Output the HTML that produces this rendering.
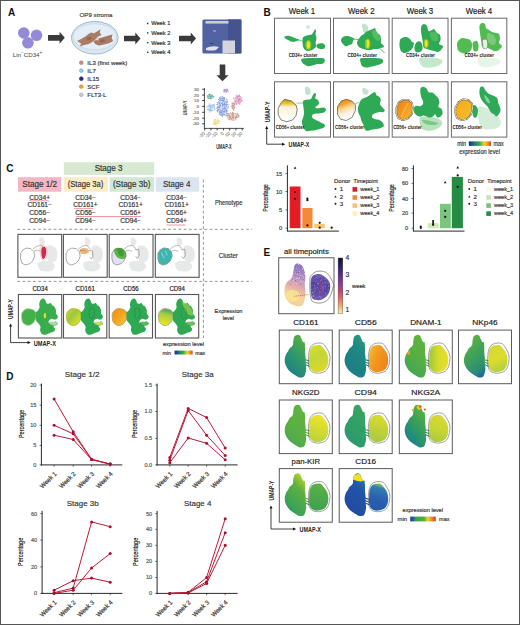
<!DOCTYPE html>
<html><head><meta charset="utf-8"><style>
html,body{margin:0;padding:0;background:#fff;}
svg{display:block;font-family:"Liberation Sans", sans-serif;}
</style></head><body>
<svg width="520" height="625" viewBox="0 0 520 625">
<defs>
<linearGradient id="gExpr" x1="0" x2="1" y1="0" y2="0">
<stop offset="0" stop-color="#1b2a6a"/><stop offset="0.12" stop-color="#1f4a8c"/><stop offset="0.3" stop-color="#1f8a6e"/>
<stop offset="0.48" stop-color="#3ca846"/><stop offset="0.62" stop-color="#a6cb32"/><stop offset="0.72" stop-color="#f0d422"/><stop offset="0.86" stop-color="#f28a22"/><stop offset="1" stop-color="#d8402a"/>
</linearGradient>
<linearGradient id="gB5" x1="0" x2="0" y1="0" y2="1">
<stop offset="0" stop-color="#c8901a"/><stop offset="0.18" stop-color="#e8c228"/><stop offset="0.35" stop-color="#fbf3d8"/><stop offset="1" stop-color="#ffffff"/>
</linearGradient>
<linearGradient id="gB6" x1="0" x2="0.3" y1="0" y2="1">
<stop offset="0" stop-color="#e47a12"/><stop offset="0.3" stop-color="#f2a32a"/><stop offset="0.5" stop-color="#f8d89a"/><stop offset="0.75" stop-color="#fdf3e6"/><stop offset="1" stop-color="#ffffff"/>
</linearGradient>
<linearGradient id="gB7" x1="0" x2="1" y1="0" y2="1">
<stop offset="0" stop-color="#ef7d14"/><stop offset="0.5" stop-color="#f29a1c"/><stop offset="1" stop-color="#f6c43a"/>
</linearGradient>
<linearGradient id="gB8" x1="0" x2="1" y1="0" y2="1">
<stop offset="0" stop-color="#f6a81c"/><stop offset="0.5" stop-color="#f4b420"/><stop offset="1" stop-color="#f2c232"/>
</linearGradient>

<linearGradient id="gC161" x1="0" x2="1" y1="0" y2="1">
<stop offset="0" stop-color="#d8d828"/><stop offset="0.4" stop-color="#9ac840"/><stop offset="0.7" stop-color="#c8d830"/><stop offset="1" stop-color="#f0e420"/>
</linearGradient>
<linearGradient id="gC56" x1="0" x2="1" y1="0" y2="1">
<stop offset="0" stop-color="#f08a10"/><stop offset="0.5" stop-color="#f4a420"/><stop offset="1" stop-color="#f8d040"/>
</linearGradient>
<linearGradient id="gC94" x1="0.5" x2="0.3" y1="0" y2="1">
<stop offset="0" stop-color="#3aa070"/><stop offset="0.35" stop-color="#a8d040"/><stop offset="1" stop-color="#f2e620"/>
</linearGradient>

<path id="eL" d="M15.10,6.50 C15.73,5.50 16.90,4.98 17.80,4.80 C18.70,4.62 19.78,4.77 20.50,5.40 C21.22,6.03 21.57,7.53 22.10,8.60 C22.63,9.67 23.17,11.17 23.70,11.80 C24.23,12.43 24.95,11.50 25.30,12.40 C25.65,13.30 25.72,15.50 25.80,17.20 C25.88,18.90 25.70,20.80 25.80,22.60 C25.90,24.40 26.30,26.20 26.40,28.00 C26.50,29.80 26.32,31.60 26.40,33.40 C26.48,35.20 27.00,37.00 26.90,38.80 C26.80,40.60 26.25,42.87 25.80,44.20 C25.35,45.53 25.08,46.27 24.20,46.80 C23.32,47.33 21.67,47.57 20.50,47.40 C19.33,47.23 18.47,46.52 17.20,45.80 C15.93,45.08 14.23,44.10 12.90,43.10 C11.57,42.10 10.27,41.07 9.20,39.80 C8.13,38.53 7.13,37.10 6.50,35.50 C5.87,33.90 5.40,31.98 5.40,30.20 C5.40,28.42 5.97,26.25 6.50,24.80 C7.03,23.35 7.98,22.58 8.60,21.50 C9.22,20.42 9.38,19.37 10.20,18.30 C11.02,17.23 12.87,16.35 13.50,15.10 C14.13,13.85 13.73,12.23 14.00,10.80 C14.27,9.37 14.47,7.50 15.10,6.50Z"/>
<path id="eR" d="M31.20,19.40 C31.73,18.33 32.32,16.92 33.40,16.20 C34.48,15.48 36.28,15.20 37.70,15.10 C39.12,15.00 40.65,14.88 41.90,15.60 C43.15,16.32 44.20,18.05 45.20,19.40 C46.20,20.75 47.27,22.08 47.90,23.70 C48.53,25.32 48.90,27.30 49.00,29.10 C49.10,30.90 48.95,32.88 48.50,34.50 C48.05,36.12 47.20,37.73 46.30,38.80 C45.40,39.87 44.35,40.37 43.10,40.90 C41.85,41.43 40.23,41.90 38.80,42.00 C37.37,42.10 35.77,42.03 34.50,41.50 C33.23,40.97 31.97,39.97 31.20,38.80 C30.43,37.63 30.12,36.30 29.90,34.50 C29.68,32.70 29.85,29.98 29.90,28.00 C29.95,26.02 29.98,24.03 30.20,22.60 C30.42,21.17 30.67,20.47 31.20,19.40Z"/>
<path id="eP" d="M31.20,17.20 C32.02,15.77 33.07,14.72 34.50,14.00 C35.93,13.28 38.18,12.90 39.80,12.90 C41.42,12.90 42.93,13.10 44.20,14.00 C45.47,14.90 46.42,16.68 47.40,18.30 C48.38,19.92 49.57,21.90 50.10,23.70 C50.63,25.50 50.70,27.13 50.60,29.10 C50.50,31.07 50.03,33.72 49.50,35.50 C48.97,37.28 48.28,38.72 47.40,39.80 C46.52,40.88 45.53,41.45 44.20,42.00 C42.87,42.55 41.02,43.02 39.40,43.10 C37.78,43.18 35.87,42.95 34.50,42.50 C33.13,42.05 32.02,41.38 31.20,40.40 C30.38,39.42 29.95,38.30 29.60,36.60 C29.25,34.90 29.10,32.53 29.10,30.20 C29.10,27.87 29.25,24.77 29.60,22.60 C29.95,20.43 30.38,18.63 31.20,17.20Z"/>
<path id="aL" d="M18.50,5.70 C19.63,5.62 21.77,6.18 23.00,7.40 C24.23,8.62 25.23,11.12 25.90,13.00 C26.57,14.88 26.92,16.42 27.00,18.70 C27.08,20.98 26.40,24.05 26.40,26.70 C26.40,29.35 27.08,31.77 27.00,34.60 C26.92,37.43 26.57,41.43 25.90,43.70 C25.23,45.97 24.33,47.45 23.00,48.20 C21.67,48.95 19.68,48.57 17.90,48.20 C16.12,47.83 14.00,47.13 12.30,46.00 C10.60,44.87 8.75,43.30 7.70,41.40 C6.65,39.50 6.18,36.68 6.00,34.60 C5.82,32.52 6.13,30.60 6.60,28.90 C7.07,27.20 7.67,25.90 8.80,24.40 C9.93,22.90 12.35,21.80 13.40,19.90 C14.45,18.00 14.63,15.00 15.10,13.00 C15.57,11.00 15.63,9.12 16.20,7.90 C16.77,6.68 17.37,5.78 18.50,5.70Z"/>
<path id="aR" d="M32.70,21.00 C33.33,18.45 34.58,17.75 36.10,17.00 C37.62,16.25 39.92,16.02 41.80,16.50 C43.68,16.98 45.80,18.40 47.40,19.90 C49.00,21.40 50.73,23.43 51.40,25.50 C52.07,27.57 51.87,30.22 51.40,32.30 C50.93,34.38 50.02,36.38 48.60,38.00 C47.18,39.62 44.98,41.33 42.90,42.00 C40.82,42.67 37.72,42.48 36.10,42.00 C34.48,41.52 33.83,40.72 33.20,39.10 C32.57,37.48 32.38,35.32 32.30,32.30 C32.22,29.28 32.07,23.55 32.70,21.00Z"/>
<path id="aP" d="M32.10,18.70 C33.05,17.00 35.22,15.05 37.20,14.20 C39.18,13.35 41.92,13.22 44.00,13.60 C46.08,13.98 47.90,14.52 49.70,16.50 C51.50,18.48 53.95,23.43 54.80,25.50 C55.65,27.57 55.27,26.82 54.80,28.90 C54.33,30.98 53.23,35.53 52.00,38.00 C50.77,40.47 49.30,42.47 47.40,43.70 C45.50,44.93 42.68,45.32 40.60,45.40 C38.52,45.48 36.22,44.87 34.90,44.20 C33.58,43.53 33.27,43.38 32.70,41.40 C32.13,39.42 31.70,35.13 31.50,32.30 C31.30,29.47 31.40,26.67 31.50,24.40 C31.60,22.13 31.15,20.40 32.10,18.70Z"/>
<clipPath id="clipAR"><path d="M32.70,21.00 C33.33,18.45 34.58,17.75 36.10,17.00 C37.62,16.25 39.92,16.02 41.80,16.50 C43.68,16.98 45.80,18.40 47.40,19.90 C49.00,21.40 50.73,23.43 51.40,25.50 C52.07,27.57 51.87,30.22 51.40,32.30 C50.93,34.38 50.02,36.38 48.60,38.00 C47.18,39.62 44.98,41.33 42.90,42.00 C40.82,42.67 37.72,42.48 36.10,42.00 C34.48,41.52 33.83,40.72 33.20,39.10 C32.57,37.48 32.38,35.32 32.30,32.30 C32.22,29.28 32.07,23.55 32.70,21.00Z"/></clipPath>
<clipPath id="clipAL"><path d="M18.50,5.70 C19.63,5.62 21.77,6.18 23.00,7.40 C24.23,8.62 25.23,11.12 25.90,13.00 C26.57,14.88 26.92,16.42 27.00,18.70 C27.08,20.98 26.40,24.05 26.40,26.70 C26.40,29.35 27.08,31.77 27.00,34.60 C26.92,37.43 26.57,41.43 25.90,43.70 C25.23,45.97 24.33,47.45 23.00,48.20 C21.67,48.95 19.68,48.57 17.90,48.20 C16.12,47.83 14.00,47.13 12.30,46.00 C10.60,44.87 8.75,43.30 7.70,41.40 C6.65,39.50 6.18,36.68 6.00,34.60 C5.82,32.52 6.13,30.60 6.60,28.90 C7.07,27.20 7.67,25.90 8.80,24.40 C9.93,22.90 12.35,21.80 13.40,19.90 C14.45,18.00 14.63,15.00 15.10,13.00 C15.57,11.00 15.63,9.12 16.20,7.90 C16.77,6.68 17.37,5.78 18.50,5.70Z"/></clipPath>
<linearGradient id="gExprE" x1="0" y1="0" x2="1" y2="0"><stop offset="0" stop-color="#1f3c9c"/><stop offset="0.1" stop-color="#2456a4"/><stop offset="0.22" stop-color="#3aa04a"/><stop offset="0.55" stop-color="#52b044"/><stop offset="0.68" stop-color="#e8d42c"/><stop offset="0.84" stop-color="#f08a2c"/><stop offset="1" stop-color="#dc3a2e"/></linearGradient>
<linearGradient id="gWeek" x1="0" y1="0" x2="0" y2="1"><stop offset="0" stop-color="#120a30"/><stop offset="0.15" stop-color="#2e1f66"/><stop offset="0.3" stop-color="#5a2a8a"/><stop offset="0.45" stop-color="#8e3591"/><stop offset="0.6" stop-color="#c2437a"/><stop offset="0.72" stop-color="#e8645e"/><stop offset="0.86" stop-color="#f8a56e"/><stop offset="1" stop-color="#fbf2a8"/></linearGradient>
<linearGradient id="gEall" x1="0.5" y1="0" x2="0.3" y2="1"><stop offset="0" stop-color="#8f74bf"/><stop offset="0.3" stop-color="#b892c4"/><stop offset="0.5" stop-color="#e4a9ab"/><stop offset="0.75" stop-color="#f4d69a"/><stop offset="1" stop-color="#efcfa0"/></linearGradient>
<linearGradient id="gEallR" x1="0" y1="0" x2="0" y2="1"><stop offset="0" stop-color="#6a58b0"/><stop offset="0.5" stop-color="#5844a0"/><stop offset="1" stop-color="#6a5ab0"/></linearGradient>
<linearGradient id="eL1" x1="0.7" y1="0" x2="0.2" y2="1"><stop offset="0" stop-color="#5aac40"/><stop offset="0.45" stop-color="#2f9a6a"/><stop offset="1" stop-color="#1c7a8a"/></linearGradient>
<linearGradient id="eR1" x1="0" y1="0" x2="0.3" y2="1"><stop offset="0" stop-color="#d6df2a"/><stop offset="0.5" stop-color="#c4d636"/><stop offset="1" stop-color="#d8d830"/></linearGradient>
<linearGradient id="eL2" x1="0.7" y1="0" x2="0.2" y2="1"><stop offset="0" stop-color="#279a78"/><stop offset="0.3" stop-color="#1f8882"/><stop offset="1" stop-color="#1c7a86"/></linearGradient>
<linearGradient id="eR2" x1="0" y1="0.2" x2="1" y2="0.8"><stop offset="0" stop-color="#f4b830"/><stop offset="0.4" stop-color="#f3981e"/><stop offset="1" stop-color="#ee7f1a"/></linearGradient>
<linearGradient id="eL3" x1="0.7" y1="0" x2="0.2" y2="1"><stop offset="0" stop-color="#5fb43e"/><stop offset="0.5" stop-color="#56ae44"/><stop offset="1" stop-color="#3ea25a"/></linearGradient>
<linearGradient id="eR3" x1="0" y1="0.5" x2="1" y2="0.5"><stop offset="0" stop-color="#9cc83a"/><stop offset="0.5" stop-color="#d8dc2a"/><stop offset="1" stop-color="#e8e028"/></linearGradient>
<linearGradient id="eL4" x1="0.3" y1="0" x2="0.7" y2="1"><stop offset="0" stop-color="#5cb440"/><stop offset="0.5" stop-color="#3ea05a"/><stop offset="0.85" stop-color="#2a8c78"/><stop offset="1" stop-color="#1e6aa0"/></linearGradient>
<linearGradient id="eR4" x1="0" y1="0" x2="0.3" y2="1"><stop offset="0" stop-color="#d0d838"/><stop offset="0.6" stop-color="#dcdc2c"/><stop offset="1" stop-color="#b8d040"/></linearGradient>
<linearGradient id="eL5" x1="0.7" y1="0" x2="0.2" y2="1"><stop offset="0" stop-color="#5eb43e"/><stop offset="0.6" stop-color="#5aaf44"/><stop offset="1" stop-color="#46a454"/></linearGradient>
<linearGradient id="eR5" x1="0.5" y1="0" x2="0.3" y2="1"><stop offset="0" stop-color="#ece42a"/><stop offset="0.5" stop-color="#d4dc30"/><stop offset="1" stop-color="#b8d040"/></linearGradient>
<linearGradient id="eL6" x1="0.7" y1="0" x2="0.2" y2="1"><stop offset="0" stop-color="#3aa260"/><stop offset="0.5" stop-color="#30a068"/><stop offset="1" stop-color="#2a9670"/></linearGradient>
<linearGradient id="eR6" x1="0.5" y1="0" x2="0.3" y2="1"><stop offset="0" stop-color="#d8dc2c"/><stop offset="0.5" stop-color="#c0d238"/><stop offset="1" stop-color="#a8c844"/></linearGradient>
<linearGradient id="eL7" x1="0.8" y1="0" x2="0.2" y2="1"><stop offset="0" stop-color="#5fb43e"/><stop offset="0.4" stop-color="#3aa058"/><stop offset="0.8" stop-color="#1f8a80"/><stop offset="1" stop-color="#1a6f94"/></linearGradient>
<linearGradient id="eR7" x1="0.5" y1="0" x2="0.3" y2="1"><stop offset="0" stop-color="#d6da30"/><stop offset="0.5" stop-color="#c8d634"/><stop offset="1" stop-color="#a8c844"/></linearGradient>
<linearGradient id="eL8" x1="0.7" y1="0" x2="0.2" y2="1"><stop offset="0" stop-color="#b8d034"/><stop offset="0.3" stop-color="#5eb040"/><stop offset="0.7" stop-color="#40a454"/><stop offset="1" stop-color="#2a9868"/></linearGradient>
<linearGradient id="eR8" x1="0.5" y1="0" x2="0.3" y2="1"><stop offset="0" stop-color="#5eb044"/><stop offset="0.5" stop-color="#4aa84c"/><stop offset="1" stop-color="#3ea050"/></linearGradient>
<linearGradient id="eL9" x1="0.7" y1="0" x2="0.2" y2="1"><stop offset="0" stop-color="#2a70b0"/><stop offset="0.3" stop-color="#2254a8"/><stop offset="1" stop-color="#1f4aa0"/></linearGradient>
<linearGradient id="eR9" x1="0.5" y1="0" x2="0.3" y2="1"><stop offset="0" stop-color="#8ec448"/><stop offset="0.15" stop-color="#3080b0"/><stop offset="0.5" stop-color="#2a62b0"/><stop offset="1" stop-color="#2458a8"/></linearGradient>
</defs>
<rect x="0" y="0" width="520" height="625" fill="#fff"/>
<text x="8" y="16" font-size="10" text-anchor="start" font-weight="bold" fill="#111" >A</text>
<circle cx="23.8" cy="33" r="5.8" fill="#948ad8"/>
<circle cx="36.5" cy="35.3" r="5.8" fill="#948ad8"/>
<circle cx="27.9" cy="42.8" r="5.8" fill="#948ad8"/>
<text x="12.8" y="56.6" font-size="6.2" fill="#444">Lin<tspan font-size="4.5" dy="-2.2">−</tspan><tspan dy="2.2">CD34</tspan><tspan font-size="4.5" dy="-2.2">+</tspan></text>
<polygon points="48.0,34.9 59.6,34.9 59.6,31.7 64.8,37.8 59.6,43.8 59.6,40.7 48.0,40.7" fill="#3a3a3a"/>
<text x="96" y="17" font-size="6.2" text-anchor="middle" font-weight="normal" fill="#444" stroke="#444" stroke-width="0.18" >OP9 stroma</text>
<ellipse cx="94.8" cy="37.8" rx="23.3" ry="16.3" fill="#d9e7f2" stroke="#8ea8c0" stroke-width="0.8"/>
<ellipse cx="94.8" cy="36.8" rx="21.6" ry="13" fill="#e4eef7" stroke="#c0d4e4" stroke-width="0.7"/>
<path d="M77,41 L82,38.5 L86,36 L88.5,34 L91,32.6 L94,33.3 L97,31.5 L100.5,29.2 L99.8,32.8 L101.5,35 L97.5,37 L95.5,39.5 L92,42.3 L88,44.3 L84,45 L80,46.5 L81,43.5 Z" fill="#ab7c64"/>
<path d="M93.5,41.5 L98,38.6 L102,37.4 L106,36.3 L109.5,35.2 L112.6,34.5 L111.6,38 L113.2,41 L109,43.2 L104,44.6 L99,45.6 L95.5,44.2 Z" fill="#a87a63"/>
<path d="M86,38 L90,36.5 L92,38.5 L88,40.5 Z M100,40 L104,39 L105,41.5 L101,42.5 Z" fill="#8a5c48" opacity="0.7"/>
<path d="M95.5,39.5 L99,38.3 L98,40.8 Z" fill="#e8d8d0"/>
<circle cx="81.3" cy="62.7" r="1.9" fill="#c8907f" stroke="#b07868" stroke-width="0.6"/>
<text x="87.3" y="64.8" font-size="6.1" text-anchor="start" font-weight="normal" fill="#3a3a3a" stroke="#3a3a3a" stroke-width="0.18" >IL3 (first week)</text>
<circle cx="81.3" cy="70.6" r="1.9" fill="#86d3e3" stroke="#5ab8cc" stroke-width="0.6"/>
<text x="87.3" y="72.69999999999999" font-size="6.1" text-anchor="start" font-weight="normal" fill="#3a3a3a" stroke="#3a3a3a" stroke-width="0.18" >IL7</text>
<circle cx="81.3" cy="78.7" r="1.9" fill="#2d2a78" stroke="#25226a" stroke-width="0.6"/>
<text x="87.3" y="80.8" font-size="6.1" text-anchor="start" font-weight="normal" fill="#3a3a3a" stroke="#3a3a3a" stroke-width="0.18" >IL15</text>
<circle cx="81.3" cy="86.6" r="1.9" fill="#e6a633" stroke="#d09020" stroke-width="0.6"/>
<text x="87.3" y="88.69999999999999" font-size="6.1" text-anchor="start" font-weight="normal" fill="#3a3a3a" stroke="#3a3a3a" stroke-width="0.18" >SCF</text>
<circle cx="81.3" cy="94.8" r="1.9" fill="#c9c9c9" stroke="#a8a8a8" stroke-width="0.6"/>
<text x="87.3" y="96.89999999999999" font-size="6.1" text-anchor="start" font-weight="normal" fill="#3a3a3a" stroke="#3a3a3a" stroke-width="0.18" >FLT3-L</text>
<polygon points="124.0,35.7 135.3,35.7 135.3,32.5 140.5,38.5 135.3,44.5 135.3,41.3 124.0,41.3" fill="#3a3a3a"/>
<rect x="147" y="22.799999999999997" width="1.4" height="1.4" fill="#333"/>
<text x="151.2" y="25.4" font-size="5.7" text-anchor="start" font-weight="normal" fill="#333" stroke="#333" stroke-width="0.18" >Week 1</text>
<rect x="147" y="32.199999999999996" width="1.4" height="1.4" fill="#333"/>
<text x="151.2" y="34.8" font-size="5.7" text-anchor="start" font-weight="normal" fill="#333" stroke="#333" stroke-width="0.18" >Week 2</text>
<rect x="147" y="42.0" width="1.4" height="1.4" fill="#333"/>
<text x="151.2" y="44.6" font-size="5.7" text-anchor="start" font-weight="normal" fill="#333" stroke="#333" stroke-width="0.18" >Week 3</text>
<rect x="147" y="51.6" width="1.4" height="1.4" fill="#333"/>
<text x="151.2" y="54.2" font-size="5.7" text-anchor="start" font-weight="normal" fill="#333" stroke="#333" stroke-width="0.18" >Week 4</text>
<polygon points="179.0,35.7 190.8,35.7 190.8,32.5 196.0,38.5 190.8,44.5 190.8,41.3 179.0,41.3" fill="#3a3a3a"/>
<rect x="202.4" y="19.4" width="39" height="34" rx="1.5" fill="#5163a2"/>
<rect x="228" y="19.4" width="13.4" height="34" fill="#45548f"/>
<rect x="205.5" y="21" width="23" height="2.6" fill="#c8ccd6"/>
<rect x="222.5" y="40.5" width="12.5" height="12.8" fill="#d3d6dd"/>
<path d="M206,48 Q212,45 219,47 L216,50 Q210,51 206,50 Z" fill="#dfe3ee"/>
<rect x="213" y="30.5" width="3" height="0.9" fill="#c8cde0"/>
<rect x="210" y="43" width="3.5" height="0.9" fill="#2c3a70"/>
<polygon points="219.7,64.5 225.3,64.5 225.3,75.3 228.6,75.3 222.5,81.3 216.4,75.3 219.7,75.3" fill="#3a3a3a"/>
<line x1="204.4" y1="88" x2="204.4" y2="128.8" stroke="#222" stroke-width="0.8"/>
<line x1="204" y1="128.4" x2="243.8" y2="128.4" stroke="#222" stroke-width="0.8"/>
<text x="198.9" y="90.8" font-size="4.3" text-anchor="end" font-weight="normal" fill="#777" stroke="#777" stroke-width="0.18" >30</text>
<line x1="202.2" y1="89.3" x2="204.4" y2="89.3" stroke="#222" stroke-width="0.9"/>
<text x="198.9" y="96.6" font-size="4.3" text-anchor="end" font-weight="normal" fill="#777" stroke="#777" stroke-width="0.18" >20</text>
<line x1="202.2" y1="95.1" x2="204.4" y2="95.1" stroke="#222" stroke-width="0.9"/>
<text x="198.9" y="102.0" font-size="4.3" text-anchor="end" font-weight="normal" fill="#777" stroke="#777" stroke-width="0.18" >10</text>
<line x1="202.2" y1="100.5" x2="204.4" y2="100.5" stroke="#222" stroke-width="0.9"/>
<text x="198.9" y="107.9" font-size="4.3" text-anchor="end" font-weight="normal" fill="#777" stroke="#777" stroke-width="0.18" >0</text>
<line x1="202.2" y1="106.4" x2="204.4" y2="106.4" stroke="#222" stroke-width="0.9"/>
<text x="198.9" y="113.8" font-size="4.3" text-anchor="end" font-weight="normal" fill="#777" stroke="#777" stroke-width="0.18" >-10</text>
<line x1="202.2" y1="112.3" x2="204.4" y2="112.3" stroke="#222" stroke-width="0.9"/>
<text x="198.9" y="119.7" font-size="4.3" text-anchor="end" font-weight="normal" fill="#777" stroke="#777" stroke-width="0.18" >-20</text>
<line x1="202.2" y1="118.2" x2="204.4" y2="118.2" stroke="#222" stroke-width="0.9"/>
<text x="198.9" y="125.3" font-size="4.3" text-anchor="end" font-weight="normal" fill="#777" stroke="#777" stroke-width="0.18" >-30</text>
<line x1="202.2" y1="123.8" x2="204.4" y2="123.8" stroke="#222" stroke-width="0.9"/>
<line x1="204.7" y1="128.4" x2="204.7" y2="130.4" stroke="#222" stroke-width="0.9"/>
<text x="205.29999999999998" y="133.6" font-size="4.6" text-anchor="end" fill="#888" stroke="#888" stroke-width="0.1" transform="rotate(-45 205.29999999999998 133.6)">-30</text>
<line x1="210.95" y1="128.4" x2="210.95" y2="130.4" stroke="#222" stroke-width="0.9"/>
<text x="211.54999999999998" y="133.6" font-size="4.6" text-anchor="end" fill="#888" stroke="#888" stroke-width="0.1" transform="rotate(-45 211.54999999999998 133.6)">-20</text>
<line x1="217.2" y1="128.4" x2="217.2" y2="130.4" stroke="#222" stroke-width="0.9"/>
<text x="217.79999999999998" y="133.6" font-size="4.6" text-anchor="end" fill="#888" stroke="#888" stroke-width="0.1" transform="rotate(-45 217.79999999999998 133.6)">-10</text>
<line x1="223.45" y1="128.4" x2="223.45" y2="130.4" stroke="#222" stroke-width="0.9"/>
<text x="224.04999999999998" y="133.6" font-size="4.6" text-anchor="end" fill="#888" stroke="#888" stroke-width="0.1" transform="rotate(-45 224.04999999999998 133.6)">0</text>
<line x1="229.7" y1="128.4" x2="229.7" y2="130.4" stroke="#222" stroke-width="0.9"/>
<text x="230.29999999999998" y="133.6" font-size="4.6" text-anchor="end" fill="#888" stroke="#888" stroke-width="0.1" transform="rotate(-45 230.29999999999998 133.6)">10</text>
<line x1="235.95" y1="128.4" x2="235.95" y2="130.4" stroke="#222" stroke-width="0.9"/>
<text x="236.54999999999998" y="133.6" font-size="4.6" text-anchor="end" fill="#888" stroke="#888" stroke-width="0.1" transform="rotate(-45 236.54999999999998 133.6)">20</text>
<line x1="242.2" y1="128.4" x2="242.2" y2="130.4" stroke="#222" stroke-width="0.9"/>
<text x="242.79999999999998" y="133.6" font-size="4.6" text-anchor="end" fill="#888" stroke="#888" stroke-width="0.1" transform="rotate(-45 242.79999999999998 133.6)">30</text>
<text x="187.1" y="107.9" font-size="5.4" text-anchor="middle" fill="#333" font-weight="bold" textLength="14.7" lengthAdjust="spacingAndGlyphs" transform="rotate(-90 187.1 107.9)">UMAP-Y</text>
<text x="224" y="148.5" font-size="6.3" text-anchor="middle" fill="#333" font-weight="bold" textLength="15.4" lengthAdjust="spacingAndGlyphs">UMAP-X</text>
<ellipse cx="210.7" cy="96.8" rx="2.8800000000000003" ry="2.2399999999999998" fill="#4fa392" opacity="0.35"/>
<circle cx="210.9" cy="98.9" r="0.5" fill="#4fa392"/>
<circle cx="208.8" cy="98.4" r="0.5" fill="#4fa392"/>
<circle cx="210.1" cy="96.3" r="0.5" fill="#4fa392"/>
<circle cx="214.0" cy="97.0" r="0.5" fill="#4fa392"/>
<circle cx="210.6" cy="98.2" r="0.5" fill="#4fa392"/>
<circle cx="213.2" cy="96.7" r="0.5" fill="#4fa392"/>
<circle cx="212.0" cy="95.1" r="0.5" fill="#4fa392"/>
<circle cx="209.8" cy="96.0" r="0.5" fill="#4fa392"/>
<circle cx="208.5" cy="94.8" r="0.5" fill="#4fa392"/>
<circle cx="207.6" cy="96.5" r="0.5" fill="#4fa392"/>
<circle cx="210.3" cy="96.2" r="0.5" fill="#4fa392"/>
<circle cx="210.8" cy="94.7" r="0.5" fill="#4fa392"/>
<circle cx="210.5" cy="97.3" r="0.5" fill="#4fa392"/>
<circle cx="212.3" cy="95.4" r="0.5" fill="#4fa392"/>
<circle cx="210.0" cy="94.2" r="0.5" fill="#4fa392"/>
<circle cx="209.9" cy="94.2" r="0.5" fill="#4fa392"/>
<circle cx="208.2" cy="98.3" r="0.5" fill="#4fa392"/>
<circle cx="207.4" cy="97.7" r="0.5" fill="#4fa392"/>
<circle cx="211.5" cy="96.2" r="0.5" fill="#4fa392"/>
<circle cx="211.8" cy="97.8" r="0.5" fill="#4fa392"/>
<circle cx="213.0" cy="96.4" r="0.5" fill="#4fa392"/>
<circle cx="209.3" cy="95.7" r="0.5" fill="#4fa392"/>
<circle cx="208.5" cy="96.7" r="0.5" fill="#4fa392"/>
<circle cx="209.1" cy="98.5" r="0.5" fill="#4fa392"/>
<circle cx="207.7" cy="95.5" r="0.5" fill="#4fa392"/>
<circle cx="209.3" cy="94.3" r="0.5" fill="#4fa392"/>
<ellipse cx="211.2" cy="107.8" rx="3.6799999999999997" ry="3.6799999999999997" fill="#9ec3e6" opacity="0.35"/>
<circle cx="214.0" cy="104.2" r="0.5" fill="#9ec3e6"/>
<circle cx="210.3" cy="106.2" r="0.5" fill="#9ec3e6"/>
<circle cx="214.1" cy="104.3" r="0.5" fill="#9ec3e6"/>
<circle cx="214.1" cy="105.8" r="0.5" fill="#9ec3e6"/>
<circle cx="210.7" cy="105.7" r="0.5" fill="#9ec3e6"/>
<circle cx="212.9" cy="104.8" r="0.5" fill="#9ec3e6"/>
<circle cx="210.9" cy="108.9" r="0.5" fill="#9ec3e6"/>
<circle cx="214.0" cy="104.2" r="0.5" fill="#9ec3e6"/>
<circle cx="214.7" cy="110.0" r="0.5" fill="#9ec3e6"/>
<circle cx="209.7" cy="108.8" r="0.5" fill="#9ec3e6"/>
<circle cx="210.1" cy="111.7" r="0.5" fill="#9ec3e6"/>
<circle cx="211.9" cy="107.1" r="0.5" fill="#9ec3e6"/>
<circle cx="210.5" cy="107.2" r="0.5" fill="#9ec3e6"/>
<circle cx="210.7" cy="105.2" r="0.5" fill="#9ec3e6"/>
<circle cx="214.5" cy="104.7" r="0.5" fill="#9ec3e6"/>
<circle cx="206.6" cy="107.6" r="0.5" fill="#9ec3e6"/>
<circle cx="210.7" cy="109.0" r="0.5" fill="#9ec3e6"/>
<circle cx="210.5" cy="107.3" r="0.5" fill="#9ec3e6"/>
<circle cx="212.2" cy="110.6" r="0.5" fill="#9ec3e6"/>
<circle cx="209.8" cy="106.6" r="0.5" fill="#9ec3e6"/>
<circle cx="215.3" cy="108.9" r="0.5" fill="#9ec3e6"/>
<circle cx="209.4" cy="111.9" r="0.5" fill="#9ec3e6"/>
<circle cx="213.5" cy="106.1" r="0.5" fill="#9ec3e6"/>
<circle cx="208.0" cy="108.6" r="0.5" fill="#9ec3e6"/>
<circle cx="209.0" cy="105.0" r="0.5" fill="#9ec3e6"/>
<circle cx="207.8" cy="106.5" r="0.5" fill="#9ec3e6"/>
<circle cx="214.3" cy="106.6" r="0.5" fill="#9ec3e6"/>
<circle cx="207.7" cy="109.4" r="0.5" fill="#9ec3e6"/>
<circle cx="211.4" cy="110.3" r="0.5" fill="#9ec3e6"/>
<circle cx="214.5" cy="107.3" r="0.5" fill="#9ec3e6"/>
<circle cx="210.7" cy="107.7" r="0.5" fill="#9ec3e6"/>
<circle cx="208.2" cy="109.6" r="0.5" fill="#9ec3e6"/>
<circle cx="214.8" cy="108.3" r="0.5" fill="#9ec3e6"/>
<circle cx="210.4" cy="107.0" r="0.5" fill="#9ec3e6"/>
<circle cx="209.0" cy="105.5" r="0.5" fill="#9ec3e6"/>
<circle cx="210.0" cy="105.3" r="0.5" fill="#9ec3e6"/>
<circle cx="210.1" cy="104.0" r="0.5" fill="#9ec3e6"/>
<circle cx="212.3" cy="108.0" r="0.5" fill="#9ec3e6"/>
<circle cx="209.2" cy="103.8" r="0.5" fill="#9ec3e6"/>
<circle cx="211.2" cy="110.9" r="0.5" fill="#9ec3e6"/>
<circle cx="209.0" cy="106.4" r="0.5" fill="#9ec3e6"/>
<circle cx="209.5" cy="109.7" r="0.5" fill="#9ec3e6"/>
<circle cx="208.8" cy="110.4" r="0.5" fill="#9ec3e6"/>
<circle cx="210.3" cy="110.5" r="0.5" fill="#9ec3e6"/>
<circle cx="211.3" cy="107.1" r="0.5" fill="#9ec3e6"/>
<circle cx="207.6" cy="106.1" r="0.5" fill="#9ec3e6"/>
<circle cx="210.4" cy="109.8" r="0.5" fill="#9ec3e6"/>
<circle cx="211.9" cy="105.7" r="0.5" fill="#9ec3e6"/>
<circle cx="212.4" cy="110.6" r="0.5" fill="#9ec3e6"/>
<circle cx="210.7" cy="106.4" r="0.5" fill="#9ec3e6"/>
<circle cx="210.0" cy="110.2" r="0.5" fill="#9ec3e6"/>
<circle cx="212.7" cy="105.2" r="0.5" fill="#9ec3e6"/>
<circle cx="212.4" cy="106.3" r="0.5" fill="#9ec3e6"/>
<circle cx="209.3" cy="111.0" r="0.5" fill="#9ec3e6"/>
<circle cx="213.5" cy="105.8" r="0.5" fill="#9ec3e6"/>
<ellipse cx="222.5" cy="106.5" rx="4.960000000000001" ry="8.4" fill="#7d98d6" opacity="0.35"/>
<circle cx="222.8" cy="110.1" r="0.5" fill="#7d98d6"/>
<circle cx="219.8" cy="105.7" r="0.5" fill="#7d98d6"/>
<circle cx="224.5" cy="97.5" r="0.5" fill="#7d98d6"/>
<circle cx="223.8" cy="111.6" r="0.5" fill="#7d98d6"/>
<circle cx="224.2" cy="98.6" r="0.5" fill="#7d98d6"/>
<circle cx="223.8" cy="100.7" r="0.5" fill="#7d98d6"/>
<circle cx="224.8" cy="110.6" r="0.5" fill="#7d98d6"/>
<circle cx="223.4" cy="101.2" r="0.5" fill="#7d98d6"/>
<circle cx="220.2" cy="112.1" r="0.5" fill="#7d98d6"/>
<circle cx="219.0" cy="109.7" r="0.5" fill="#7d98d6"/>
<circle cx="224.7" cy="104.5" r="0.5" fill="#7d98d6"/>
<circle cx="228.5" cy="106.8" r="0.5" fill="#7d98d6"/>
<circle cx="227.0" cy="99.4" r="0.5" fill="#7d98d6"/>
<circle cx="217.0" cy="110.6" r="0.5" fill="#7d98d6"/>
<circle cx="225.1" cy="104.3" r="0.5" fill="#7d98d6"/>
<circle cx="222.3" cy="96.9" r="0.5" fill="#7d98d6"/>
<circle cx="220.2" cy="100.0" r="0.5" fill="#7d98d6"/>
<circle cx="221.6" cy="112.4" r="0.5" fill="#7d98d6"/>
<circle cx="222.7" cy="109.2" r="0.5" fill="#7d98d6"/>
<circle cx="219.7" cy="103.5" r="0.5" fill="#7d98d6"/>
<circle cx="223.0" cy="104.4" r="0.5" fill="#7d98d6"/>
<circle cx="226.7" cy="101.5" r="0.5" fill="#7d98d6"/>
<circle cx="227.7" cy="101.9" r="0.5" fill="#7d98d6"/>
<circle cx="226.3" cy="101.8" r="0.5" fill="#7d98d6"/>
<circle cx="227.8" cy="107.2" r="0.5" fill="#7d98d6"/>
<circle cx="224.1" cy="111.6" r="0.5" fill="#7d98d6"/>
<circle cx="220.2" cy="100.0" r="0.5" fill="#7d98d6"/>
<circle cx="217.4" cy="111.7" r="0.5" fill="#7d98d6"/>
<circle cx="219.7" cy="102.5" r="0.5" fill="#7d98d6"/>
<circle cx="222.4" cy="116.2" r="0.5" fill="#7d98d6"/>
<circle cx="217.1" cy="107.8" r="0.5" fill="#7d98d6"/>
<circle cx="220.9" cy="110.2" r="0.5" fill="#7d98d6"/>
<circle cx="217.0" cy="104.5" r="0.5" fill="#7d98d6"/>
<circle cx="225.1" cy="114.7" r="0.5" fill="#7d98d6"/>
<circle cx="227.4" cy="102.1" r="0.5" fill="#7d98d6"/>
<circle cx="222.7" cy="105.7" r="0.5" fill="#7d98d6"/>
<circle cx="218.5" cy="99.4" r="0.5" fill="#7d98d6"/>
<circle cx="225.6" cy="108.2" r="0.5" fill="#7d98d6"/>
<circle cx="222.0" cy="114.1" r="0.5" fill="#7d98d6"/>
<circle cx="218.7" cy="109.9" r="0.5" fill="#7d98d6"/>
<circle cx="222.5" cy="106.1" r="0.5" fill="#7d98d6"/>
<circle cx="224.6" cy="107.8" r="0.5" fill="#7d98d6"/>
<circle cx="223.6" cy="108.4" r="0.5" fill="#7d98d6"/>
<circle cx="228.2" cy="105.0" r="0.5" fill="#7d98d6"/>
<circle cx="226.3" cy="110.3" r="0.5" fill="#7d98d6"/>
<circle cx="221.1" cy="111.9" r="0.5" fill="#7d98d6"/>
<circle cx="219.5" cy="113.3" r="0.5" fill="#7d98d6"/>
<circle cx="219.3" cy="103.2" r="0.5" fill="#7d98d6"/>
<circle cx="223.8" cy="112.1" r="0.5" fill="#7d98d6"/>
<circle cx="225.8" cy="112.0" r="0.5" fill="#7d98d6"/>
<circle cx="221.7" cy="100.2" r="0.5" fill="#7d98d6"/>
<circle cx="224.8" cy="108.6" r="0.5" fill="#7d98d6"/>
<circle cx="219.1" cy="112.3" r="0.5" fill="#7d98d6"/>
<circle cx="223.3" cy="100.2" r="0.5" fill="#7d98d6"/>
<circle cx="224.0" cy="98.6" r="0.5" fill="#7d98d6"/>
<circle cx="219.1" cy="109.2" r="0.5" fill="#7d98d6"/>
<circle cx="217.3" cy="106.7" r="0.5" fill="#7d98d6"/>
<circle cx="218.0" cy="110.7" r="0.5" fill="#7d98d6"/>
<circle cx="219.5" cy="107.8" r="0.5" fill="#7d98d6"/>
<circle cx="217.5" cy="104.5" r="0.5" fill="#7d98d6"/>
<circle cx="226.1" cy="109.5" r="0.5" fill="#7d98d6"/>
<circle cx="217.3" cy="110.9" r="0.5" fill="#7d98d6"/>
<circle cx="226.0" cy="104.0" r="0.5" fill="#7d98d6"/>
<circle cx="226.9" cy="100.9" r="0.5" fill="#7d98d6"/>
<circle cx="222.2" cy="113.6" r="0.5" fill="#7d98d6"/>
<circle cx="226.5" cy="113.1" r="0.5" fill="#7d98d6"/>
<circle cx="219.4" cy="98.1" r="0.5" fill="#7d98d6"/>
<circle cx="223.8" cy="98.2" r="0.5" fill="#7d98d6"/>
<circle cx="222.0" cy="98.7" r="0.5" fill="#7d98d6"/>
<circle cx="226.3" cy="111.4" r="0.5" fill="#7d98d6"/>
<circle cx="224.8" cy="106.6" r="0.5" fill="#7d98d6"/>
<circle cx="222.7" cy="104.3" r="0.5" fill="#7d98d6"/>
<circle cx="224.1" cy="108.3" r="0.5" fill="#7d98d6"/>
<circle cx="224.4" cy="103.5" r="0.5" fill="#7d98d6"/>
<circle cx="228.1" cy="107.9" r="0.5" fill="#7d98d6"/>
<circle cx="226.6" cy="113.2" r="0.5" fill="#7d98d6"/>
<circle cx="219.9" cy="98.0" r="0.5" fill="#7d98d6"/>
<circle cx="227.0" cy="104.1" r="0.5" fill="#7d98d6"/>
<circle cx="222.9" cy="104.6" r="0.5" fill="#7d98d6"/>
<circle cx="223.0" cy="99.0" r="0.5" fill="#7d98d6"/>
<circle cx="222.1" cy="103.2" r="0.5" fill="#7d98d6"/>
<circle cx="222.5" cy="96.3" r="0.5" fill="#7d98d6"/>
<circle cx="225.8" cy="108.7" r="0.5" fill="#7d98d6"/>
<circle cx="217.3" cy="102.8" r="0.5" fill="#7d98d6"/>
<circle cx="222.6" cy="110.9" r="0.5" fill="#7d98d6"/>
<circle cx="222.5" cy="114.7" r="0.5" fill="#7d98d6"/>
<circle cx="222.6" cy="99.9" r="0.5" fill="#7d98d6"/>
<circle cx="219.9" cy="111.4" r="0.5" fill="#7d98d6"/>
<circle cx="220.1" cy="112.0" r="0.5" fill="#7d98d6"/>
<circle cx="226.3" cy="110.2" r="0.5" fill="#7d98d6"/>
<circle cx="226.4" cy="105.4" r="0.5" fill="#7d98d6"/>
<circle cx="222.5" cy="102.3" r="0.5" fill="#7d98d6"/>
<circle cx="220.5" cy="98.0" r="0.5" fill="#7d98d6"/>
<circle cx="220.4" cy="99.8" r="0.5" fill="#7d98d6"/>
<circle cx="217.6" cy="107.4" r="0.5" fill="#7d98d6"/>
<circle cx="224.4" cy="104.1" r="0.5" fill="#7d98d6"/>
<circle cx="226.9" cy="111.6" r="0.5" fill="#7d98d6"/>
<circle cx="226.4" cy="102.7" r="0.5" fill="#7d98d6"/>
<circle cx="217.6" cy="109.6" r="0.5" fill="#7d98d6"/>
<circle cx="223.8" cy="111.5" r="0.5" fill="#7d98d6"/>
<circle cx="224.0" cy="114.1" r="0.5" fill="#7d98d6"/>
<circle cx="221.3" cy="111.1" r="0.5" fill="#7d98d6"/>
<circle cx="220.3" cy="96.9" r="0.5" fill="#7d98d6"/>
<circle cx="221.0" cy="115.0" r="0.5" fill="#7d98d6"/>
<circle cx="217.6" cy="111.5" r="0.5" fill="#7d98d6"/>
<circle cx="219.7" cy="103.7" r="0.5" fill="#7d98d6"/>
<circle cx="222.7" cy="108.1" r="0.5" fill="#7d98d6"/>
<circle cx="218.7" cy="107.3" r="0.5" fill="#7d98d6"/>
<circle cx="224.2" cy="112.1" r="0.5" fill="#7d98d6"/>
<circle cx="220.1" cy="114.8" r="0.5" fill="#7d98d6"/>
<circle cx="226.3" cy="114.7" r="0.5" fill="#7d98d6"/>
<circle cx="217.7" cy="107.5" r="0.5" fill="#7d98d6"/>
<circle cx="216.9" cy="108.4" r="0.5" fill="#7d98d6"/>
<circle cx="224.5" cy="99.4" r="0.5" fill="#7d98d6"/>
<circle cx="217.3" cy="107.5" r="0.5" fill="#7d98d6"/>
<circle cx="224.9" cy="101.3" r="0.5" fill="#7d98d6"/>
<circle cx="221.9" cy="96.3" r="0.5" fill="#7d98d6"/>
<circle cx="219.6" cy="107.5" r="0.5" fill="#7d98d6"/>
<circle cx="223.0" cy="115.4" r="0.5" fill="#7d98d6"/>
<circle cx="219.8" cy="97.3" r="0.5" fill="#7d98d6"/>
<circle cx="224.4" cy="102.4" r="0.5" fill="#7d98d6"/>
<circle cx="223.7" cy="111.5" r="0.5" fill="#7d98d6"/>
<circle cx="224.5" cy="114.6" r="0.5" fill="#7d98d6"/>
<circle cx="226.2" cy="98.8" r="0.5" fill="#7d98d6"/>
<circle cx="222.3" cy="116.3" r="0.5" fill="#7d98d6"/>
<circle cx="220.9" cy="112.8" r="0.5" fill="#7d98d6"/>
<circle cx="222.3" cy="103.4" r="0.5" fill="#7d98d6"/>
<circle cx="227.2" cy="111.8" r="0.5" fill="#7d98d6"/>
<circle cx="221.5" cy="112.6" r="0.5" fill="#7d98d6"/>
<circle cx="218.0" cy="102.3" r="0.5" fill="#7d98d6"/>
<circle cx="226.1" cy="106.8" r="0.5" fill="#7d98d6"/>
<circle cx="218.5" cy="109.4" r="0.5" fill="#7d98d6"/>
<circle cx="223.7" cy="114.3" r="0.5" fill="#7d98d6"/>
<circle cx="226.2" cy="104.7" r="0.5" fill="#7d98d6"/>
<circle cx="220.4" cy="105.5" r="0.5" fill="#7d98d6"/>
<circle cx="221.7" cy="115.0" r="0.5" fill="#7d98d6"/>
<circle cx="226.9" cy="112.9" r="0.5" fill="#7d98d6"/>
<circle cx="224.1" cy="104.7" r="0.5" fill="#7d98d6"/>
<circle cx="226.0" cy="104.2" r="0.5" fill="#7d98d6"/>
<circle cx="223.3" cy="97.5" r="0.5" fill="#7d98d6"/>
<circle cx="221.1" cy="114.8" r="0.5" fill="#7d98d6"/>
<circle cx="219.3" cy="98.7" r="0.5" fill="#7d98d6"/>
<circle cx="222.0" cy="115.6" r="0.5" fill="#7d98d6"/>
<circle cx="227.4" cy="104.4" r="0.5" fill="#7d98d6"/>
<circle cx="220.5" cy="105.7" r="0.5" fill="#7d98d6"/>
<circle cx="218.8" cy="106.7" r="0.5" fill="#7d98d6"/>
<circle cx="221.5" cy="98.0" r="0.5" fill="#7d98d6"/>
<circle cx="220.1" cy="104.7" r="0.5" fill="#7d98d6"/>
<circle cx="219.5" cy="99.9" r="0.5" fill="#7d98d6"/>
<circle cx="225.0" cy="115.4" r="0.5" fill="#7d98d6"/>
<circle cx="221.3" cy="103.4" r="0.5" fill="#7d98d6"/>
<circle cx="224.6" cy="104.9" r="0.5" fill="#7d98d6"/>
<circle cx="219.9" cy="114.3" r="0.5" fill="#7d98d6"/>
<circle cx="218.7" cy="102.0" r="0.5" fill="#7d98d6"/>
<circle cx="220.0" cy="100.8" r="0.5" fill="#7d98d6"/>
<circle cx="221.5" cy="110.6" r="0.5" fill="#7d98d6"/>
<circle cx="227.3" cy="110.2" r="0.5" fill="#7d98d6"/>
<circle cx="222.6" cy="98.8" r="0.5" fill="#7d98d6"/>
<circle cx="222.3" cy="100.2" r="0.5" fill="#7d98d6"/>
<circle cx="222.1" cy="113.0" r="0.5" fill="#7d98d6"/>
<circle cx="223.4" cy="105.0" r="0.5" fill="#7d98d6"/>
<circle cx="219.4" cy="106.3" r="0.5" fill="#7d98d6"/>
<circle cx="222.9" cy="100.3" r="0.5" fill="#7d98d6"/>
<circle cx="220.5" cy="112.3" r="0.5" fill="#7d98d6"/>
<circle cx="217.2" cy="104.1" r="0.5" fill="#7d98d6"/>
<circle cx="219.1" cy="114.2" r="0.5" fill="#7d98d6"/>
<circle cx="225.0" cy="110.0" r="0.5" fill="#7d98d6"/>
<circle cx="224.2" cy="108.6" r="0.5" fill="#7d98d6"/>
<circle cx="223.5" cy="97.7" r="0.5" fill="#7d98d6"/>
<ellipse cx="226" cy="91" rx="2.2399999999999998" ry="1.92" fill="#a985c6" opacity="0.35"/>
<circle cx="226.5" cy="92.0" r="0.5" fill="#a985c6"/>
<circle cx="223.9" cy="92.0" r="0.5" fill="#a985c6"/>
<circle cx="227.0" cy="89.1" r="0.5" fill="#a985c6"/>
<circle cx="225.1" cy="90.5" r="0.5" fill="#a985c6"/>
<circle cx="225.0" cy="91.6" r="0.5" fill="#a985c6"/>
<circle cx="223.9" cy="90.7" r="0.5" fill="#a985c6"/>
<circle cx="226.4" cy="92.1" r="0.5" fill="#a985c6"/>
<circle cx="226.1" cy="90.6" r="0.5" fill="#a985c6"/>
<circle cx="226.9" cy="88.9" r="0.5" fill="#a985c6"/>
<circle cx="227.6" cy="90.5" r="0.5" fill="#a985c6"/>
<circle cx="224.0" cy="90.4" r="0.5" fill="#a985c6"/>
<circle cx="224.2" cy="89.2" r="0.5" fill="#a985c6"/>
<circle cx="225.4" cy="89.8" r="0.5" fill="#a985c6"/>
<circle cx="227.2" cy="89.7" r="0.5" fill="#a985c6"/>
<circle cx="224.1" cy="89.8" r="0.5" fill="#a985c6"/>
<circle cx="228.5" cy="91.0" r="0.5" fill="#a985c6"/>
<circle cx="225.0" cy="89.6" r="0.5" fill="#a985c6"/>
<ellipse cx="238" cy="99.8" rx="3.84" ry="4.32" fill="#e08ab8" opacity="0.35"/>
<circle cx="234.8" cy="99.3" r="0.5" fill="#e08ab8"/>
<circle cx="239.2" cy="103.5" r="0.5" fill="#e08ab8"/>
<circle cx="241.3" cy="100.7" r="0.5" fill="#e08ab8"/>
<circle cx="236.1" cy="96.9" r="0.5" fill="#e08ab8"/>
<circle cx="233.7" cy="97.7" r="0.5" fill="#e08ab8"/>
<circle cx="239.4" cy="98.6" r="0.5" fill="#e08ab8"/>
<circle cx="239.0" cy="95.7" r="0.5" fill="#e08ab8"/>
<circle cx="240.7" cy="100.8" r="0.5" fill="#e08ab8"/>
<circle cx="238.1" cy="101.3" r="0.5" fill="#e08ab8"/>
<circle cx="233.5" cy="98.5" r="0.5" fill="#e08ab8"/>
<circle cx="236.0" cy="104.3" r="0.5" fill="#e08ab8"/>
<circle cx="237.4" cy="97.9" r="0.5" fill="#e08ab8"/>
<circle cx="240.3" cy="96.5" r="0.5" fill="#e08ab8"/>
<circle cx="241.6" cy="97.8" r="0.5" fill="#e08ab8"/>
<circle cx="237.8" cy="96.6" r="0.5" fill="#e08ab8"/>
<circle cx="239.6" cy="94.9" r="0.5" fill="#e08ab8"/>
<circle cx="240.0" cy="97.1" r="0.5" fill="#e08ab8"/>
<circle cx="238.1" cy="96.0" r="0.5" fill="#e08ab8"/>
<circle cx="238.8" cy="100.5" r="0.5" fill="#e08ab8"/>
<circle cx="239.9" cy="100.9" r="0.5" fill="#e08ab8"/>
<circle cx="239.8" cy="103.0" r="0.5" fill="#e08ab8"/>
<circle cx="236.9" cy="96.0" r="0.5" fill="#e08ab8"/>
<circle cx="234.6" cy="101.8" r="0.5" fill="#e08ab8"/>
<circle cx="236.9" cy="103.3" r="0.5" fill="#e08ab8"/>
<circle cx="238.1" cy="96.4" r="0.5" fill="#e08ab8"/>
<circle cx="239.9" cy="104.4" r="0.5" fill="#e08ab8"/>
<circle cx="237.4" cy="96.6" r="0.5" fill="#e08ab8"/>
<circle cx="235.6" cy="102.6" r="0.5" fill="#e08ab8"/>
<circle cx="236.1" cy="98.3" r="0.5" fill="#e08ab8"/>
<circle cx="240.2" cy="99.8" r="0.5" fill="#e08ab8"/>
<circle cx="238.4" cy="97.8" r="0.5" fill="#e08ab8"/>
<circle cx="235.9" cy="100.4" r="0.5" fill="#e08ab8"/>
<circle cx="238.5" cy="102.0" r="0.5" fill="#e08ab8"/>
<circle cx="236.4" cy="101.1" r="0.5" fill="#e08ab8"/>
<circle cx="239.6" cy="100.1" r="0.5" fill="#e08ab8"/>
<circle cx="239.7" cy="103.1" r="0.5" fill="#e08ab8"/>
<circle cx="238.7" cy="100.1" r="0.5" fill="#e08ab8"/>
<circle cx="235.1" cy="100.9" r="0.5" fill="#e08ab8"/>
<circle cx="237.7" cy="98.6" r="0.5" fill="#e08ab8"/>
<circle cx="235.5" cy="101.7" r="0.5" fill="#e08ab8"/>
<circle cx="242.7" cy="100.7" r="0.5" fill="#e08ab8"/>
<circle cx="238.3" cy="101.4" r="0.5" fill="#e08ab8"/>
<circle cx="236.1" cy="100.1" r="0.5" fill="#e08ab8"/>
<circle cx="236.0" cy="97.6" r="0.5" fill="#e08ab8"/>
<circle cx="238.8" cy="100.7" r="0.5" fill="#e08ab8"/>
<circle cx="237.6" cy="97.0" r="0.5" fill="#e08ab8"/>
<circle cx="238.8" cy="96.2" r="0.5" fill="#e08ab8"/>
<circle cx="240.4" cy="98.6" r="0.5" fill="#e08ab8"/>
<circle cx="238.0" cy="102.6" r="0.5" fill="#e08ab8"/>
<circle cx="239.5" cy="95.9" r="0.5" fill="#e08ab8"/>
<circle cx="237.2" cy="101.2" r="0.5" fill="#e08ab8"/>
<circle cx="236.1" cy="95.0" r="0.5" fill="#e08ab8"/>
<circle cx="237.8" cy="99.6" r="0.5" fill="#e08ab8"/>
<circle cx="239.4" cy="100.1" r="0.5" fill="#e08ab8"/>
<circle cx="238.4" cy="100.7" r="0.5" fill="#e08ab8"/>
<circle cx="241.7" cy="101.3" r="0.5" fill="#e08ab8"/>
<circle cx="239.7" cy="98.4" r="0.5" fill="#e08ab8"/>
<circle cx="241.3" cy="99.2" r="0.5" fill="#e08ab8"/>
<circle cx="239.5" cy="94.9" r="0.5" fill="#e08ab8"/>
<circle cx="238.8" cy="99.4" r="0.5" fill="#e08ab8"/>
<circle cx="236.7" cy="103.8" r="0.5" fill="#e08ab8"/>
<circle cx="239.3" cy="99.3" r="0.5" fill="#e08ab8"/>
<circle cx="236.8" cy="104.6" r="0.5" fill="#e08ab8"/>
<circle cx="240.3" cy="102.0" r="0.5" fill="#e08ab8"/>
<circle cx="236.0" cy="103.6" r="0.5" fill="#e08ab8"/>
<circle cx="239.8" cy="98.8" r="0.5" fill="#e08ab8"/>
<circle cx="237.7" cy="95.2" r="0.5" fill="#e08ab8"/>
<ellipse cx="233.2" cy="106" rx="1.8399999999999999" ry="3.3600000000000003" fill="#c98a8a" opacity="0.35"/>
<circle cx="234.1" cy="103.3" r="0.5" fill="#c98a8a"/>
<circle cx="234.4" cy="104.8" r="0.5" fill="#c98a8a"/>
<circle cx="232.3" cy="107.0" r="0.5" fill="#c98a8a"/>
<circle cx="233.5" cy="103.1" r="0.5" fill="#c98a8a"/>
<circle cx="233.1" cy="107.7" r="0.5" fill="#c98a8a"/>
<circle cx="232.9" cy="102.8" r="0.5" fill="#c98a8a"/>
<circle cx="232.8" cy="103.5" r="0.5" fill="#c98a8a"/>
<circle cx="232.3" cy="106.1" r="0.5" fill="#c98a8a"/>
<circle cx="233.1" cy="105.4" r="0.5" fill="#c98a8a"/>
<circle cx="231.2" cy="106.8" r="0.5" fill="#c98a8a"/>
<circle cx="232.9" cy="104.8" r="0.5" fill="#c98a8a"/>
<circle cx="233.4" cy="109.8" r="0.5" fill="#c98a8a"/>
<circle cx="231.9" cy="102.9" r="0.5" fill="#c98a8a"/>
<circle cx="234.3" cy="104.0" r="0.5" fill="#c98a8a"/>
<circle cx="234.8" cy="103.8" r="0.5" fill="#c98a8a"/>
<circle cx="232.5" cy="108.2" r="0.5" fill="#c98a8a"/>
<circle cx="234.5" cy="107.2" r="0.5" fill="#c98a8a"/>
<circle cx="233.9" cy="105.6" r="0.5" fill="#c98a8a"/>
<circle cx="232.5" cy="105.4" r="0.5" fill="#c98a8a"/>
<circle cx="234.8" cy="107.6" r="0.5" fill="#c98a8a"/>
<circle cx="233.2" cy="106.9" r="0.5" fill="#c98a8a"/>
<circle cx="234.3" cy="108.8" r="0.5" fill="#c98a8a"/>
<circle cx="233.0" cy="105.8" r="0.5" fill="#c98a8a"/>
<circle cx="233.5" cy="110.1" r="0.5" fill="#c98a8a"/>
<circle cx="233.5" cy="109.1" r="0.5" fill="#c98a8a"/>
<ellipse cx="232.4" cy="116.2" rx="5.44" ry="3.3600000000000003" fill="#c4927f" opacity="0.35"/>
<circle cx="227.1" cy="118.0" r="0.5" fill="#c4927f"/>
<circle cx="227.6" cy="113.9" r="0.5" fill="#c4927f"/>
<circle cx="229.5" cy="115.8" r="0.5" fill="#c4927f"/>
<circle cx="233.2" cy="117.3" r="0.5" fill="#c4927f"/>
<circle cx="233.4" cy="114.9" r="0.5" fill="#c4927f"/>
<circle cx="239.0" cy="116.8" r="0.5" fill="#c4927f"/>
<circle cx="234.4" cy="120.0" r="0.5" fill="#c4927f"/>
<circle cx="236.4" cy="117.7" r="0.5" fill="#c4927f"/>
<circle cx="233.5" cy="120.0" r="0.5" fill="#c4927f"/>
<circle cx="228.3" cy="114.0" r="0.5" fill="#c4927f"/>
<circle cx="232.9" cy="112.3" r="0.5" fill="#c4927f"/>
<circle cx="229.4" cy="118.9" r="0.5" fill="#c4927f"/>
<circle cx="230.3" cy="116.7" r="0.5" fill="#c4927f"/>
<circle cx="235.1" cy="113.4" r="0.5" fill="#c4927f"/>
<circle cx="233.6" cy="114.4" r="0.5" fill="#c4927f"/>
<circle cx="227.9" cy="115.5" r="0.5" fill="#c4927f"/>
<circle cx="232.1" cy="115.0" r="0.5" fill="#c4927f"/>
<circle cx="229.7" cy="118.6" r="0.5" fill="#c4927f"/>
<circle cx="237.0" cy="117.6" r="0.5" fill="#c4927f"/>
<circle cx="232.0" cy="113.5" r="0.5" fill="#c4927f"/>
<circle cx="229.2" cy="113.6" r="0.5" fill="#c4927f"/>
<circle cx="233.3" cy="118.6" r="0.5" fill="#c4927f"/>
<circle cx="236.3" cy="116.1" r="0.5" fill="#c4927f"/>
<circle cx="230.6" cy="116.7" r="0.5" fill="#c4927f"/>
<circle cx="233.0" cy="117.9" r="0.5" fill="#c4927f"/>
<circle cx="237.7" cy="114.7" r="0.5" fill="#c4927f"/>
<circle cx="237.2" cy="113.2" r="0.5" fill="#c4927f"/>
<circle cx="227.4" cy="113.6" r="0.5" fill="#c4927f"/>
<circle cx="228.1" cy="115.6" r="0.5" fill="#c4927f"/>
<circle cx="238.5" cy="114.9" r="0.5" fill="#c4927f"/>
<circle cx="236.9" cy="115.3" r="0.5" fill="#c4927f"/>
<circle cx="233.0" cy="113.5" r="0.5" fill="#c4927f"/>
<circle cx="238.9" cy="116.1" r="0.5" fill="#c4927f"/>
<circle cx="230.7" cy="120.1" r="0.5" fill="#c4927f"/>
<circle cx="233.2" cy="117.4" r="0.5" fill="#c4927f"/>
<circle cx="231.8" cy="114.0" r="0.5" fill="#c4927f"/>
<circle cx="227.0" cy="115.8" r="0.5" fill="#c4927f"/>
<circle cx="238.1" cy="117.1" r="0.5" fill="#c4927f"/>
<circle cx="231.7" cy="118.9" r="0.5" fill="#c4927f"/>
<circle cx="229.1" cy="119.2" r="0.5" fill="#c4927f"/>
<circle cx="232.3" cy="113.9" r="0.5" fill="#c4927f"/>
<circle cx="235.4" cy="117.6" r="0.5" fill="#c4927f"/>
<circle cx="230.8" cy="116.8" r="0.5" fill="#c4927f"/>
<circle cx="235.8" cy="119.2" r="0.5" fill="#c4927f"/>
<circle cx="230.3" cy="112.2" r="0.5" fill="#c4927f"/>
<circle cx="238.7" cy="115.7" r="0.5" fill="#c4927f"/>
<circle cx="230.5" cy="117.4" r="0.5" fill="#c4927f"/>
<circle cx="230.6" cy="118.8" r="0.5" fill="#c4927f"/>
<circle cx="227.5" cy="115.7" r="0.5" fill="#c4927f"/>
<circle cx="228.4" cy="119.2" r="0.5" fill="#c4927f"/>
<circle cx="231.4" cy="119.0" r="0.5" fill="#c4927f"/>
<circle cx="237.0" cy="113.7" r="0.5" fill="#c4927f"/>
<circle cx="231.4" cy="118.2" r="0.5" fill="#c4927f"/>
<circle cx="232.6" cy="115.8" r="0.5" fill="#c4927f"/>
<circle cx="235.8" cy="118.5" r="0.5" fill="#c4927f"/>
<circle cx="229.7" cy="115.8" r="0.5" fill="#c4927f"/>
<circle cx="235.3" cy="116.8" r="0.5" fill="#c4927f"/>
<circle cx="233.0" cy="113.4" r="0.5" fill="#c4927f"/>
<circle cx="238.4" cy="115.7" r="0.5" fill="#c4927f"/>
<circle cx="233.7" cy="116.1" r="0.5" fill="#c4927f"/>
<circle cx="232.7" cy="116.6" r="0.5" fill="#c4927f"/>
<circle cx="228.8" cy="117.2" r="0.5" fill="#c4927f"/>
<circle cx="237.2" cy="117.2" r="0.5" fill="#c4927f"/>
<circle cx="235.6" cy="117.5" r="0.5" fill="#c4927f"/>
<circle cx="232.5" cy="120.0" r="0.5" fill="#c4927f"/>
<circle cx="229.4" cy="117.3" r="0.5" fill="#c4927f"/>
<circle cx="236.7" cy="117.0" r="0.5" fill="#c4927f"/>
<circle cx="228.5" cy="113.7" r="0.5" fill="#c4927f"/>
<circle cx="237.6" cy="114.2" r="0.5" fill="#c4927f"/>
<circle cx="232.4" cy="117.7" r="0.5" fill="#c4927f"/>
<circle cx="232.7" cy="112.5" r="0.5" fill="#c4927f"/>
<circle cx="226.2" cy="116.0" r="0.5" fill="#c4927f"/>
<circle cx="229.0" cy="115.5" r="0.5" fill="#c4927f"/>
<circle cx="232.8" cy="116.7" r="0.5" fill="#c4927f"/>
<ellipse cx="216.4" cy="122.3" rx="3.12" ry="2.4800000000000004" fill="#efd575" opacity="0.35"/>
<circle cx="214.1" cy="120.0" r="0.5" fill="#efd575"/>
<circle cx="218.6" cy="121.1" r="0.5" fill="#efd575"/>
<circle cx="214.5" cy="119.7" r="0.5" fill="#efd575"/>
<circle cx="217.6" cy="120.1" r="0.5" fill="#efd575"/>
<circle cx="214.0" cy="123.4" r="0.5" fill="#efd575"/>
<circle cx="217.2" cy="123.5" r="0.5" fill="#efd575"/>
<circle cx="214.8" cy="119.5" r="0.5" fill="#efd575"/>
<circle cx="214.0" cy="121.7" r="0.5" fill="#efd575"/>
<circle cx="214.8" cy="124.0" r="0.5" fill="#efd575"/>
<circle cx="217.3" cy="120.3" r="0.5" fill="#efd575"/>
<circle cx="217.9" cy="122.0" r="0.5" fill="#efd575"/>
<circle cx="215.3" cy="124.4" r="0.5" fill="#efd575"/>
<circle cx="213.3" cy="123.8" r="0.5" fill="#efd575"/>
<circle cx="218.2" cy="119.7" r="0.5" fill="#efd575"/>
<circle cx="215.9" cy="121.9" r="0.5" fill="#efd575"/>
<circle cx="213.8" cy="121.3" r="0.5" fill="#efd575"/>
<circle cx="214.3" cy="122.4" r="0.5" fill="#efd575"/>
<circle cx="215.5" cy="119.4" r="0.5" fill="#efd575"/>
<circle cx="219.0" cy="123.8" r="0.5" fill="#efd575"/>
<circle cx="214.5" cy="123.9" r="0.5" fill="#efd575"/>
<circle cx="219.4" cy="120.4" r="0.5" fill="#efd575"/>
<circle cx="215.3" cy="121.2" r="0.5" fill="#efd575"/>
<circle cx="217.9" cy="121.7" r="0.5" fill="#efd575"/>
<circle cx="213.8" cy="124.2" r="0.5" fill="#efd575"/>
<circle cx="215.6" cy="123.8" r="0.5" fill="#efd575"/>
<circle cx="220.0" cy="121.4" r="0.5" fill="#efd575"/>
<circle cx="215.4" cy="124.1" r="0.5" fill="#efd575"/>
<circle cx="216.1" cy="123.4" r="0.5" fill="#efd575"/>
<circle cx="216.4" cy="125.4" r="0.5" fill="#efd575"/>
<circle cx="218.0" cy="123.0" r="0.5" fill="#efd575"/>
<circle cx="216.7" cy="123.1" r="0.5" fill="#efd575"/>
<text x="263.5" y="15.6" font-size="10" text-anchor="start" font-weight="bold" fill="#111" >B</text>
<text x="302" y="13.8" font-size="8.6" text-anchor="middle" font-weight="normal" fill="#222" stroke="#222" stroke-width="0.18" textLength="26.5" lengthAdjust="spacingAndGlyphs" >Week 1</text>
<text x="361.3" y="13.8" font-size="8.6" text-anchor="middle" font-weight="normal" fill="#222" stroke="#222" stroke-width="0.18" textLength="26.5" lengthAdjust="spacingAndGlyphs" >Week 2</text>
<text x="420" y="13.8" font-size="8.6" text-anchor="middle" font-weight="normal" fill="#222" stroke="#222" stroke-width="0.18" textLength="26.5" lengthAdjust="spacingAndGlyphs" >Week 3</text>
<text x="479" y="13.8" font-size="8.6" text-anchor="middle" font-weight="normal" fill="#222" stroke="#222" stroke-width="0.18" textLength="26.5" lengthAdjust="spacingAndGlyphs" >Week 4</text>
<rect x="274.5" y="18.2" width="56.0" height="55.3" fill="none" stroke="#6a6a6a" stroke-width="1"/>
<rect x="274.5" y="81.8" width="56.0" height="55.3" fill="none" stroke="#6a6a6a" stroke-width="1"/>
<rect x="333.5" y="18.2" width="55.5" height="55.3" fill="none" stroke="#6a6a6a" stroke-width="1"/>
<rect x="333.5" y="81.8" width="55.5" height="55.3" fill="none" stroke="#6a6a6a" stroke-width="1"/>
<rect x="392.2" y="18.2" width="55.80000000000001" height="55.3" fill="none" stroke="#6a6a6a" stroke-width="1"/>
<rect x="392.2" y="81.8" width="55.80000000000001" height="55.3" fill="none" stroke="#6a6a6a" stroke-width="1"/>
<rect x="451.4" y="18.2" width="55.400000000000034" height="55.3" fill="none" stroke="#6a6a6a" stroke-width="1"/>
<rect x="451.4" y="81.8" width="55.400000000000034" height="55.3" fill="none" stroke="#6a6a6a" stroke-width="1"/>
<path d="M284.80,36.40 C285.60,36.07 287.83,35.58 289.60,35.90 C291.37,36.22 293.80,37.65 295.40,38.30 C297.00,38.95 299.05,39.32 299.20,39.80 C299.35,40.28 297.58,40.88 296.30,41.20 C295.02,41.52 292.93,41.93 291.50,41.70 C290.07,41.47 288.82,40.43 287.70,39.80 C286.58,39.17 285.28,38.47 284.80,37.90 C284.32,37.33 284.00,36.73 284.80,36.40Z" fill="#2eaa56" />
<line x1="298" y1="40" x2="303.5" y2="41" stroke="#2eaa56" stroke-width="0.6"/>
<path d="M303.00,37.40 C303.72,36.60 305.45,35.98 306.90,35.50 C308.35,35.02 310.57,35.15 311.70,34.50 C312.83,33.85 313.13,32.48 313.70,31.60 C314.27,30.72 314.72,29.35 315.10,29.20 C315.48,29.05 315.92,29.82 316.00,30.70 C316.08,31.58 315.52,33.23 315.60,34.50 C315.68,35.77 316.50,36.85 316.50,38.30 C316.50,39.75 315.60,41.92 315.60,43.20 C315.60,44.48 316.82,45.05 316.50,46.00 C316.18,46.95 314.82,48.10 313.70,48.90 C312.58,49.70 311.08,50.55 309.80,50.80 C308.52,51.05 307.03,50.87 306.00,50.40 C304.97,49.93 304.17,49.05 303.60,48.00 C303.03,46.95 302.77,45.38 302.60,44.10 C302.43,42.82 302.53,41.42 302.60,40.30 C302.67,39.18 302.28,38.20 303.00,37.40Z" fill="#2eaa56" />
<ellipse cx="308.4" cy="45" rx="3" ry="5" fill="#9ccc2a" opacity="0.8"/>
<ellipse cx="308.4" cy="45" rx="1.6" ry="3.8" fill="#f2e21c"/>
<path d="M317.50,44.10 C318.38,43.38 321.02,42.95 322.30,43.20 C323.58,43.45 324.88,44.73 325.20,45.60 C325.52,46.47 325.00,47.85 324.20,48.40 C323.40,48.95 321.60,49.05 320.40,48.90 C319.20,48.75 317.48,48.30 317.00,47.50 C316.52,46.70 316.62,44.82 317.50,44.10Z" fill="#2eaa56" />
<path d="M301.60,59.00 C302.80,58.45 305.98,58.25 308.80,58.10 C311.62,57.95 316.00,58.03 318.50,58.10 C321.00,58.17 322.77,57.95 323.80,58.50 C324.83,59.05 324.95,60.52 324.70,61.40 C324.45,62.28 323.67,63.32 322.30,63.80 C320.93,64.28 318.27,63.97 316.50,64.30 C314.73,64.63 313.13,65.48 311.70,65.80 C310.27,66.12 309.18,66.45 307.90,66.20 C306.62,65.95 305.05,65.10 304.00,64.30 C302.95,63.50 302.00,62.28 301.60,61.40 C301.20,60.52 300.40,59.55 301.60,59.00Z" fill="#2eaa56" />
<circle cx="308" cy="27" r="2" fill="#b5dcc0" opacity="0.6"/>
<text x="288.7" y="57.0" font-size="5.2" text-anchor="start" font-weight="bold" fill="#111" textLength="28.8" lengthAdjust="spacingAndGlyphs" font-family=""Liberation Serif", serif" >CD34+ cluster</text>
<path d="M341.00,40.00 C341.17,39.00 342.00,37.67 343.00,37.00 C344.00,36.33 345.67,36.00 347.00,36.00 C348.33,36.00 349.83,36.58 351.00,37.00 C352.17,37.42 353.67,37.83 354.00,38.50 C354.33,39.17 353.33,40.08 353.00,41.00 C352.67,41.92 352.67,43.33 352.00,44.00 C351.33,44.67 350.00,44.58 349.00,45.00 C348.00,45.42 346.83,46.50 346.00,46.50 C345.17,46.50 344.67,45.58 344.00,45.00 C343.33,44.42 342.50,43.83 342.00,43.00 C341.50,42.17 340.83,41.00 341.00,40.00Z" fill="#2eaa56" />
<line x1="353.5" y1="39" x2="359" y2="39.6" stroke="#2eaa56" stroke-width="0.8"/>
<path d="M362.00,25.00 C362.17,23.50 364.00,23.67 365.00,24.00 C366.00,24.33 367.58,25.67 368.00,27.00 C368.42,28.33 368.17,31.00 367.50,32.00 C366.83,33.00 364.92,34.17 364.00,33.00 C363.08,31.83 361.83,26.50 362.00,25.00Z" fill="#a9d6b5" opacity="0.7"/>
<path d="M358.00,40.00 C358.67,38.92 360.00,37.00 361.00,36.00 C362.00,35.00 363.17,34.67 364.00,34.00 C364.83,33.33 365.00,32.67 366.00,32.00 C367.00,31.33 368.83,30.50 370.00,30.00 C371.17,29.50 372.17,29.33 373.00,29.00 C373.83,28.67 374.50,27.67 375.00,28.00 C375.50,28.33 375.50,30.00 376.00,31.00 C376.50,32.00 377.33,33.33 378.00,34.00 C378.67,34.67 379.50,34.17 380.00,35.00 C380.50,35.83 380.83,37.67 381.00,39.00 C381.17,40.33 380.67,42.00 381.00,43.00 C381.33,44.00 382.50,44.33 383.00,45.00 C383.50,45.67 384.33,46.50 384.00,47.00 C383.67,47.50 382.00,47.67 381.00,48.00 C380.00,48.33 379.17,48.83 378.00,49.00 C376.83,49.17 375.17,48.83 374.00,49.00 C372.83,49.17 372.17,49.83 371.00,50.00 C369.83,50.17 368.33,50.17 367.00,50.00 C365.67,49.83 364.25,49.42 363.00,49.00 C361.75,48.58 360.42,48.17 359.50,47.50 C358.58,46.83 357.92,45.83 357.50,45.00 C357.08,44.17 356.92,43.33 357.00,42.50 C357.08,41.67 357.33,41.08 358.00,40.00Z" fill="#2eaa56" />
<path d="M372.00,31.00 C372.50,30.17 374.83,30.33 376.00,31.00 C377.17,31.67 378.33,33.50 379.00,35.00 C379.67,36.50 380.50,39.17 380.00,40.00 C379.50,40.83 377.17,40.67 376.00,40.00 C374.83,39.33 373.67,37.50 373.00,36.00 C372.33,34.50 371.50,31.83 372.00,31.00Z" fill="#5fc063" opacity="0.8"/>
<path d="M380,48.5 L384.5,53" stroke="#2eaa56" stroke-width="0.9"/>
<ellipse cx="367.6" cy="44" rx="2.8" ry="5" fill="#9ccc2a" opacity="0.8"/>
<path d="M366.4,40 L368.8,39.6 L369.4,43 L368.6,47.6 L366.6,48 L366.8,44 Z" fill="#f2e21c"/>
<path d="M360.50,58.50 C361.42,57.83 363.75,58.08 366.00,58.00 C368.25,57.92 371.67,57.92 374.00,58.00 C376.33,58.08 378.50,58.17 380.00,58.50 C381.50,58.83 382.58,59.25 383.00,60.00 C383.42,60.75 383.33,62.17 382.50,63.00 C381.67,63.83 379.75,64.42 378.00,65.00 C376.25,65.58 374.00,66.08 372.00,66.50 C370.00,66.92 367.67,67.58 366.00,67.50 C364.33,67.42 362.92,66.92 362.00,66.00 C361.08,65.08 360.75,63.25 360.50,62.00 C360.25,60.75 359.58,59.17 360.50,58.50Z" fill="#2eaa56" />
<text x="347.5" y="57.0" font-size="5.2" text-anchor="start" font-weight="bold" fill="#111" textLength="29.5" lengthAdjust="spacingAndGlyphs" font-family=""Liberation Serif", serif" >CD34+ cluster</text>
<path d="M419.50,58.00 C420.67,56.75 425.25,57.50 428.00,57.50 C430.75,57.50 433.67,57.58 436.00,58.00 C438.33,58.42 441.17,59.00 442.00,60.00 C442.83,61.00 442.33,62.83 441.00,64.00 C439.67,65.17 436.50,66.42 434.00,67.00 C431.50,67.58 428.17,67.83 426.00,67.50 C423.83,67.17 422.08,66.58 421.00,65.00 C419.92,63.42 418.33,59.25 419.50,58.00Z" fill="#9fd8aa" opacity="0.6"/>
<path d="M400.00,40.00 C400.42,38.67 401.00,38.50 402.00,38.00 C403.00,37.50 404.67,36.83 406.00,37.00 C407.33,37.17 409.00,38.17 410.00,39.00 C411.00,39.83 411.33,41.33 412.00,42.00 C412.67,42.67 413.83,42.17 414.00,43.00 C414.17,43.83 413.50,45.83 413.00,47.00 C412.50,48.17 411.83,49.17 411.00,50.00 C410.17,50.83 409.17,51.50 408.00,52.00 C406.83,52.50 405.17,53.17 404.00,53.00 C402.83,52.83 401.75,52.17 401.00,51.00 C400.25,49.83 399.67,47.83 399.50,46.00 C399.33,44.17 399.58,41.33 400.00,40.00Z" fill="#2eaa56" />
<path d="M415.00,45.00 C415.42,43.83 416.17,42.58 417.00,42.00 C417.83,41.42 419.17,41.17 420.00,41.50 C420.83,41.83 421.58,42.75 422.00,44.00 C422.42,45.25 422.83,47.67 422.50,49.00 C422.17,50.33 421.08,51.50 420.00,52.00 C418.92,52.50 416.92,52.50 416.00,52.00 C415.08,51.50 414.67,50.17 414.50,49.00 C414.33,47.83 414.58,46.17 415.00,45.00Z" fill="#2eaa56" />
<path d="M421.00,31.00 C421.00,29.50 421.00,27.17 421.50,26.00 C422.00,24.83 423.08,24.00 424.00,24.00 C424.92,24.00 426.25,24.83 427.00,26.00 C427.75,27.17 427.67,30.33 428.50,31.00 C429.33,31.67 431.08,30.33 432.00,30.00 C432.92,29.67 433.17,28.50 434.00,29.00 C434.83,29.50 436.00,32.00 437.00,33.00 C438.00,34.00 439.42,33.83 440.00,35.00 C440.58,36.17 440.67,38.50 440.50,40.00 C440.33,41.50 438.58,43.00 439.00,44.00 C439.42,45.00 442.67,45.00 443.00,46.00 C443.33,47.00 441.83,49.00 441.00,50.00 C440.17,51.00 439.17,51.83 438.00,52.00 C436.83,52.17 435.33,51.33 434.00,51.00 C432.67,50.67 431.17,50.33 430.00,50.00 C428.83,49.67 428.00,49.33 427.00,49.00 C426.00,48.67 424.67,48.67 424.00,48.00 C423.33,47.33 423.25,46.33 423.00,45.00 C422.75,43.67 422.75,41.67 422.50,40.00 C422.25,38.33 421.75,36.50 421.50,35.00 C421.25,33.50 421.00,32.50 421.00,31.00Z" fill="#2eaa56" />
<path d="M430.00,33.00 C430.50,31.67 433.67,31.50 435.00,32.00 C436.33,32.50 437.67,34.50 438.00,36.00 C438.33,37.50 438.00,40.33 437.00,41.00 C436.00,41.67 433.17,41.33 432.00,40.00 C430.83,38.67 429.50,34.33 430.00,33.00Z" fill="#5fc063" opacity="0.7"/>
<ellipse cx="426.2" cy="43.5" rx="2.6" ry="4.6" fill="#9ccc2a" opacity="0.8"/>
<ellipse cx="426.2" cy="43.5" rx="1.4" ry="3.4" fill="#f2e21c"/>
<text x="406" y="57.0" font-size="5.2" text-anchor="start" font-weight="bold" fill="#111" textLength="29" lengthAdjust="spacingAndGlyphs" font-family=""Liberation Serif", serif" >CD34+ cluster</text>
<path d="M478.00,58.00 C479.33,56.58 484.67,57.33 488.00,57.50 C491.33,57.67 496.00,58.08 498.00,59.00 C500.00,59.92 501.33,61.67 500.00,63.00 C498.67,64.33 493.33,66.50 490.00,67.00 C486.67,67.50 482.00,67.50 480.00,66.00 C478.00,64.50 476.67,59.42 478.00,58.00Z" fill="#c6e8cc" opacity="0.45"/>
<path d="M457.00,44.00 C457.17,42.33 458.17,41.00 459.00,40.00 C459.83,39.00 460.83,38.25 462.00,38.00 C463.17,37.75 464.67,38.17 466.00,38.50 C467.33,38.83 469.00,39.08 470.00,40.00 C471.00,40.92 471.75,42.50 472.00,44.00 C472.25,45.50 472.00,47.67 471.50,49.00 C471.00,50.33 470.08,51.25 469.00,52.00 C467.92,52.75 466.33,53.42 465.00,53.50 C463.67,53.58 462.17,53.08 461.00,52.50 C459.83,51.92 458.67,51.42 458.00,50.00 C457.33,48.58 456.83,45.67 457.00,44.00Z" fill="#52bb52" />
<path d="M472.50,44.00 C472.58,42.50 473.25,42.00 474.00,41.50 C474.75,41.00 476.25,40.42 477.00,41.00 C477.75,41.58 478.33,43.50 478.50,45.00 C478.67,46.50 478.42,48.92 478.00,50.00 C477.58,51.08 476.75,51.42 476.00,51.50 C475.25,51.58 474.08,51.75 473.50,50.50 C472.92,49.25 472.42,45.50 472.50,44.00Z" fill="#52bb52" />
<path d="M479.50,26.00 C479.83,24.33 481.08,23.33 482.00,23.00 C482.92,22.67 484.33,23.17 485.00,24.00 C485.67,24.83 485.33,27.00 486.00,28.00 C486.67,29.00 488.00,29.33 489.00,30.00 C490.00,30.67 490.83,31.50 492.00,32.00 C493.17,32.50 494.83,32.67 496.00,33.00 C497.17,33.33 498.33,33.00 499.00,34.00 C499.67,35.00 500.00,37.50 500.00,39.00 C500.00,40.50 498.67,41.83 499.00,43.00 C499.33,44.17 501.83,45.00 502.00,46.00 C502.17,47.00 500.83,48.17 500.00,49.00 C499.17,49.83 498.00,50.67 497.00,51.00 C496.00,51.33 495.17,51.33 494.00,51.00 C492.83,50.67 491.17,49.50 490.00,49.00 C488.83,48.50 488.00,48.00 487.00,48.00 C486.00,48.00 484.83,49.33 484.00,49.00 C483.17,48.67 482.50,47.50 482.00,46.00 C481.50,44.50 481.33,42.17 481.00,40.00 C480.67,37.83 480.25,35.33 480.00,33.00 C479.75,30.67 479.17,27.67 479.50,26.00Z" fill="#52bb52" />
<path d="M488.00,33.00 C489.00,32.50 491.67,33.83 493.00,35.00 C494.33,36.17 495.83,38.33 496.00,40.00 C496.17,41.67 495.17,44.50 494.00,45.00 C492.83,45.50 490.17,44.17 489.00,43.00 C487.83,41.83 487.17,39.67 487.00,38.00 C486.83,36.33 487.00,33.50 488.00,33.00Z" fill="#8fd08a" opacity="0.7"/>
<path d="M482.60,40.00 C483.22,39.25 485.67,38.83 486.50,39.50 C487.33,40.17 487.55,42.50 487.60,44.00 C487.65,45.50 487.50,47.80 486.80,48.50 C486.10,49.20 484.07,48.95 483.40,48.20 C482.73,47.45 482.93,45.37 482.80,44.00 C482.67,42.63 481.98,40.75 482.60,40.00Z" fill="#e6f2e0" stroke="#555" stroke-width="0.4"/>
<text x="464.5" y="57.0" font-size="5.2" text-anchor="start" font-weight="bold" fill="#111" textLength="29.5" lengthAdjust="spacingAndGlyphs" font-family=""Liberation Serif", serif" >CD34+ cluster</text>
<path d="M305.00,88.00 C305.33,86.75 307.08,86.67 308.00,87.00 C308.92,87.33 310.17,88.83 310.50,90.00 C310.83,91.17 310.75,93.25 310.00,94.00 C309.25,94.75 306.83,95.50 306.00,94.50 C305.17,93.50 304.67,89.25 305.00,88.00Z" fill="#a9d6b5" opacity="0.7"/>
<path d="M303.20,100.90 C303.93,100.02 306.28,99.97 307.60,99.60 C308.92,99.23 310.15,99.58 311.10,98.70 C312.05,97.82 312.57,95.25 313.30,94.30 C314.03,93.35 315.07,92.85 315.50,93.00 C315.93,93.15 315.97,94.32 315.90,95.20 C315.83,96.08 314.87,97.57 315.10,98.30 C315.33,99.03 316.65,98.95 317.30,99.60 C317.95,100.25 318.87,101.32 319.00,102.20 C319.13,103.08 318.68,104.17 318.10,104.90 C317.52,105.63 315.78,106.02 315.50,106.60 C315.22,107.18 315.67,108.18 316.40,108.40 C317.13,108.62 318.73,108.05 319.90,107.90 C321.07,107.75 322.38,107.27 323.40,107.50 C324.42,107.73 325.78,108.57 326.00,109.30 C326.22,110.03 325.57,111.25 324.70,111.90 C323.83,112.55 322.18,112.92 320.80,113.20 C319.42,113.48 317.72,113.38 316.40,113.60 C315.08,113.82 313.63,113.90 312.90,114.50 C312.17,115.10 311.57,116.32 312.00,117.20 C312.43,118.08 314.03,118.93 315.50,119.80 C316.97,120.67 319.33,121.67 320.80,122.40 C322.27,123.13 323.65,123.47 324.30,124.20 C324.95,124.93 325.15,126.07 324.70,126.80 C324.25,127.53 322.98,128.08 321.60,128.60 C320.22,129.12 318.15,129.53 316.40,129.90 C314.65,130.27 312.72,130.58 311.10,130.80 C309.48,131.02 307.80,131.42 306.70,131.20 C305.60,130.98 305.17,130.37 304.50,129.50 C303.83,128.63 303.13,127.32 302.70,126.00 C302.27,124.68 301.82,123.07 301.90,121.60 C301.98,120.13 302.83,118.67 303.20,117.20 C303.57,115.73 304.03,114.27 304.10,112.80 C304.17,111.33 303.75,109.72 303.60,108.40 C303.45,107.08 303.27,106.15 303.20,104.90 C303.13,103.65 302.47,101.78 303.20,100.90Z" fill="#2eaa56" />
<polygon points="284.50,99.20 291.50,101.00 296.10,105.00 297.20,109.60 296.10,115.40 292.60,120.00 286.80,121.70 281.10,120.00 278.20,114.80 278.20,108.50 281.10,102.70" fill="url(#gB5)" stroke="#333" stroke-width="0.6" stroke-linejoin="round"/>
<line x1="296.6" y1="103.1" x2="303.2" y2="103.1" stroke="#2eaa56" stroke-width="0.6"/>
<text x="275.8" y="128.5" font-size="5.2" text-anchor="start" font-weight="bold" fill="#111" textLength="28.5" lengthAdjust="spacingAndGlyphs" font-family=""Liberation Serif", serif" >CD56+ cluster</text>
<path d="M362.30,89.00 C362.55,88.03 363.97,87.87 365.00,88.20 C366.03,88.53 368.08,89.98 368.50,91.00 C368.92,92.02 368.33,93.80 367.50,94.30 C366.67,94.80 364.37,94.88 363.50,94.00 C362.63,93.12 362.05,89.97 362.30,89.00Z" fill="#a9d6b5" opacity="0.7"/>
<path d="M358.80,104.90 C359.38,103.43 360.38,100.78 361.40,99.60 C362.42,98.42 363.72,98.38 364.90,97.80 C366.08,97.22 367.32,96.83 368.50,96.10 C369.68,95.37 370.90,94.07 372.00,93.40 C373.10,92.73 374.37,91.80 375.10,92.10 C375.83,92.40 375.60,94.32 376.40,95.20 C377.20,96.08 379.17,96.52 379.90,97.40 C380.63,98.28 380.80,99.40 380.80,100.50 C380.80,101.60 379.62,102.83 379.90,104.00 C380.18,105.17 381.70,106.48 382.50,107.50 C383.30,108.52 384.55,109.30 384.70,110.10 C384.85,110.90 384.13,112.00 383.40,112.30 C382.67,112.60 381.47,111.82 380.30,111.90 C379.13,111.98 377.63,112.37 376.40,112.80 C375.17,113.23 373.63,113.77 372.90,114.50 C372.17,115.23 371.72,116.47 372.00,117.20 C372.28,117.93 373.43,118.47 374.60,118.90 C375.77,119.33 377.68,119.22 379.00,119.80 C380.32,120.38 381.70,121.37 382.50,122.40 C383.30,123.43 384.23,125.03 383.80,126.00 C383.37,126.97 381.72,127.62 379.90,128.20 C378.08,128.78 375.10,129.07 372.90,129.50 C370.70,129.93 368.10,130.95 366.70,130.80 C365.30,130.65 365.08,129.70 364.50,128.60 C363.92,127.50 363.72,125.52 363.20,124.20 C362.68,122.88 361.85,121.87 361.40,120.70 C360.95,119.53 361.00,118.52 360.50,117.20 C360.00,115.88 358.83,114.27 358.40,112.80 C357.97,111.33 357.83,109.72 357.90,108.40 C357.97,107.08 358.22,106.37 358.80,104.90Z" fill="#2eaa56" />
<polygon points="337.50,106.75 341.25,101.10 346.25,99.25 351.90,101.10 355.40,104.90 355.40,110.50 352.00,117.50 346.25,120.50 340.60,119.25 337.50,114.25" fill="url(#gB6)" stroke="#333" stroke-width="0.6" stroke-linejoin="round"/>
<line x1="355.4" y1="103.5" x2="359" y2="102.5" stroke="#2eaa56" stroke-width="0.6"/>
<text x="335" y="128.5" font-size="5.2" text-anchor="start" font-weight="bold" fill="#111" textLength="29" lengthAdjust="spacingAndGlyphs" font-family=""Liberation Serif", serif" >CD56+ cluster</text>
<path d="M420.00,117.50 C421.17,115.83 425.33,116.92 428.00,117.00 C430.67,117.08 433.75,117.33 436.00,118.00 C438.25,118.67 440.67,119.67 441.50,121.00 C442.33,122.33 442.25,124.50 441.00,126.00 C439.75,127.50 436.50,129.25 434.00,130.00 C431.50,130.75 428.17,131.00 426.00,130.50 C423.83,130.00 422.00,129.17 421.00,127.00 C420.00,124.83 418.83,119.17 420.00,117.50Z" fill="#9fd8aa" opacity="0.75"/>
<path d="M420.50,88.50 C420.95,87.33 422.20,86.80 423.20,86.80 C424.20,86.80 425.60,87.60 426.50,88.50 C427.40,89.40 427.53,91.48 428.60,92.20 C429.67,92.92 431.63,92.17 432.90,92.80 C434.17,93.43 435.30,95.10 436.20,96.00 C437.10,96.90 437.77,97.12 438.30,98.20 C438.83,99.28 439.40,101.07 439.40,102.50 C439.40,103.93 437.95,105.73 438.30,106.80 C438.65,107.87 440.78,107.83 441.50,108.90 C442.22,109.97 442.77,111.93 442.60,113.20 C442.43,114.47 441.40,115.78 440.50,116.50 C439.60,117.22 438.10,117.87 437.20,117.50 C436.30,117.13 435.82,114.47 435.10,114.30 C434.38,114.13 433.80,115.97 432.90,116.50 C432.00,117.03 430.77,117.50 429.70,117.50 C428.63,117.50 427.58,116.85 426.50,116.50 C425.42,116.15 424.28,115.40 423.20,115.40 C422.12,115.40 421.07,116.50 420.00,116.50 C418.93,116.50 417.78,116.12 416.80,115.40 C415.82,114.68 414.55,113.47 414.10,112.20 C413.65,110.93 413.75,108.88 414.10,107.80 C414.45,106.72 415.22,105.97 416.20,105.70 C417.18,105.43 418.92,106.38 420.00,106.20 C421.08,106.02 422.17,105.40 422.70,104.60 C423.23,103.80 423.38,102.47 423.20,101.40 C423.02,100.33 422.05,99.47 421.60,98.20 C421.15,96.93 420.68,95.42 420.50,93.80 C420.32,92.18 420.05,89.67 420.50,88.50Z" fill="#2eaa56" />
<path d="M422.00,120.00 C422.67,119.50 427.33,120.50 430.00,121.00 C432.67,121.50 437.33,122.33 438.00,123.00 C438.67,123.67 436.00,124.83 434.00,125.00 C432.00,125.17 428.00,124.83 426.00,124.00 C424.00,123.17 421.33,120.50 422.00,120.00Z" fill="#5cbf6c" opacity="0.7"/>
<polygon points="396.30,107.80 398.50,102.50 402.80,99.80 408.20,99.80 411.90,102.50 413.00,107.80 411.90,114.30 408.20,118.60 402.80,120.20 397.90,118.10 396.30,113.20" fill="url(#gB7)" stroke="#3a3a3a" stroke-width="1.5" stroke-linejoin="round"/>
<polygon points="396.30,107.80 398.50,102.50 402.80,99.80 408.20,99.80 411.90,102.50 413.00,107.80 411.90,114.30 408.20,118.60 402.80,120.20 397.90,118.10 396.30,113.20" fill="none" stroke="#fbf0d0" stroke-width="0.9" stroke-linejoin="round"/>
<path d="M401,117 L408,103" stroke="#fbe0a0" stroke-width="1" opacity="0.6"/>
<text x="393.2" y="128.5" font-size="5.2" text-anchor="start" font-weight="bold" fill="#111" textLength="28.6" lengthAdjust="spacingAndGlyphs" font-family=""Liberation Serif", serif" >CD56+ cluster</text>
<path d="M478.00,107.00 C479.33,105.33 483.33,107.00 486.00,108.00 C488.67,109.00 491.58,111.00 494.00,113.00 C496.42,115.00 499.67,117.67 500.50,120.00 C501.33,122.33 500.75,125.43 499.00,127.00 C497.25,128.57 492.83,129.23 490.00,129.40 C487.17,129.57 484.00,129.90 482.00,128.00 C480.00,126.10 478.67,121.50 478.00,118.00 C477.33,114.50 476.67,108.67 478.00,107.00Z" fill="#c2e6c8" opacity="0.7"/>
<path d="M480.10,87.40 C480.73,86.23 482.40,86.27 483.30,86.80 C484.20,87.33 484.60,89.43 485.50,90.60 C486.40,91.77 487.27,92.90 488.70,93.80 C490.13,94.70 492.67,95.27 494.10,96.00 C495.53,96.73 496.58,96.95 497.30,98.20 C498.02,99.45 497.87,101.72 498.40,103.50 C498.93,105.28 500.32,107.28 500.50,108.90 C500.68,110.52 500.22,111.93 499.50,113.20 C498.78,114.47 497.10,116.32 496.20,116.50 C495.30,116.68 495.00,115.02 494.10,114.30 C493.20,113.58 491.88,113.45 490.80,112.20 C489.72,110.95 488.67,108.25 487.60,106.80 C486.53,105.35 485.47,104.77 484.40,103.50 C483.33,102.23 482.02,100.82 481.20,99.20 C480.38,97.58 479.68,95.77 479.50,93.80 C479.32,91.83 479.47,88.57 480.10,87.40Z" fill="#2eaa56" />
<path d="M484.00,95.00 C484.17,94.33 487.00,96.67 488.00,98.00 C489.00,99.33 490.17,102.33 490.00,103.00 C489.83,103.67 488.00,103.33 487.00,102.00 C486.00,100.67 483.83,95.67 484.00,95.00Z" fill="#9fd8aa" opacity="0.8"/>
<path d="M472.50,105.70 C473.05,104.45 474.90,104.98 475.80,105.70 C476.70,106.42 477.73,108.20 477.90,110.00 C478.07,111.80 477.42,115.25 476.80,116.50 C476.18,117.75 474.92,118.05 474.20,117.50 C473.48,116.95 472.78,115.17 472.50,113.20 C472.22,111.23 471.95,106.95 472.50,105.70Z" fill="#2eaa56" />
<polygon points="455.30,107.80 458.50,101.90 462.80,99.20 468.20,99.80 472.00,103.50 472.50,108.90 470.90,114.80 466.60,119.20 461.20,120.20 456.90,118.10 455.30,113.20" fill="url(#gB8)" stroke="#3a3a3a" stroke-width="1.5" stroke-linejoin="round"/>
<polygon points="455.30,107.80 458.50,101.90 462.80,99.20 468.20,99.80 472.00,103.50 472.50,108.90 470.90,114.80 466.60,119.20 461.20,120.20 456.90,118.10 455.30,113.20" fill="none" stroke="#fbf0d0" stroke-width="0.9" stroke-linejoin="round"/>
<text x="452.5" y="128.5" font-size="5.2" text-anchor="start" font-weight="bold" fill="#111" textLength="29.5" lengthAdjust="spacingAndGlyphs" font-family=""Liberation Serif", serif" >CD56+ cluster</text>
<path d="M266.7,144.2 L266.7,128 M266.7,144.2 L283,144.2" stroke="#111" stroke-width="0.8" fill="none"/>
<polygon points="266.7,125.8 265.2,129 268.2,129" fill="#111"/>
<polygon points="285.3,144.2 282,142.7 282,145.7" fill="#111"/>
<text x="270.1" y="111.9" font-size="7.8" text-anchor="middle" font-weight="bold" fill="#222" textLength="20.8" lengthAdjust="spacingAndGlyphs" transform="rotate(-90 270.1 111.9)">UMAP-Y</text>
<text x="288.6" y="147.1" font-size="7.8" text-anchor="start" font-weight="bold" fill="#222" textLength="20.7" lengthAdjust="spacingAndGlyphs" >UMAP-X</text>
<text x="457.2" y="146" font-size="6.6" text-anchor="start" font-weight="normal" fill="#333" stroke="#333" stroke-width="0.18" textLength="8.9" lengthAdjust="spacingAndGlyphs" >min</text>
<rect x="468.8" y="141.4" width="22.2" height="4.5" fill="url(#gExpr)"/>
<text x="493.6" y="146" font-size="6.6" text-anchor="start" font-weight="normal" fill="#333" stroke="#333" stroke-width="0.18" textLength="10.1" lengthAdjust="spacingAndGlyphs" >max</text>
<text x="459.2" y="153.8" font-size="6.6" text-anchor="start" font-weight="normal" fill="#333" stroke="#333" stroke-width="0.18" textLength="40.8" lengthAdjust="spacingAndGlyphs" >expression level</text>
<text x="6.2" y="171.6" font-size="10" text-anchor="start" font-weight="bold" fill="#111" >C</text>
<rect x="63.8" y="162.2" width="90.4" height="12.7" fill="#d8e9d2"/>
<text x="108.6" y="170.9" font-size="8.8" text-anchor="middle" font-weight="normal" fill="#333" stroke="#333" stroke-width="0.18" textLength="27.9" lengthAdjust="spacingAndGlyphs" >Stage 3</text>
<rect x="18" y="177.2" width="43.3" height="14.5" fill="#f3b6c5"/>
<text x="22.3" y="187.2" font-size="8.7" text-anchor="start" font-weight="normal" fill="#333" stroke="#333" stroke-width="0.18" textLength="34.7" lengthAdjust="spacingAndGlyphs" >Stage 1/2</text>
<rect x="63.8" y="177.2" width="44.2" height="14.5" fill="#fbecc8"/>
<text x="67.7" y="187.2" font-size="8.7" text-anchor="start" font-weight="normal" fill="#333" stroke="#333" stroke-width="0.18" textLength="35.6" lengthAdjust="spacingAndGlyphs" >(Stage 3a)</text>
<rect x="109.6" y="177.2" width="44.599999999999994" height="14.5" fill="#d2e7d6"/>
<text x="112.9" y="187.2" font-size="8.7" text-anchor="start" font-weight="normal" fill="#333" stroke="#333" stroke-width="0.18" textLength="37.5" lengthAdjust="spacingAndGlyphs" >(Stage 3b)</text>
<rect x="155.7" y="177.2" width="43.5" height="14.5" fill="#dbe5f1"/>
<text x="163" y="187.2" font-size="8.7" text-anchor="start" font-weight="normal" fill="#333" stroke="#333" stroke-width="0.18" textLength="27.4" lengthAdjust="spacingAndGlyphs" >Stage 4</text>
<text x="39.7" y="199.7" font-size="6.6" text-anchor="middle" font-weight="normal" fill="#333" stroke="#333" stroke-width="0.18" >CD34+</text>
<text x="39.7" y="207.3" font-size="6.6" text-anchor="middle" font-weight="normal" fill="#333" stroke="#333" stroke-width="0.18" >CD161−</text>
<text x="39.7" y="215.2" font-size="6.6" text-anchor="middle" font-weight="normal" fill="#333" stroke="#333" stroke-width="0.18" >CD56−</text>
<text x="39.7" y="223" font-size="6.6" text-anchor="middle" font-weight="normal" fill="#333" stroke="#333" stroke-width="0.18" >CD94−</text>
<text x="85.5" y="199.7" font-size="6.6" text-anchor="middle" font-weight="normal" fill="#333" stroke="#333" stroke-width="0.18" >CD34−</text>
<text x="85.5" y="207.3" font-size="6.6" text-anchor="middle" font-weight="normal" fill="#333" stroke="#333" stroke-width="0.18" >CD161+</text>
<text x="85.5" y="215.2" font-size="6.6" text-anchor="middle" font-weight="normal" fill="#333" stroke="#333" stroke-width="0.18" >CD56−</text>
<text x="85.5" y="223" font-size="6.6" text-anchor="middle" font-weight="normal" fill="#333" stroke="#333" stroke-width="0.18" >CD94−</text>
<text x="130.6" y="199.7" font-size="6.6" text-anchor="middle" font-weight="normal" fill="#333" stroke="#333" stroke-width="0.18" >CD34−</text>
<text x="130.6" y="207.3" font-size="6.6" text-anchor="middle" font-weight="normal" fill="#333" stroke="#333" stroke-width="0.18" >CD161+</text>
<text x="130.6" y="215.2" font-size="6.6" text-anchor="middle" font-weight="normal" fill="#333" stroke="#333" stroke-width="0.18" >CD56+</text>
<text x="130.6" y="223" font-size="6.6" text-anchor="middle" font-weight="normal" fill="#333" stroke="#333" stroke-width="0.18" >CD94−</text>
<text x="176.6" y="199.7" font-size="6.6" text-anchor="middle" font-weight="normal" fill="#333" stroke="#333" stroke-width="0.18" >CD34−</text>
<text x="176.6" y="207.3" font-size="6.6" text-anchor="middle" font-weight="normal" fill="#333" stroke="#333" stroke-width="0.18" >CD161+</text>
<text x="176.6" y="215.2" font-size="6.6" text-anchor="middle" font-weight="normal" fill="#333" stroke="#333" stroke-width="0.18" >CD56+</text>
<text x="176.6" y="223" font-size="6.6" text-anchor="middle" font-weight="normal" fill="#333" stroke="#333" stroke-width="0.18" >CD94+</text>
<path d="M29.6,200.8 q1,-0.5 2,0 t2,0 t2,0 t2,0 t2,0 t2,0 t2,0 t2,0 t2,0 t1.5,0" stroke="#d8455a" stroke-width="0.6" fill="none"/>
<path d="M74.2,208.5 q1,-0.5 2,0 t2,0 t2,0 t2,0 t2,0 t2,0 t2,0 t2,0 t2,0 t1,0" stroke="#d8455a" stroke-width="0.6" fill="none"/>
<line x1="75.8" y1="216.6" x2="141" y2="216.6" stroke="#d8455a" stroke-width="0.6"/>
<path d="M166.6,225 q1,-0.5 2,0 t2,0 t2,0 t2,0 t2,0 t2,0 t2,0 t2,0 t2,0 t1,0" stroke="#d8455a" stroke-width="0.6" fill="none"/>
<line x1="17.3" y1="229.3" x2="252" y2="229.3" stroke="#8a8a8a" stroke-width="0.9" stroke-dasharray="2.8,2.4"/>
<line x1="17.3" y1="281.4" x2="252" y2="281.4" stroke="#8a8a8a" stroke-width="0.9" stroke-dasharray="2.8,2.4"/>
<line x1="203.4" y1="179.5" x2="203.4" y2="338" stroke="#8a8a8a" stroke-width="0.9" stroke-dasharray="2.8,2.4"/>
<text x="228.7" y="205.2" font-size="6.8" text-anchor="middle" font-weight="normal" fill="#333" stroke="#333" stroke-width="0.18" textLength="27.3" lengthAdjust="spacingAndGlyphs" >Phenotype</text>
<text x="228.3" y="257.5" font-size="6.8" text-anchor="middle" font-weight="normal" fill="#333" stroke="#333" stroke-width="0.18" textLength="18.9" lengthAdjust="spacingAndGlyphs" >Cluster</text>
<text x="228.5" y="312.8" font-size="6.1" text-anchor="middle" font-weight="normal" fill="#333" stroke="#333" stroke-width="0.18" textLength="27.9" lengthAdjust="spacingAndGlyphs" >Expression</text>
<text x="228.4" y="319.6" font-size="6.1" text-anchor="middle" font-weight="normal" fill="#333" stroke="#333" stroke-width="0.18" textLength="11.2" lengthAdjust="spacingAndGlyphs" >level</text>
<rect x="17.9" y="234.4" width="43.8" height="42.900000000000006" fill="none" stroke="#555" stroke-width="1.1"/>
<path d="M39.40,238.40 C39.73,237.15 41.48,237.57 42.40,237.90 C43.32,238.23 44.65,239.23 44.90,240.40 C45.15,241.57 44.65,244.07 43.90,244.90 C43.15,245.73 41.15,246.48 40.40,245.40 C39.65,244.32 39.07,239.65 39.40,238.40Z" fill="#e4e6e6" opacity="0.9"/>
<path d="M46.40,247.40 C47.07,245.23 49.32,245.23 50.90,245.40 C52.48,245.57 54.82,246.90 55.90,248.40 C56.98,249.90 57.40,252.40 57.40,254.40 C57.40,256.40 56.98,259.07 55.90,260.40 C54.82,261.73 52.40,262.73 50.90,262.40 C49.40,262.07 47.65,260.90 46.90,258.40 C46.15,255.90 45.73,249.57 46.40,247.40Z" fill="#e4e6e6" opacity="0.9"/>
<path d="M38.40,262.40 C39.48,261.32 42.65,260.98 44.90,260.90 C47.15,260.82 50.23,260.98 51.90,261.90 C53.57,262.82 55.07,264.90 54.90,266.40 C54.73,267.90 53.07,270.15 50.90,270.90 C48.73,271.65 43.98,271.48 41.90,270.90 C39.82,270.32 38.98,268.82 38.40,267.40 C37.82,265.98 37.32,263.48 38.40,262.40Z" fill="#e4e6e6" opacity="0.9"/>
<path d="M41.70,247.90 C42.28,246.65 44.15,246.48 44.90,246.90 C45.65,247.32 46.12,248.82 46.20,250.40 C46.28,251.98 45.95,254.98 45.40,256.40 C44.85,257.82 43.57,259.23 42.90,258.90 C42.23,258.57 41.60,256.23 41.40,254.40 C41.20,252.57 41.12,249.15 41.70,247.90Z" fill="#d42a48" />
<path d="M40.70,247.20 C41.58,245.87 44.67,245.70 45.70,246.40 C46.73,247.10 46.87,249.48 46.90,251.40 C46.93,253.32 46.65,256.48 45.90,257.90 C45.15,259.32 43.32,260.48 42.40,259.90 C41.48,259.32 40.68,256.52 40.40,254.40 C40.12,252.28 39.82,248.53 40.70,247.20Z" fill="none" stroke="#f0a0b0" stroke-width="0.6"/>
<polygon points="20.60,253.50 22.80,249.90 26.30,248.10 30.80,248.60 33.90,251.70 34.70,256.10 33.00,260.50 29.90,263.60 25.40,265.00 21.90,263.20 20.60,258.80" fill="none" stroke="#555" stroke-width="0.5" stroke-linejoin="round"/>
<path d="M32.9,248.9 Q36.9,244.9 40.9,245.4 Q43.9,246.9 44.9,249.4 M34.4,250.9 Q37.9,249.4 40.9,251.4" fill="none" stroke="#666" stroke-width="0.45"/>
<rect x="63.4" y="234.4" width="43.79999999999999" height="42.900000000000006" fill="none" stroke="#555" stroke-width="1.1"/>
<path d="M84.90,238.40 C85.23,237.15 86.98,237.57 87.90,237.90 C88.82,238.23 90.15,239.23 90.40,240.40 C90.65,241.57 90.15,244.07 89.40,244.90 C88.65,245.73 86.65,246.48 85.90,245.40 C85.15,244.32 84.57,239.65 84.90,238.40Z" fill="#e4e6e6" opacity="0.9"/>
<path d="M91.90,247.40 C92.57,245.23 94.82,245.23 96.40,245.40 C97.98,245.57 100.32,246.90 101.40,248.40 C102.48,249.90 102.90,252.40 102.90,254.40 C102.90,256.40 102.48,259.07 101.40,260.40 C100.32,261.73 97.90,262.73 96.40,262.40 C94.90,262.07 93.15,260.90 92.40,258.40 C91.65,255.90 91.23,249.57 91.90,247.40Z" fill="#e4e6e6" opacity="0.9"/>
<path d="M83.90,262.40 C84.98,261.32 88.15,260.98 90.40,260.90 C92.65,260.82 95.73,260.98 97.40,261.90 C99.07,262.82 100.57,264.90 100.40,266.40 C100.23,267.90 98.57,270.15 96.40,270.90 C94.23,271.65 89.48,271.48 87.40,270.90 C85.32,270.32 84.48,268.82 83.90,267.40 C83.32,265.98 82.82,263.48 83.90,262.40Z" fill="#e4e6e6" opacity="0.9"/>
<path d="M79.80,249.40 C80.22,248.48 82.05,247.98 83.40,247.90 C84.75,247.82 86.98,248.23 87.90,248.90 C88.82,249.57 89.32,251.07 88.90,251.90 C88.48,252.73 86.73,253.65 85.40,253.90 C84.07,254.15 81.83,254.15 80.90,253.40 C79.97,252.65 79.38,250.32 79.80,249.40Z" fill="#f1b77a" />
<path d="M88.9,250.4 L92.4,250.9 L92.9,256.4 L91.4,258.9 L89.4,257.4" fill="none" stroke="#666" stroke-width="0.5"/>
<polygon points="66.10,253.50 68.30,249.90 71.80,248.10 76.30,248.60 79.40,251.70 80.20,256.10 78.50,260.50 75.40,263.60 70.90,265.00 67.40,263.20 66.10,258.80" fill="none" stroke="#555" stroke-width="0.5" stroke-linejoin="round"/>
<path d="M78.4,248.9 Q82.4,244.9 86.4,245.4 Q89.4,246.9 90.4,249.4 M79.9,250.9 Q83.4,249.4 86.4,251.4" fill="none" stroke="#666" stroke-width="0.45"/>
<rect x="109.2" y="234.4" width="43.8" height="42.900000000000006" fill="none" stroke="#555" stroke-width="1.1"/>
<path d="M130.70,238.40 C131.03,237.15 132.78,237.57 133.70,237.90 C134.62,238.23 135.95,239.23 136.20,240.40 C136.45,241.57 135.95,244.07 135.20,244.90 C134.45,245.73 132.45,246.48 131.70,245.40 C130.95,244.32 130.37,239.65 130.70,238.40Z" fill="#e4e6e6" opacity="0.9"/>
<path d="M137.70,247.40 C138.37,245.23 140.62,245.23 142.20,245.40 C143.78,245.57 146.12,246.90 147.20,248.40 C148.28,249.90 148.70,252.40 148.70,254.40 C148.70,256.40 148.28,259.07 147.20,260.40 C146.12,261.73 143.70,262.73 142.20,262.40 C140.70,262.07 138.95,260.90 138.20,258.40 C137.45,255.90 137.03,249.57 137.70,247.40Z" fill="#e4e6e6" opacity="0.9"/>
<path d="M129.70,262.40 C130.78,261.32 133.95,260.98 136.20,260.90 C138.45,260.82 141.53,260.98 143.20,261.90 C144.87,262.82 146.37,264.90 146.20,266.40 C146.03,267.90 144.37,270.15 142.20,270.90 C140.03,271.65 135.28,271.48 133.20,270.90 C131.12,270.32 130.28,268.82 129.70,267.40 C129.12,265.98 128.62,263.48 129.70,262.40Z" fill="#e4e6e6" opacity="0.9"/>
<polygon points="111.90,253.50 114.10,249.90 117.60,248.10 122.10,248.60 125.20,251.70 126.00,256.10 124.30,260.50 121.20,263.60 116.70,265.00 113.20,263.20 111.90,258.80" fill="#e2e2f4" />
<path d="M114.10,249.90 C114.50,248.85 116.27,248.32 117.60,248.10 C118.93,247.88 120.83,248.00 122.10,248.60 C123.37,249.20 124.55,250.45 125.20,251.70 C125.85,252.95 126.25,254.90 126.00,256.10 C125.75,257.30 125.00,258.60 123.70,258.90 C122.40,259.20 119.62,258.65 118.20,257.90 C116.78,257.15 115.88,255.73 115.20,254.40 C114.52,253.07 113.70,250.95 114.10,249.90Z" fill="#5fb446" />
<path d="M117.20,249.40 C117.70,248.57 120.53,248.82 121.70,249.40 C122.87,249.98 124.12,251.73 124.20,252.90 C124.28,254.07 123.12,256.15 122.20,256.40 C121.28,256.65 119.53,255.57 118.70,254.40 C117.87,253.23 116.70,250.23 117.20,249.40Z" fill="#3f9c34" />
<polygon points="111.90,253.50 114.10,249.90 117.60,248.10 122.10,248.60 125.20,251.70 126.00,256.10 124.30,260.50 121.20,263.60 116.70,265.00 113.20,263.20 111.90,258.80" fill="none" stroke="#555" stroke-width="0.5" stroke-linejoin="round"/>
<path d="M124.2,248.9 Q128.2,244.9 132.2,245.4 Q135.2,246.9 136.2,249.4 M125.7,250.9 Q129.2,249.4 132.2,251.4" fill="none" stroke="#666" stroke-width="0.45"/>
<path d="M135.2,249.9 L138.7,249.4 L139.2,255.4 L137.2,258.4 L135.7,256.4" fill="none" stroke="#666" stroke-width="0.5"/>
<rect x="155.3" y="234.4" width="43.80000000000001" height="42.900000000000006" fill="none" stroke="#555" stroke-width="1.1"/>
<path d="M176.80,238.40 C177.13,237.15 178.88,237.57 179.80,237.90 C180.72,238.23 182.05,239.23 182.30,240.40 C182.55,241.57 182.05,244.07 181.30,244.90 C180.55,245.73 178.55,246.48 177.80,245.40 C177.05,244.32 176.47,239.65 176.80,238.40Z" fill="#e4e6e6" opacity="0.9"/>
<path d="M183.80,247.40 C184.47,245.23 186.72,245.23 188.30,245.40 C189.88,245.57 192.22,246.90 193.30,248.40 C194.38,249.90 194.80,252.40 194.80,254.40 C194.80,256.40 194.38,259.07 193.30,260.40 C192.22,261.73 189.80,262.73 188.30,262.40 C186.80,262.07 185.05,260.90 184.30,258.40 C183.55,255.90 183.13,249.57 183.80,247.40Z" fill="#e4e6e6" opacity="0.9"/>
<path d="M175.80,262.40 C176.88,261.32 180.05,260.98 182.30,260.90 C184.55,260.82 187.63,260.98 189.30,261.90 C190.97,262.82 192.47,264.90 192.30,266.40 C192.13,267.90 190.47,270.15 188.30,270.90 C186.13,271.65 181.38,271.48 179.30,270.90 C177.22,270.32 176.38,268.82 175.80,267.40 C175.22,265.98 174.72,263.48 175.80,262.40Z" fill="#e4e6e6" opacity="0.9"/>
<polygon points="158.00,253.50 160.20,249.90 163.70,248.10 168.20,248.60 171.30,251.70 172.10,256.10 170.40,260.50 167.30,263.60 162.80,265.00 159.30,263.20 158.00,258.80" fill="#3cb6ae" stroke="#9adcd8" stroke-width="0.9"/>
<path d="M161.3,252.4 L164.3,258.4 M165.3,250.4 L167.3,255.4" stroke="#a8e2de" stroke-width="0.8"/>
<polygon points="158.00,253.50 160.20,249.90 163.70,248.10 168.20,248.60 171.30,251.70 172.10,256.10 170.40,260.50 167.30,263.60 162.80,265.00 159.30,263.20 158.00,258.80" fill="none" stroke="#555" stroke-width="0.5" stroke-linejoin="round"/>
<path d="M170.3,248.9 Q174.3,244.9 178.3,245.4 Q181.3,246.9 182.3,249.4 M171.8,250.9 Q175.3,249.4 178.3,251.4" fill="none" stroke="#666" stroke-width="0.45"/>
<path d="M181.3,249.9 L184.8,249.4 L185.3,255.4 L183.3,258.4 L181.8,256.4" fill="none" stroke="#666" stroke-width="0.5"/>
<rect x="18.4" y="294.5" width="43.3" height="43.5" fill="none" stroke="#555" stroke-width="1.1"/>
<text x="40.099999999999994" y="290.8" font-size="6.6" text-anchor="middle" font-weight="normal" fill="#222" stroke="#222" stroke-width="0.18" textLength="15.4" lengthAdjust="spacingAndGlyphs" >CD34</text>
<path d="M21.50,314.40 C21.73,312.78 22.42,311.85 23.30,310.90 C24.18,309.95 25.48,309.00 26.80,308.70 C28.12,308.40 29.87,308.73 31.20,309.10 C32.53,309.47 33.98,310.02 34.80,310.90 C35.62,311.78 35.95,313.08 36.10,314.40 C36.25,315.72 36.22,317.32 35.70,318.80 C35.18,320.28 34.18,322.18 33.00,323.30 C31.82,324.42 30.07,325.37 28.60,325.50 C27.13,325.63 25.32,324.92 24.20,324.10 C23.08,323.28 22.35,322.22 21.90,320.60 C21.45,318.98 21.27,316.02 21.50,314.40Z" fill="#45b04a" stroke="#b8e0a0" stroke-width="0.8"/>
<path d="M39.60,302.00 C39.90,301.12 40.33,299.98 41.00,299.40 C41.67,298.82 42.87,298.35 43.60,298.50 C44.33,298.65 44.95,299.57 45.40,300.30 C45.85,301.03 45.72,302.32 46.30,302.90 C46.88,303.48 48.17,303.80 48.90,303.80 C49.63,303.80 50.10,302.60 50.70,302.90 C51.30,303.20 51.92,305.02 52.50,305.60 C53.08,306.18 53.62,305.67 54.20,306.40 C54.78,307.13 55.70,308.82 56.00,310.00 C56.30,311.18 55.70,312.47 56.00,313.50 C56.30,314.53 57.65,315.32 57.80,316.20 C57.95,317.08 57.50,318.22 56.90,318.80 C56.30,319.38 54.93,319.70 54.20,319.70 C53.47,319.70 53.23,318.80 52.50,318.80 C51.77,318.80 50.47,319.10 49.80,319.70 C49.13,320.30 48.05,321.95 48.50,322.40 C48.95,322.85 51.25,322.55 52.50,322.40 C53.75,322.25 55.12,321.35 56.00,321.50 C56.88,321.65 57.65,322.72 57.80,323.30 C57.95,323.88 57.63,324.57 56.90,325.00 C56.17,325.43 53.70,325.30 53.40,325.90 C53.10,326.50 54.97,327.72 55.10,328.60 C55.23,329.48 55.08,330.47 54.20,331.20 C53.32,331.93 51.27,332.40 49.80,333.00 C48.33,333.60 46.72,334.65 45.40,334.80 C44.08,334.95 42.78,334.65 41.90,333.90 C41.02,333.15 40.33,331.48 40.10,330.30 C39.87,329.12 40.80,327.97 40.50,326.80 C40.20,325.63 39.03,324.33 38.30,323.30 C37.57,322.27 36.53,321.78 36.10,320.60 C35.67,319.42 35.70,317.53 35.70,316.20 C35.70,314.87 35.67,313.63 36.10,312.60 C36.53,311.57 37.72,310.88 38.30,310.00 C38.88,309.12 39.45,308.18 39.60,307.30 C39.75,306.42 39.20,305.58 39.20,304.70 C39.20,303.82 39.30,302.88 39.60,302.00Z" fill="#38ad4e" />
<path d="M49.40,322.00 C49.98,321.62 52.15,321.70 53.40,321.70 C54.65,321.70 56.20,321.62 56.90,322.00 C57.60,322.38 58.10,323.45 57.60,324.00 C57.10,324.55 55.18,325.30 53.90,325.30 C52.62,325.30 50.65,324.55 49.90,324.00 C49.15,323.45 48.82,322.38 49.40,322.00Z" fill="#a8d8a0" />
<ellipse cx="44.9" cy="315.5" rx="1.2" ry="2.8" fill="#e8dc20"/>
<path d="M34.9,313.0 L37.4,312.0" stroke="#3aa848" stroke-width="0.8"/>
<rect x="63.5" y="294.5" width="43.3" height="43.5" fill="none" stroke="#555" stroke-width="1.1"/>
<text x="85.2" y="290.8" font-size="6.6" text-anchor="middle" font-weight="normal" fill="#222" stroke="#222" stroke-width="0.18" textLength="19.5" lengthAdjust="spacingAndGlyphs" >CD161</text>
<path d="M66.60,314.40 C66.83,312.78 67.52,311.85 68.40,310.90 C69.28,309.95 70.58,309.00 71.90,308.70 C73.22,308.40 74.97,308.73 76.30,309.10 C77.63,309.47 79.08,310.02 79.90,310.90 C80.72,311.78 81.05,313.08 81.20,314.40 C81.35,315.72 81.32,317.32 80.80,318.80 C80.28,320.28 79.28,322.18 78.10,323.30 C76.92,324.42 75.17,325.37 73.70,325.50 C72.23,325.63 70.42,324.92 69.30,324.10 C68.18,323.28 67.45,322.22 67.00,320.60 C66.55,318.98 66.37,316.02 66.60,314.40Z" fill="url(#gC161)" stroke="#e8e030" stroke-width="0.9"/>
<path d="M66.60,314.40 C66.83,312.78 67.52,311.85 68.40,310.90 C69.28,309.95 70.58,309.00 71.90,308.70 C73.22,308.40 74.97,308.73 76.30,309.10 C77.63,309.47 79.08,310.02 79.90,310.90 C80.72,311.78 81.05,313.08 81.20,314.40 C81.35,315.72 81.32,317.32 80.80,318.80 C80.28,320.28 79.28,322.18 78.10,323.30 C76.92,324.42 75.17,325.37 73.70,325.50 C72.23,325.63 70.42,324.92 69.30,324.10 C68.18,323.28 67.45,322.22 67.00,320.60 C66.55,318.98 66.37,316.02 66.60,314.40Z" fill="none" stroke="#7a6a3a" stroke-width="0.35"/>
<path d="M84.70,302.00 C85.00,301.12 85.43,299.98 86.10,299.40 C86.77,298.82 87.97,298.35 88.70,298.50 C89.43,298.65 90.05,299.57 90.50,300.30 C90.95,301.03 90.82,302.32 91.40,302.90 C91.98,303.48 93.27,303.80 94.00,303.80 C94.73,303.80 95.20,302.60 95.80,302.90 C96.40,303.20 97.02,305.02 97.60,305.60 C98.18,306.18 98.72,305.67 99.30,306.40 C99.88,307.13 100.80,308.82 101.10,310.00 C101.40,311.18 100.80,312.47 101.10,313.50 C101.40,314.53 102.75,315.32 102.90,316.20 C103.05,317.08 102.60,318.22 102.00,318.80 C101.40,319.38 100.03,319.70 99.30,319.70 C98.57,319.70 98.33,318.80 97.60,318.80 C96.87,318.80 95.57,319.10 94.90,319.70 C94.23,320.30 93.15,321.95 93.60,322.40 C94.05,322.85 96.35,322.55 97.60,322.40 C98.85,322.25 100.22,321.35 101.10,321.50 C101.98,321.65 102.75,322.72 102.90,323.30 C103.05,323.88 102.73,324.57 102.00,325.00 C101.27,325.43 98.80,325.30 98.50,325.90 C98.20,326.50 100.07,327.72 100.20,328.60 C100.33,329.48 100.18,330.47 99.30,331.20 C98.42,331.93 96.37,332.40 94.90,333.00 C93.43,333.60 91.82,334.65 90.50,334.80 C89.18,334.95 87.88,334.65 87.00,333.90 C86.12,333.15 85.43,331.48 85.20,330.30 C84.97,329.12 85.90,327.97 85.60,326.80 C85.30,325.63 84.13,324.33 83.40,323.30 C82.67,322.27 81.63,321.78 81.20,320.60 C80.77,319.42 80.80,317.53 80.80,316.20 C80.80,314.87 80.77,313.63 81.20,312.60 C81.63,311.57 82.82,310.88 83.40,310.00 C83.98,309.12 84.55,308.18 84.70,307.30 C84.85,306.42 84.30,305.58 84.30,304.70 C84.30,303.82 84.40,302.88 84.70,302.00Z" fill="#2ea852" />
<path d="M94.50,322.00 C95.08,321.62 97.25,321.70 98.50,321.70 C99.75,321.70 101.30,321.62 102.00,322.00 C102.70,322.38 103.20,323.45 102.70,324.00 C102.20,324.55 100.28,325.30 99.00,325.30 C97.72,325.30 95.75,324.55 95.00,324.00 C94.25,323.45 93.92,322.38 94.50,322.00Z" fill="#c8d860" />
<path d="M89.50,309.00 C90.03,308.08 91.67,307.67 92.50,308.00 C93.33,308.33 94.25,309.67 94.50,311.00 C94.75,312.33 94.33,314.75 94.00,316.00 C93.67,317.25 93.17,318.17 92.50,318.50 C91.83,318.83 90.53,318.83 90.00,318.00 C89.47,317.17 89.38,315.00 89.30,313.50 C89.22,312.00 88.97,309.92 89.50,309.00Z" fill="none" stroke="#1d7a3a" stroke-width="0.4"/>
<path d="M80.0,313.0 L82.5,312.0" stroke="#3aa848" stroke-width="0.8"/>
<rect x="109.2" y="294.5" width="43.3" height="43.5" fill="none" stroke="#555" stroke-width="1.1"/>
<text x="130.9" y="290.8" font-size="6.6" text-anchor="middle" font-weight="normal" fill="#222" stroke="#222" stroke-width="0.18" textLength="15.4" lengthAdjust="spacingAndGlyphs" >CD56</text>
<path d="M112.30,314.40 C112.53,312.78 113.22,311.85 114.10,310.90 C114.98,309.95 116.28,309.00 117.60,308.70 C118.92,308.40 120.67,308.73 122.00,309.10 C123.33,309.47 124.78,310.02 125.60,310.90 C126.42,311.78 126.75,313.08 126.90,314.40 C127.05,315.72 127.02,317.32 126.50,318.80 C125.98,320.28 124.98,322.18 123.80,323.30 C122.62,324.42 120.87,325.37 119.40,325.50 C117.93,325.63 116.12,324.92 115.00,324.10 C113.88,323.28 113.15,322.22 112.70,320.60 C112.25,318.98 112.07,316.02 112.30,314.40Z" fill="url(#gC56)" stroke="#f5d070" stroke-width="0.9"/>
<path d="M112.30,314.40 C112.53,312.78 113.22,311.85 114.10,310.90 C114.98,309.95 116.28,309.00 117.60,308.70 C118.92,308.40 120.67,308.73 122.00,309.10 C123.33,309.47 124.78,310.02 125.60,310.90 C126.42,311.78 126.75,313.08 126.90,314.40 C127.05,315.72 127.02,317.32 126.50,318.80 C125.98,320.28 124.98,322.18 123.80,323.30 C122.62,324.42 120.87,325.37 119.40,325.50 C117.93,325.63 116.12,324.92 115.00,324.10 C113.88,323.28 113.15,322.22 112.70,320.60 C112.25,318.98 112.07,316.02 112.30,314.40Z" fill="none" stroke="#6a4a2a" stroke-width="0.35"/>
<path d="M130.40,302.00 C130.70,301.12 131.13,299.98 131.80,299.40 C132.47,298.82 133.67,298.35 134.40,298.50 C135.13,298.65 135.75,299.57 136.20,300.30 C136.65,301.03 136.52,302.32 137.10,302.90 C137.68,303.48 138.97,303.80 139.70,303.80 C140.43,303.80 140.90,302.60 141.50,302.90 C142.10,303.20 142.72,305.02 143.30,305.60 C143.88,306.18 144.42,305.67 145.00,306.40 C145.58,307.13 146.50,308.82 146.80,310.00 C147.10,311.18 146.50,312.47 146.80,313.50 C147.10,314.53 148.45,315.32 148.60,316.20 C148.75,317.08 148.30,318.22 147.70,318.80 C147.10,319.38 145.73,319.70 145.00,319.70 C144.27,319.70 144.03,318.80 143.30,318.80 C142.57,318.80 141.27,319.10 140.60,319.70 C139.93,320.30 138.85,321.95 139.30,322.40 C139.75,322.85 142.05,322.55 143.30,322.40 C144.55,322.25 145.92,321.35 146.80,321.50 C147.68,321.65 148.45,322.72 148.60,323.30 C148.75,323.88 148.43,324.57 147.70,325.00 C146.97,325.43 144.50,325.30 144.20,325.90 C143.90,326.50 145.77,327.72 145.90,328.60 C146.03,329.48 145.88,330.47 145.00,331.20 C144.12,331.93 142.07,332.40 140.60,333.00 C139.13,333.60 137.52,334.65 136.20,334.80 C134.88,334.95 133.58,334.65 132.70,333.90 C131.82,333.15 131.13,331.48 130.90,330.30 C130.67,329.12 131.60,327.97 131.30,326.80 C131.00,325.63 129.83,324.33 129.10,323.30 C128.37,322.27 127.33,321.78 126.90,320.60 C126.47,319.42 126.50,317.53 126.50,316.20 C126.50,314.87 126.47,313.63 126.90,312.60 C127.33,311.57 128.52,310.88 129.10,310.00 C129.68,309.12 130.25,308.18 130.40,307.30 C130.55,306.42 130.00,305.58 130.00,304.70 C130.00,303.82 130.10,302.88 130.40,302.00Z" fill="#2ea852" />
<path d="M140.20,322.00 C140.78,321.62 142.95,321.70 144.20,321.70 C145.45,321.70 147.00,321.62 147.70,322.00 C148.40,322.38 148.90,323.45 148.40,324.00 C147.90,324.55 145.98,325.30 144.70,325.30 C143.42,325.30 141.45,324.55 140.70,324.00 C139.95,323.45 139.62,322.38 140.20,322.00Z" fill="#5cb858" />
<path d="M135.20,309.00 C135.73,308.08 137.37,307.67 138.20,308.00 C139.03,308.33 139.95,309.67 140.20,311.00 C140.45,312.33 140.03,314.75 139.70,316.00 C139.37,317.25 138.87,318.17 138.20,318.50 C137.53,318.83 136.23,318.83 135.70,318.00 C135.17,317.17 135.08,315.00 135.00,313.50 C134.92,312.00 134.67,309.92 135.20,309.00Z" fill="none" stroke="#1d7a3a" stroke-width="0.4"/>
<path d="M125.7,313.0 L128.2,312.0" stroke="#3aa848" stroke-width="0.8"/>
<rect x="155.4" y="294.5" width="43.29999999999998" height="43.5" fill="none" stroke="#555" stroke-width="1.1"/>
<text x="177.1" y="290.8" font-size="6.6" text-anchor="middle" font-weight="normal" fill="#222" stroke="#222" stroke-width="0.18" textLength="15.4" lengthAdjust="spacingAndGlyphs" >CD94</text>
<path d="M158.50,314.40 C158.73,312.78 159.42,311.85 160.30,310.90 C161.18,309.95 162.48,309.00 163.80,308.70 C165.12,308.40 166.87,308.73 168.20,309.10 C169.53,309.47 170.98,310.02 171.80,310.90 C172.62,311.78 172.95,313.08 173.10,314.40 C173.25,315.72 173.22,317.32 172.70,318.80 C172.18,320.28 171.18,322.18 170.00,323.30 C168.82,324.42 167.07,325.37 165.60,325.50 C164.13,325.63 162.32,324.92 161.20,324.10 C160.08,323.28 159.35,322.22 158.90,320.60 C158.45,318.98 158.27,316.02 158.50,314.40Z" fill="url(#gC94)" stroke="#e8e8a0" stroke-width="0.9"/>
<path d="M158.50,314.40 C158.73,312.78 159.42,311.85 160.30,310.90 C161.18,309.95 162.48,309.00 163.80,308.70 C165.12,308.40 166.87,308.73 168.20,309.10 C169.53,309.47 170.98,310.02 171.80,310.90 C172.62,311.78 172.95,313.08 173.10,314.40 C173.25,315.72 173.22,317.32 172.70,318.80 C172.18,320.28 171.18,322.18 170.00,323.30 C168.82,324.42 167.07,325.37 165.60,325.50 C164.13,325.63 162.32,324.92 161.20,324.10 C160.08,323.28 159.35,322.22 158.90,320.60 C158.45,318.98 158.27,316.02 158.50,314.40Z" fill="none" stroke="#555" stroke-width="0.35"/>
<path d="M176.60,302.00 C176.90,301.12 177.33,299.98 178.00,299.40 C178.67,298.82 179.87,298.35 180.60,298.50 C181.33,298.65 181.95,299.57 182.40,300.30 C182.85,301.03 182.72,302.32 183.30,302.90 C183.88,303.48 185.17,303.80 185.90,303.80 C186.63,303.80 187.10,302.60 187.70,302.90 C188.30,303.20 188.92,305.02 189.50,305.60 C190.08,306.18 190.62,305.67 191.20,306.40 C191.78,307.13 192.70,308.82 193.00,310.00 C193.30,311.18 192.70,312.47 193.00,313.50 C193.30,314.53 194.65,315.32 194.80,316.20 C194.95,317.08 194.50,318.22 193.90,318.80 C193.30,319.38 191.93,319.70 191.20,319.70 C190.47,319.70 190.23,318.80 189.50,318.80 C188.77,318.80 187.47,319.10 186.80,319.70 C186.13,320.30 185.05,321.95 185.50,322.40 C185.95,322.85 188.25,322.55 189.50,322.40 C190.75,322.25 192.12,321.35 193.00,321.50 C193.88,321.65 194.65,322.72 194.80,323.30 C194.95,323.88 194.63,324.57 193.90,325.00 C193.17,325.43 190.70,325.30 190.40,325.90 C190.10,326.50 191.97,327.72 192.10,328.60 C192.23,329.48 192.08,330.47 191.20,331.20 C190.32,331.93 188.27,332.40 186.80,333.00 C185.33,333.60 183.72,334.65 182.40,334.80 C181.08,334.95 179.78,334.65 178.90,333.90 C178.02,333.15 177.33,331.48 177.10,330.30 C176.87,329.12 177.80,327.97 177.50,326.80 C177.20,325.63 176.03,324.33 175.30,323.30 C174.57,322.27 173.53,321.78 173.10,320.60 C172.67,319.42 172.70,317.53 172.70,316.20 C172.70,314.87 172.67,313.63 173.10,312.60 C173.53,311.57 174.72,310.88 175.30,310.00 C175.88,309.12 176.45,308.18 176.60,307.30 C176.75,306.42 176.20,305.58 176.20,304.70 C176.20,303.82 176.30,302.88 176.60,302.00Z" fill="#30a852" />
<path d="M182.40,302.50 C182.80,301.72 185.62,303.15 186.80,303.80 C187.98,304.45 188.62,305.37 189.50,306.40 C190.38,307.43 191.52,308.52 192.10,310.00 C192.68,311.48 193.62,314.55 193.00,315.30 C192.38,316.05 189.83,315.63 188.40,314.50 C186.97,313.37 185.40,310.50 184.40,308.50 C183.40,306.50 182.00,303.28 182.40,302.50Z" fill="#8cc850" opacity="0.8"/>
<path d="M186.40,322.00 C186.98,321.62 189.15,321.70 190.40,321.70 C191.65,321.70 193.20,321.62 193.90,322.00 C194.60,322.38 195.10,323.45 194.60,324.00 C194.10,324.55 192.18,325.30 190.90,325.30 C189.62,325.30 187.65,324.55 186.90,324.00 C186.15,323.45 185.82,322.38 186.40,322.00Z" fill="#6cbc58" />
<path d="M181.40,309.00 C181.93,308.08 183.57,307.67 184.40,308.00 C185.23,308.33 186.15,309.67 186.40,311.00 C186.65,312.33 186.23,314.75 185.90,316.00 C185.57,317.25 185.07,318.17 184.40,318.50 C183.73,318.83 182.43,318.83 181.90,318.00 C181.37,317.17 181.28,315.00 181.20,313.50 C181.12,312.00 180.87,309.92 181.40,309.00Z" fill="none" stroke="#1d7a3a" stroke-width="0.4"/>
<path d="M171.9,313.0 L174.4,312.0" stroke="#3aa848" stroke-width="0.8"/>
<path d="M10.6,342.6 L10.6,326 M10.6,342.6 L28.6,342.6" stroke="#111" stroke-width="0.8" fill="none"/>
<polygon points="10.6,323.4 9.1,326.6 12.1,326.6" fill="#111"/>
<polygon points="30.8,342.6 27.6,341.1 27.6,344.1" fill="#111"/>
<text x="13" y="309" font-size="7.6" text-anchor="middle" font-weight="bold" fill="#222" textLength="20" lengthAdjust="spacingAndGlyphs" transform="rotate(-90 13 309)">UMAP-Y</text>
<text x="33.8" y="345.6" font-size="7.6" text-anchor="start" font-weight="bold" fill="#222" textLength="22.2" lengthAdjust="spacingAndGlyphs" >UMAP-X</text>
<text x="162.9" y="346.1" font-size="6.2" text-anchor="start" font-weight="normal" fill="#333" stroke="#333" stroke-width="0.18" textLength="41.2" lengthAdjust="spacingAndGlyphs" >expression level</text>
<text x="162.4" y="354.5" font-size="6.2" text-anchor="start" font-weight="normal" fill="#333" stroke="#333" stroke-width="0.18" textLength="8.5" lengthAdjust="spacingAndGlyphs" >min</text>
<rect x="174.6" y="350.6" width="18" height="3.9" fill="url(#gExpr)"/>
<text x="195.2" y="354.5" font-size="6.2" text-anchor="start" font-weight="normal" fill="#333" stroke="#333" stroke-width="0.18" textLength="10.1" lengthAdjust="spacingAndGlyphs" >max</text>
<text x="6.2" y="379.6" font-size="10" text-anchor="start" font-weight="bold" fill="#111" >D</text>
<text x="82.2" y="377.3" font-size="8.1" text-anchor="middle" font-weight="normal" fill="#333" stroke="#333" stroke-width="0.18" textLength="34.9" lengthAdjust="spacingAndGlyphs" >Stage 1/2</text>
<line x1="41.4" y1="383.6" x2="41.4" y2="465.4" stroke="#111" stroke-width="0.9"/>
<line x1="40.949999999999996" y1="464.9" x2="122.3" y2="464.9" stroke="#111" stroke-width="0.9"/>
<line x1="39.6" y1="385.1" x2="41.4" y2="385.1" stroke="#111" stroke-width="0.6"/>
<text x="36.4" y="387.0" font-size="5.5" text-anchor="end" font-weight="normal" fill="#555" stroke="#555" stroke-width="0.18" >20</text>
<line x1="39.6" y1="405.2" x2="41.4" y2="405.2" stroke="#111" stroke-width="0.6"/>
<text x="36.4" y="407.09999999999997" font-size="5.5" text-anchor="end" font-weight="normal" fill="#555" stroke="#555" stroke-width="0.18" >15</text>
<line x1="39.6" y1="425.3" x2="41.4" y2="425.3" stroke="#111" stroke-width="0.6"/>
<text x="36.4" y="427.2" font-size="5.5" text-anchor="end" font-weight="normal" fill="#555" stroke="#555" stroke-width="0.18" >10</text>
<line x1="39.6" y1="445.4" x2="41.4" y2="445.4" stroke="#111" stroke-width="0.6"/>
<text x="36.4" y="447.29999999999995" font-size="5.5" text-anchor="end" font-weight="normal" fill="#555" stroke="#555" stroke-width="0.18" >5</text>
<line x1="39.6" y1="464.9" x2="41.4" y2="464.9" stroke="#111" stroke-width="0.6"/>
<text x="36.4" y="466.79999999999995" font-size="5.5" text-anchor="end" font-weight="normal" fill="#555" stroke="#555" stroke-width="0.18" >0</text>
<line x1="54.1" y1="464.9" x2="54.1" y2="466.7" stroke="#111" stroke-width="0.6"/>
<line x1="73.2" y1="464.9" x2="73.2" y2="466.7" stroke="#111" stroke-width="0.6"/>
<line x1="91.6" y1="464.9" x2="91.6" y2="466.7" stroke="#111" stroke-width="0.6"/>
<line x1="110.2" y1="464.9" x2="110.2" y2="466.7" stroke="#111" stroke-width="0.6"/>
<polyline points="54.1,399.0 73.2,431.8 91.6,459.3 110.2,464.1" fill="none" stroke="#bd1a38" stroke-width="1.0"/>
<circle cx="54.1" cy="399" r="1.5" fill="#a8122f"/>
<circle cx="73.2" cy="431.8" r="1.5" fill="#a8122f"/>
<circle cx="91.6" cy="459.3" r="1.5" fill="#a8122f"/>
<circle cx="110.2" cy="464.1" r="1.5" fill="#a8122f"/>
<polyline points="54.1,425.3 73.2,433.8 91.6,459.3 110.2,464.1" fill="none" stroke="#bd1a38" stroke-width="1.0"/>
<circle cx="54.1" cy="425.3" r="1.5" fill="#a8122f"/>
<circle cx="73.2" cy="433.8" r="1.5" fill="#a8122f"/>
<circle cx="91.6" cy="459.3" r="1.5" fill="#a8122f"/>
<circle cx="110.2" cy="464.1" r="1.5" fill="#a8122f"/>
<polyline points="54.1,435.2 73.2,439.5 91.6,459.6 110.2,464.1" fill="none" stroke="#bd1a38" stroke-width="1.0"/>
<circle cx="54.1" cy="435.2" r="1.5" fill="#a8122f"/>
<circle cx="73.2" cy="439.5" r="1.5" fill="#a8122f"/>
<circle cx="91.6" cy="459.6" r="1.5" fill="#a8122f"/>
<circle cx="110.2" cy="464.1" r="1.5" fill="#a8122f"/>
<text x="23.9" y="423.95" font-size="7.4" text-anchor="middle" font-weight="normal" fill="#222" stroke="#222" stroke-width="0.18" textLength="28.2" lengthAdjust="spacingAndGlyphs" transform="rotate(-90 23.9 423.95)">Percentage</text>
<text x="57.1" y="474.29999999999995" font-size="6.3" text-anchor="end" font-weight="normal" fill="#333" stroke="#333" stroke-width="0.18" textLength="20.5" lengthAdjust="spacingAndGlyphs" transform="rotate(-45 57.1 474.29999999999995)">Week 1</text>
<text x="76.2" y="474.29999999999995" font-size="6.3" text-anchor="end" font-weight="normal" fill="#333" stroke="#333" stroke-width="0.18" textLength="20.5" lengthAdjust="spacingAndGlyphs" transform="rotate(-45 76.2 474.29999999999995)">Week 2</text>
<text x="94.6" y="474.29999999999995" font-size="6.3" text-anchor="end" font-weight="normal" fill="#333" stroke="#333" stroke-width="0.18" textLength="20.5" lengthAdjust="spacingAndGlyphs" transform="rotate(-45 94.6 474.29999999999995)">Week 3</text>
<text x="113.2" y="474.29999999999995" font-size="6.3" text-anchor="end" font-weight="normal" fill="#333" stroke="#333" stroke-width="0.18" textLength="20.5" lengthAdjust="spacingAndGlyphs" transform="rotate(-45 113.2 474.29999999999995)">Week 4</text>
<text x="197.7" y="377.3" font-size="8.1" text-anchor="middle" font-weight="normal" fill="#333" stroke="#333" stroke-width="0.18" textLength="31.8" lengthAdjust="spacingAndGlyphs" >Stage 3a</text>
<line x1="157.1" y1="383.6" x2="157.1" y2="465.4" stroke="#111" stroke-width="0.9"/>
<line x1="156.65" y1="464.9" x2="237.6" y2="464.9" stroke="#111" stroke-width="0.9"/>
<line x1="155.29999999999998" y1="385.1" x2="157.1" y2="385.1" stroke="#111" stroke-width="0.6"/>
<text x="152.1" y="387.0" font-size="5.5" text-anchor="end" font-weight="normal" fill="#555" stroke="#555" stroke-width="0.18" >1.5</text>
<line x1="155.29999999999998" y1="411.5" x2="157.1" y2="411.5" stroke="#111" stroke-width="0.6"/>
<text x="152.1" y="413.4" font-size="5.5" text-anchor="end" font-weight="normal" fill="#555" stroke="#555" stroke-width="0.18" >1.0</text>
<line x1="155.29999999999998" y1="438.4" x2="157.1" y2="438.4" stroke="#111" stroke-width="0.6"/>
<text x="152.1" y="440.29999999999995" font-size="5.5" text-anchor="end" font-weight="normal" fill="#555" stroke="#555" stroke-width="0.18" >0.5</text>
<line x1="155.29999999999998" y1="464.9" x2="157.1" y2="464.9" stroke="#111" stroke-width="0.6"/>
<text x="152.1" y="466.79999999999995" font-size="5.5" text-anchor="end" font-weight="normal" fill="#555" stroke="#555" stroke-width="0.18" >0.0</text>
<line x1="169.8" y1="464.9" x2="169.8" y2="466.7" stroke="#111" stroke-width="0.6"/>
<line x1="188.2" y1="464.9" x2="188.2" y2="466.7" stroke="#111" stroke-width="0.6"/>
<line x1="206.6" y1="464.9" x2="206.6" y2="466.7" stroke="#111" stroke-width="0.6"/>
<line x1="225.2" y1="464.9" x2="225.2" y2="466.7" stroke="#111" stroke-width="0.6"/>
<polyline points="169.8,457.4 188.2,408.4 206.6,417.5 225.2,448.1" fill="none" stroke="#bd1a38" stroke-width="1.0"/>
<circle cx="169.8" cy="457.4" r="1.5" fill="#a8122f"/>
<circle cx="188.2" cy="408.4" r="1.5" fill="#a8122f"/>
<circle cx="206.6" cy="417.5" r="1.5" fill="#a8122f"/>
<circle cx="225.2" cy="448.1" r="1.5" fill="#a8122f"/>
<polyline points="169.8,460.2 188.2,410.5 206.6,435.2 225.2,455.5" fill="none" stroke="#bd1a38" stroke-width="1.0"/>
<circle cx="169.8" cy="460.2" r="1.5" fill="#a8122f"/>
<circle cx="188.2" cy="410.5" r="1.5" fill="#a8122f"/>
<circle cx="206.6" cy="435.2" r="1.5" fill="#a8122f"/>
<circle cx="225.2" cy="455.5" r="1.5" fill="#a8122f"/>
<polyline points="169.8,462.7 188.2,438.0 206.6,443.3 225.2,459.8" fill="none" stroke="#bd1a38" stroke-width="1.0"/>
<circle cx="169.8" cy="462.7" r="1.5" fill="#a8122f"/>
<circle cx="188.2" cy="438" r="1.5" fill="#a8122f"/>
<circle cx="206.6" cy="443.3" r="1.5" fill="#a8122f"/>
<circle cx="225.2" cy="459.8" r="1.5" fill="#a8122f"/>
<text x="136.79999999999998" y="423.95" font-size="7.4" text-anchor="middle" font-weight="normal" fill="#222" stroke="#222" stroke-width="0.18" textLength="28.2" lengthAdjust="spacingAndGlyphs" transform="rotate(-90 136.79999999999998 423.95)">Percentage</text>
<text x="172.8" y="474.29999999999995" font-size="6.3" text-anchor="end" font-weight="normal" fill="#333" stroke="#333" stroke-width="0.18" textLength="20.5" lengthAdjust="spacingAndGlyphs" transform="rotate(-45 172.8 474.29999999999995)">Week 1</text>
<text x="191.2" y="474.29999999999995" font-size="6.3" text-anchor="end" font-weight="normal" fill="#333" stroke="#333" stroke-width="0.18" textLength="20.5" lengthAdjust="spacingAndGlyphs" transform="rotate(-45 191.2 474.29999999999995)">Week 2</text>
<text x="209.6" y="474.29999999999995" font-size="6.3" text-anchor="end" font-weight="normal" fill="#333" stroke="#333" stroke-width="0.18" textLength="20.5" lengthAdjust="spacingAndGlyphs" transform="rotate(-45 209.6 474.29999999999995)">Week 3</text>
<text x="228.2" y="474.29999999999995" font-size="6.3" text-anchor="end" font-weight="normal" fill="#333" stroke="#333" stroke-width="0.18" textLength="20.5" lengthAdjust="spacingAndGlyphs" transform="rotate(-45 228.2 474.29999999999995)">Week 4</text>
<text x="82.7" y="506" font-size="8.1" text-anchor="middle" font-weight="normal" fill="#333" stroke="#333" stroke-width="0.18" textLength="31.8" lengthAdjust="spacingAndGlyphs" >Stage 3b</text>
<line x1="42.1" y1="510.9" x2="42.1" y2="593.9" stroke="#111" stroke-width="0.9"/>
<line x1="41.65" y1="593.4" x2="122.3" y2="593.4" stroke="#111" stroke-width="0.9"/>
<line x1="40.300000000000004" y1="513.6" x2="42.1" y2="513.6" stroke="#111" stroke-width="0.6"/>
<text x="37.1" y="515.5" font-size="5.5" text-anchor="end" font-weight="normal" fill="#555" stroke="#555" stroke-width="0.18" >60</text>
<line x1="40.300000000000004" y1="540.1" x2="42.1" y2="540.1" stroke="#111" stroke-width="0.6"/>
<text x="37.1" y="542.0" font-size="5.5" text-anchor="end" font-weight="normal" fill="#555" stroke="#555" stroke-width="0.18" >40</text>
<line x1="40.300000000000004" y1="566.9" x2="42.1" y2="566.9" stroke="#111" stroke-width="0.6"/>
<text x="37.1" y="568.8" font-size="5.5" text-anchor="end" font-weight="normal" fill="#555" stroke="#555" stroke-width="0.18" >20</text>
<line x1="40.300000000000004" y1="593.4" x2="42.1" y2="593.4" stroke="#111" stroke-width="0.6"/>
<text x="37.1" y="595.3" font-size="5.5" text-anchor="end" font-weight="normal" fill="#555" stroke="#555" stroke-width="0.18" >0</text>
<line x1="54.1" y1="593.4" x2="54.1" y2="595.1999999999999" stroke="#111" stroke-width="0.6"/>
<line x1="73.2" y1="593.4" x2="73.2" y2="595.1999999999999" stroke="#111" stroke-width="0.6"/>
<line x1="91.6" y1="593.4" x2="91.6" y2="595.1999999999999" stroke="#111" stroke-width="0.6"/>
<line x1="110.2" y1="593.4" x2="110.2" y2="595.1999999999999" stroke="#111" stroke-width="0.6"/>
<polyline points="54.1,590.2 73.2,580.7 91.6,578.1 110.2,582.2" fill="none" stroke="#bd1a38" stroke-width="1.0"/>
<circle cx="54.1" cy="590.2" r="1.5" fill="#a8122f"/>
<circle cx="73.2" cy="580.7" r="1.5" fill="#a8122f"/>
<circle cx="91.6" cy="578.1" r="1.5" fill="#a8122f"/>
<circle cx="110.2" cy="582.2" r="1.5" fill="#a8122f"/>
<polyline points="54.1,592.7 73.2,588.1 91.6,521.9 110.2,526.7" fill="none" stroke="#bd1a38" stroke-width="1.0"/>
<circle cx="54.1" cy="592.7" r="1.5" fill="#a8122f"/>
<circle cx="73.2" cy="588.1" r="1.5" fill="#a8122f"/>
<circle cx="91.6" cy="521.9" r="1.5" fill="#a8122f"/>
<circle cx="110.2" cy="526.7" r="1.5" fill="#a8122f"/>
<polyline points="54.1,593.4 73.2,590.2 91.6,568.0 110.2,553.6" fill="none" stroke="#bd1a38" stroke-width="1.0"/>
<circle cx="54.1" cy="593.4" r="1.5" fill="#a8122f"/>
<circle cx="73.2" cy="590.2" r="1.5" fill="#a8122f"/>
<circle cx="91.6" cy="568" r="1.5" fill="#a8122f"/>
<circle cx="110.2" cy="553.6" r="1.5" fill="#a8122f"/>
<text x="23.1" y="551.85" font-size="7.4" text-anchor="middle" font-weight="normal" fill="#222" stroke="#222" stroke-width="0.18" textLength="28.2" lengthAdjust="spacingAndGlyphs" transform="rotate(-90 23.1 551.85)">Percentage</text>
<text x="57.1" y="602.8" font-size="6.3" text-anchor="end" font-weight="normal" fill="#333" stroke="#333" stroke-width="0.18" textLength="20.5" lengthAdjust="spacingAndGlyphs" transform="rotate(-45 57.1 602.8)">Week 1</text>
<text x="76.2" y="602.8" font-size="6.3" text-anchor="end" font-weight="normal" fill="#333" stroke="#333" stroke-width="0.18" textLength="20.5" lengthAdjust="spacingAndGlyphs" transform="rotate(-45 76.2 602.8)">Week 2</text>
<text x="94.6" y="602.8" font-size="6.3" text-anchor="end" font-weight="normal" fill="#333" stroke="#333" stroke-width="0.18" textLength="20.5" lengthAdjust="spacingAndGlyphs" transform="rotate(-45 94.6 602.8)">Week 3</text>
<text x="113.2" y="602.8" font-size="6.3" text-anchor="end" font-weight="normal" fill="#333" stroke="#333" stroke-width="0.18" textLength="20.5" lengthAdjust="spacingAndGlyphs" transform="rotate(-45 113.2 602.8)">Week 4</text>
<text x="197.7" y="506" font-size="8.1" text-anchor="middle" font-weight="normal" fill="#333" stroke="#333" stroke-width="0.18" textLength="27.5" lengthAdjust="spacingAndGlyphs" >Stage 4</text>
<line x1="157.1" y1="510.9" x2="157.1" y2="593.9" stroke="#111" stroke-width="0.9"/>
<line x1="156.65" y1="593.4" x2="237.6" y2="593.4" stroke="#111" stroke-width="0.9"/>
<line x1="155.29999999999998" y1="513.6" x2="157.1" y2="513.6" stroke="#111" stroke-width="0.6"/>
<text x="152.1" y="515.5" font-size="5.5" text-anchor="end" font-weight="normal" fill="#555" stroke="#555" stroke-width="0.18" >50</text>
<line x1="155.29999999999998" y1="529.3" x2="157.1" y2="529.3" stroke="#111" stroke-width="0.6"/>
<text x="152.1" y="531.1999999999999" font-size="5.5" text-anchor="end" font-weight="normal" fill="#555" stroke="#555" stroke-width="0.18" >40</text>
<line x1="155.29999999999998" y1="545.3" x2="157.1" y2="545.3" stroke="#111" stroke-width="0.6"/>
<text x="152.1" y="547.1999999999999" font-size="5.5" text-anchor="end" font-weight="normal" fill="#555" stroke="#555" stroke-width="0.18" >30</text>
<line x1="155.29999999999998" y1="561.4" x2="157.1" y2="561.4" stroke="#111" stroke-width="0.6"/>
<text x="152.1" y="563.3" font-size="5.5" text-anchor="end" font-weight="normal" fill="#555" stroke="#555" stroke-width="0.18" >20</text>
<line x1="155.29999999999998" y1="577.5" x2="157.1" y2="577.5" stroke="#111" stroke-width="0.6"/>
<text x="152.1" y="579.4" font-size="5.5" text-anchor="end" font-weight="normal" fill="#555" stroke="#555" stroke-width="0.18" >10</text>
<line x1="155.29999999999998" y1="593.4" x2="157.1" y2="593.4" stroke="#111" stroke-width="0.6"/>
<text x="152.1" y="595.3" font-size="5.5" text-anchor="end" font-weight="normal" fill="#555" stroke="#555" stroke-width="0.18" >0</text>
<line x1="169.8" y1="593.4" x2="169.8" y2="595.1999999999999" stroke="#111" stroke-width="0.6"/>
<line x1="188.2" y1="593.4" x2="188.2" y2="595.1999999999999" stroke="#111" stroke-width="0.6"/>
<line x1="206.6" y1="593.4" x2="206.6" y2="595.1999999999999" stroke="#111" stroke-width="0.6"/>
<line x1="225.2" y1="593.4" x2="225.2" y2="595.1999999999999" stroke="#111" stroke-width="0.6"/>
<polyline points="169.8,593.4 188.2,592.3 206.6,577.5 225.2,518.7" fill="none" stroke="#bd1a38" stroke-width="1.0"/>
<circle cx="169.8" cy="593.4" r="1.5" fill="#a8122f"/>
<circle cx="188.2" cy="592.3" r="1.5" fill="#a8122f"/>
<circle cx="206.6" cy="577.5" r="1.5" fill="#a8122f"/>
<circle cx="225.2" cy="518.7" r="1.5" fill="#a8122f"/>
<polyline points="169.8,593.4 188.2,592.5 206.6,581.7 225.2,532.7" fill="none" stroke="#bd1a38" stroke-width="1.0"/>
<circle cx="169.8" cy="593.4" r="1.5" fill="#a8122f"/>
<circle cx="188.2" cy="592.5" r="1.5" fill="#a8122f"/>
<circle cx="206.6" cy="581.7" r="1.5" fill="#a8122f"/>
<circle cx="225.2" cy="532.7" r="1.5" fill="#a8122f"/>
<polyline points="169.8,593.4 188.2,593.0 206.6,583.4 225.2,545.3" fill="none" stroke="#bd1a38" stroke-width="1.0"/>
<circle cx="169.8" cy="593.4" r="1.5" fill="#a8122f"/>
<circle cx="188.2" cy="593" r="1.5" fill="#a8122f"/>
<circle cx="206.6" cy="583.4" r="1.5" fill="#a8122f"/>
<circle cx="225.2" cy="545.3" r="1.5" fill="#a8122f"/>
<text x="137.79999999999998" y="551.85" font-size="7.4" text-anchor="middle" font-weight="normal" fill="#222" stroke="#222" stroke-width="0.18" textLength="28.2" lengthAdjust="spacingAndGlyphs" transform="rotate(-90 137.79999999999998 551.85)">Percentage</text>
<text x="172.8" y="602.8" font-size="6.3" text-anchor="end" font-weight="normal" fill="#333" stroke="#333" stroke-width="0.18" textLength="20.5" lengthAdjust="spacingAndGlyphs" transform="rotate(-45 172.8 602.8)">Week 1</text>
<text x="191.2" y="602.8" font-size="6.3" text-anchor="end" font-weight="normal" fill="#333" stroke="#333" stroke-width="0.18" textLength="20.5" lengthAdjust="spacingAndGlyphs" transform="rotate(-45 191.2 602.8)">Week 2</text>
<text x="209.6" y="602.8" font-size="6.3" text-anchor="end" font-weight="normal" fill="#333" stroke="#333" stroke-width="0.18" textLength="20.5" lengthAdjust="spacingAndGlyphs" transform="rotate(-45 209.6 602.8)">Week 3</text>
<text x="228.2" y="602.8" font-size="6.3" text-anchor="end" font-weight="normal" fill="#333" stroke="#333" stroke-width="0.18" textLength="20.5" lengthAdjust="spacingAndGlyphs" transform="rotate(-45 228.2 602.8)">Week 4</text>
<rect x="289.7" y="186.5" width="10.800000000000011" height="41.69999999999999" fill="#e31d24"/>
<rect x="302.3" y="208" width="10.199999999999989" height="20.19999999999999" fill="#f48a38"/>
<rect x="314.3" y="223.8" width="10.5" height="4.399999999999977" fill="#fbc672"/>
<rect x="326.5" y="227.6" width="10.5" height="0.5999999999999943" fill="#fdf0b8"/>
<line x1="287.4" y1="165.4" x2="287.4" y2="231.2" stroke="#111" stroke-width="0.9"/>
<line x1="286.95" y1="231.1" x2="338.9" y2="231.1" stroke="#111" stroke-width="0.9"/>
<line x1="285.59999999999997" y1="173.5" x2="287.4" y2="173.5" stroke="#111" stroke-width="0.6"/>
<text x="282.2" y="175.5" font-size="5.6" text-anchor="end" font-weight="normal" fill="#444" stroke="#444" stroke-width="0.18" >15</text>
<line x1="285.59999999999997" y1="191.5" x2="287.4" y2="191.5" stroke="#111" stroke-width="0.6"/>
<text x="282.2" y="193.5" font-size="5.6" text-anchor="end" font-weight="normal" fill="#444" stroke="#444" stroke-width="0.18" >10</text>
<line x1="285.59999999999997" y1="210" x2="287.4" y2="210" stroke="#111" stroke-width="0.6"/>
<text x="282.2" y="212" font-size="5.6" text-anchor="end" font-weight="normal" fill="#444" stroke="#444" stroke-width="0.18" >5</text>
<line x1="285.59999999999997" y1="228.2" x2="287.4" y2="228.2" stroke="#111" stroke-width="0.6"/>
<text x="282.2" y="230.2" font-size="5.6" text-anchor="end" font-weight="normal" fill="#444" stroke="#444" stroke-width="0.18" >0</text>
<circle cx="295.1" cy="192" r="1.1" fill="#111"/>
<circle cx="295.1" cy="198.9" r="1.1" fill="#111"/>
<circle cx="307.4" cy="225.4" r="1.1" fill="#111"/>
<circle cx="307.4" cy="198.6" r="1.1" fill="#111"/>
<circle cx="307.4" cy="200.2" r="1.1" fill="#111"/>
<circle cx="319.7" cy="222.8" r="1.1" fill="#111"/>
<circle cx="319.7" cy="227.7" r="1.1" fill="#111"/>
<circle cx="331.7" cy="227.7" r="1.1" fill="#111"/>
<polygon points="295.1,166.39999999999998 293.8,168.73999999999998 296.40000000000003,168.73999999999998" fill="#111"/>
<text x="268.4" y="198" font-size="7.6" text-anchor="middle" font-weight="normal" fill="#222" stroke="#222" stroke-width="0.18" textLength="27.5" lengthAdjust="spacingAndGlyphs" transform="rotate(-90 268.4 198)">Percentage</text>
<text x="334" y="182.8" font-size="6.2" text-anchor="start" font-weight="normal" fill="#333" stroke="#333" stroke-width="0.18" textLength="16.3" lengthAdjust="spacingAndGlyphs" >Donor</text>
<text x="353.5" y="182.8" font-size="6.2" text-anchor="start" font-weight="normal" fill="#333" stroke="#333" stroke-width="0.18" textLength="24.3" lengthAdjust="spacingAndGlyphs" >Timepoint</text>
<circle cx="335.5" cy="188.9" r="0.95" fill="#111"/>
<text x="339.8" y="191.1" font-size="6.2" text-anchor="start" font-weight="normal" fill="#333" stroke="#333" stroke-width="0.18" >1</text>
<polygon points="335.5,195.4 334.4,197.38 336.6,197.38" fill="#111"/>
<text x="339.8" y="198.7" font-size="6.2" text-anchor="start" font-weight="normal" fill="#333" stroke="#333" stroke-width="0.18" >2</text>
<circle cx="335.5" cy="203.7" r="0.95" fill="#111"/>
<text x="339.8" y="205.89999999999998" font-size="6.2" text-anchor="start" font-weight="normal" fill="#333" stroke="#333" stroke-width="0.18" >3</text>
<rect x="352.5" y="187.1" width="4.6" height="4.6" fill="#d81b2e"/>
<text x="360.2" y="191.1" font-size="6.2" text-anchor="start" font-weight="normal" fill="#333" stroke="#333" stroke-width="0.18" textLength="19.2" lengthAdjust="spacingAndGlyphs" >week_1</text>
<rect x="352.5" y="195.2" width="4.6" height="4.6" fill="#e98b40"/>
<text x="360.2" y="199.2" font-size="6.2" text-anchor="start" font-weight="normal" fill="#333" stroke="#333" stroke-width="0.18" textLength="19.2" lengthAdjust="spacingAndGlyphs" >week_2</text>
<rect x="352.5" y="203.3" width="4.6" height="4.6" fill="#f6c27c"/>
<text x="360.2" y="207.3" font-size="6.2" text-anchor="start" font-weight="normal" fill="#333" stroke="#333" stroke-width="0.18" textLength="19.2" lengthAdjust="spacingAndGlyphs" >week_3</text>
<rect x="352.5" y="211.3" width="4.6" height="4.6" fill="#fbf1c4"/>
<text x="360.2" y="215.3" font-size="6.2" text-anchor="start" font-weight="normal" fill="#333" stroke="#333" stroke-width="0.18" textLength="19.2" lengthAdjust="spacingAndGlyphs" >week_4</text>
<rect x="415.7" y="227.3" width="10.800000000000011" height="0.8999999999999773" fill="#f4fbe8"/>
<rect x="427.7" y="223.1" width="10.800000000000011" height="5.099999999999994" fill="#cfe8b4"/>
<rect x="440" y="203.8" width="10.800000000000011" height="24.399999999999977" fill="#7bc57c"/>
<rect x="451.8" y="176.9" width="11.099999999999966" height="51.29999999999998" fill="#268c44"/>
<line x1="413.4" y1="165.4" x2="413.4" y2="231.2" stroke="#111" stroke-width="0.9"/>
<line x1="412.95" y1="231.1" x2="464.5" y2="231.1" stroke="#111" stroke-width="0.9"/>
<line x1="411.59999999999997" y1="168.5" x2="413.4" y2="168.5" stroke="#111" stroke-width="0.6"/>
<text x="408.2" y="170.5" font-size="5.6" text-anchor="end" font-weight="normal" fill="#444" stroke="#444" stroke-width="0.18" >80</text>
<line x1="411.59999999999997" y1="183.4" x2="413.4" y2="183.4" stroke="#111" stroke-width="0.6"/>
<text x="408.2" y="185.4" font-size="5.6" text-anchor="end" font-weight="normal" fill="#444" stroke="#444" stroke-width="0.18" >60</text>
<line x1="411.59999999999997" y1="198.5" x2="413.4" y2="198.5" stroke="#111" stroke-width="0.6"/>
<text x="408.2" y="200.5" font-size="5.6" text-anchor="end" font-weight="normal" fill="#444" stroke="#444" stroke-width="0.18" >40</text>
<line x1="411.59999999999997" y1="213.1" x2="413.4" y2="213.1" stroke="#111" stroke-width="0.6"/>
<text x="408.2" y="215.1" font-size="5.6" text-anchor="end" font-weight="normal" fill="#444" stroke="#444" stroke-width="0.18" >20</text>
<line x1="411.59999999999997" y1="228.2" x2="413.4" y2="228.2" stroke="#111" stroke-width="0.6"/>
<text x="408.2" y="230.2" font-size="5.6" text-anchor="end" font-weight="normal" fill="#444" stroke="#444" stroke-width="0.18" >0</text>
<circle cx="420.8" cy="226.5" r="1.1" fill="#111"/>
<circle cx="420.8" cy="228" r="1.1" fill="#111"/>
<circle cx="433.1" cy="221" r="1.1" fill="#111"/>
<circle cx="433.1" cy="223" r="1.1" fill="#111"/>
<circle cx="433.1" cy="224.8" r="1.1" fill="#111"/>
<circle cx="445.2" cy="210.8" r="1.1" fill="#111"/>
<circle cx="445.2" cy="216.9" r="1.1" fill="#111"/>
<circle cx="457.7" cy="175.4" r="1.1" fill="#111"/>
<circle cx="457.7" cy="186.9" r="1.1" fill="#111"/>
<polygon points="445.2,181.0 443.9,183.34 446.5,183.34" fill="#111"/>
<polygon points="457.7,166.1 456.4,168.44 459.0,168.44" fill="#111"/>
<text x="394.4" y="198" font-size="7.6" text-anchor="middle" font-weight="normal" fill="#222" stroke="#222" stroke-width="0.18" textLength="27.5" lengthAdjust="spacingAndGlyphs" transform="rotate(-90 394.4 198)">Percentage</text>
<text x="467.8" y="182.8" font-size="6.2" text-anchor="start" font-weight="normal" fill="#333" stroke="#333" stroke-width="0.18" textLength="16.3" lengthAdjust="spacingAndGlyphs" >Donor</text>
<text x="487.3" y="182.8" font-size="6.2" text-anchor="start" font-weight="normal" fill="#333" stroke="#333" stroke-width="0.18" textLength="24.3" lengthAdjust="spacingAndGlyphs" >Timepoint</text>
<circle cx="469.3" cy="188.9" r="0.95" fill="#111"/>
<text x="473.6" y="191.1" font-size="6.2" text-anchor="start" font-weight="normal" fill="#333" stroke="#333" stroke-width="0.18" >1</text>
<polygon points="469.3,195.4 468.2,197.38 470.40000000000003,197.38" fill="#111"/>
<text x="473.6" y="198.7" font-size="6.2" text-anchor="start" font-weight="normal" fill="#333" stroke="#333" stroke-width="0.18" >2</text>
<circle cx="469.3" cy="203.7" r="0.95" fill="#111"/>
<text x="473.6" y="205.89999999999998" font-size="6.2" text-anchor="start" font-weight="normal" fill="#333" stroke="#333" stroke-width="0.18" >3</text>
<rect x="486.3" y="187.1" width="4.6" height="4.6" fill="#f6fbe6"/>
<text x="494.0" y="191.1" font-size="6.2" text-anchor="start" font-weight="normal" fill="#333" stroke="#333" stroke-width="0.18" textLength="19.2" lengthAdjust="spacingAndGlyphs" >week_1</text>
<rect x="486.3" y="195.2" width="4.6" height="4.6" fill="#c9e3b6"/>
<text x="494.0" y="199.2" font-size="6.2" text-anchor="start" font-weight="normal" fill="#333" stroke="#333" stroke-width="0.18" textLength="19.2" lengthAdjust="spacingAndGlyphs" >week_2</text>
<rect x="486.3" y="203.3" width="4.6" height="4.6" fill="#79c07a"/>
<text x="494.0" y="207.3" font-size="6.2" text-anchor="start" font-weight="normal" fill="#333" stroke="#333" stroke-width="0.18" textLength="19.2" lengthAdjust="spacingAndGlyphs" >week_3</text>
<rect x="486.3" y="211.3" width="4.6" height="4.6" fill="#258b45"/>
<text x="494.0" y="215.3" font-size="6.2" text-anchor="start" font-weight="normal" fill="#333" stroke="#333" stroke-width="0.18" textLength="19.2" lengthAdjust="spacingAndGlyphs" >week_4</text>
<text x="263.6" y="256.2" font-size="10" text-anchor="start" font-weight="bold" fill="#111" >E</text>
<text x="284" y="254" font-size="7.6" text-anchor="start" font-weight="normal" fill="#222" stroke="#222" stroke-width="0.18" textLength="44.8" lengthAdjust="spacingAndGlyphs" >all timepoints</text>
<rect x="278.7" y="257.8" width="55.30000000000001" height="55.89999999999998" fill="none" stroke="#5a5a5a" stroke-width="1"/>
<g transform="translate(278.4,257.7)">
<use href="#aL" fill="url(#gEall)"/>
<ellipse cx="14" cy="38" rx="7" ry="6" fill="#f8e68e" opacity="0.8"/>
<path d="M15.7,38.6 L30.4,36.9" stroke="#c8702a" stroke-width="0.8" stroke-dasharray="1.2,0.7" fill="none"/>
<use href="#aR" fill="url(#gEallR)"/>
<g clip-path="url(#clipAR)"><circle cx="38.8" cy="20.8" r="0.45" fill="#a898d8"/><circle cx="34.3" cy="30.4" r="0.45" fill="#3a2a80"/><circle cx="43.5" cy="39.7" r="0.45" fill="#8878c8"/><circle cx="33.7" cy="27.8" r="0.45" fill="#a898d8"/><circle cx="37.3" cy="30.8" r="0.45" fill="#a898d8"/><circle cx="47.9" cy="20.1" r="0.45" fill="#8878c8"/><circle cx="44.4" cy="31.6" r="0.45" fill="#a898d8"/><circle cx="43.4" cy="26.9" r="0.45" fill="#8878c8"/><circle cx="33.8" cy="38.5" r="0.45" fill="#3a2a80"/><circle cx="40.5" cy="30.5" r="0.45" fill="#3a2a80"/><circle cx="43.1" cy="34.1" r="0.45" fill="#a898d8"/><circle cx="43.5" cy="33.0" r="0.45" fill="#3a2a80"/><circle cx="34.8" cy="34.8" r="0.45" fill="#a898d8"/><circle cx="44.1" cy="29.4" r="0.45" fill="#c0b0e0"/><circle cx="47.0" cy="28.6" r="0.45" fill="#c0b0e0"/><circle cx="39.5" cy="23.2" r="0.45" fill="#8878c8"/><circle cx="45.6" cy="23.1" r="0.45" fill="#3a2a80"/><circle cx="42.5" cy="38.9" r="0.45" fill="#c0b0e0"/><circle cx="38.2" cy="41.5" r="0.45" fill="#a898d8"/><circle cx="42.2" cy="21.1" r="0.45" fill="#3a2a80"/><circle cx="35.7" cy="29.2" r="0.45" fill="#a898d8"/><circle cx="50.3" cy="18.9" r="0.45" fill="#3a2a80"/><circle cx="39.1" cy="25.8" r="0.45" fill="#c0b0e0"/><circle cx="43.4" cy="28.4" r="0.45" fill="#a898d8"/><circle cx="50.0" cy="28.9" r="0.45" fill="#a898d8"/><circle cx="34.1" cy="34.5" r="0.45" fill="#c0b0e0"/><circle cx="38.1" cy="26.6" r="0.45" fill="#3a2a80"/><circle cx="33.4" cy="28.5" r="0.45" fill="#8878c8"/><circle cx="44.0" cy="29.3" r="0.45" fill="#8878c8"/><circle cx="46.8" cy="20.2" r="0.45" fill="#8878c8"/><circle cx="40.2" cy="39.9" r="0.45" fill="#c0b0e0"/><circle cx="34.5" cy="28.2" r="0.45" fill="#3a2a80"/><circle cx="48.9" cy="37.5" r="0.45" fill="#3a2a80"/><circle cx="45.7" cy="41.7" r="0.45" fill="#c0b0e0"/><circle cx="50.2" cy="20.8" r="0.45" fill="#8878c8"/><circle cx="35.7" cy="33.5" r="0.45" fill="#a898d8"/><circle cx="41.7" cy="31.7" r="0.45" fill="#3a2a80"/><circle cx="38.1" cy="20.6" r="0.45" fill="#3a2a80"/><circle cx="44.0" cy="25.0" r="0.45" fill="#8878c8"/><circle cx="45.4" cy="29.9" r="0.45" fill="#a898d8"/><circle cx="41.2" cy="38.8" r="0.45" fill="#c0b0e0"/><circle cx="40.2" cy="26.9" r="0.45" fill="#c0b0e0"/><circle cx="44.4" cy="18.6" r="0.45" fill="#a898d8"/><circle cx="50.7" cy="28.0" r="0.45" fill="#a898d8"/><circle cx="39.1" cy="18.3" r="0.45" fill="#a898d8"/><circle cx="43.2" cy="30.4" r="0.45" fill="#3a2a80"/><circle cx="44.0" cy="18.8" r="0.45" fill="#8878c8"/><circle cx="44.1" cy="20.7" r="0.45" fill="#3a2a80"/><circle cx="50.2" cy="32.1" r="0.45" fill="#c0b0e0"/><circle cx="35.2" cy="38.2" r="0.45" fill="#c0b0e0"/><circle cx="41.6" cy="24.8" r="0.45" fill="#8878c8"/><circle cx="34.8" cy="25.6" r="0.45" fill="#3a2a80"/><circle cx="41.6" cy="34.3" r="0.45" fill="#a898d8"/><circle cx="36.7" cy="40.8" r="0.45" fill="#3a2a80"/><circle cx="35.6" cy="30.6" r="0.45" fill="#a898d8"/><circle cx="46.6" cy="24.5" r="0.45" fill="#a898d8"/><circle cx="45.5" cy="23.5" r="0.45" fill="#3a2a80"/><circle cx="49.3" cy="25.9" r="0.45" fill="#8878c8"/><circle cx="42.6" cy="36.5" r="0.45" fill="#3a2a80"/><circle cx="44.5" cy="32.3" r="0.45" fill="#8878c8"/><circle cx="47.5" cy="37.5" r="0.45" fill="#8878c8"/><circle cx="36.6" cy="29.3" r="0.45" fill="#a898d8"/><circle cx="50.8" cy="36.8" r="0.45" fill="#c0b0e0"/><circle cx="37.7" cy="34.3" r="0.45" fill="#3a2a80"/><circle cx="41.1" cy="40.4" r="0.45" fill="#3a2a80"/><circle cx="50.2" cy="26.1" r="0.45" fill="#8878c8"/><circle cx="34.8" cy="28.8" r="0.45" fill="#3a2a80"/><circle cx="36.7" cy="32.6" r="0.45" fill="#a898d8"/><circle cx="41.6" cy="33.3" r="0.45" fill="#a898d8"/><circle cx="48.0" cy="20.0" r="0.45" fill="#c0b0e0"/><circle cx="47.1" cy="35.8" r="0.45" fill="#c0b0e0"/><circle cx="49.0" cy="27.8" r="0.45" fill="#3a2a80"/><circle cx="34.6" cy="40.7" r="0.45" fill="#c0b0e0"/><circle cx="41.3" cy="35.6" r="0.45" fill="#a898d8"/><circle cx="46.0" cy="21.3" r="0.45" fill="#8878c8"/><circle cx="33.5" cy="31.8" r="0.45" fill="#c0b0e0"/><circle cx="47.5" cy="20.7" r="0.45" fill="#c0b0e0"/><circle cx="44.8" cy="25.8" r="0.45" fill="#8878c8"/><circle cx="33.4" cy="37.0" r="0.45" fill="#a898d8"/><circle cx="42.5" cy="40.3" r="0.45" fill="#c0b0e0"/><circle cx="50.8" cy="21.9" r="0.45" fill="#8878c8"/><circle cx="33.5" cy="22.3" r="0.45" fill="#8878c8"/><circle cx="46.7" cy="25.1" r="0.45" fill="#c0b0e0"/><circle cx="48.0" cy="18.5" r="0.45" fill="#3a2a80"/><circle cx="49.2" cy="33.6" r="0.45" fill="#c0b0e0"/><circle cx="47.9" cy="39.0" r="0.45" fill="#8878c8"/><circle cx="42.6" cy="30.1" r="0.45" fill="#a898d8"/><circle cx="48.7" cy="36.4" r="0.45" fill="#a898d8"/><circle cx="47.0" cy="20.7" r="0.45" fill="#8878c8"/><circle cx="41.5" cy="35.1" r="0.45" fill="#a898d8"/><circle cx="38.9" cy="30.0" r="0.45" fill="#c0b0e0"/><circle cx="47.1" cy="19.7" r="0.45" fill="#a898d8"/><circle cx="37.5" cy="23.9" r="0.45" fill="#a898d8"/><circle cx="42.1" cy="31.0" r="0.45" fill="#a898d8"/><circle cx="41.0" cy="32.3" r="0.45" fill="#8878c8"/><circle cx="45.5" cy="28.3" r="0.45" fill="#c0b0e0"/><circle cx="42.1" cy="23.2" r="0.45" fill="#3a2a80"/><circle cx="49.6" cy="39.3" r="0.45" fill="#8878c8"/><circle cx="48.1" cy="20.4" r="0.45" fill="#a898d8"/><circle cx="40.1" cy="24.9" r="0.45" fill="#8878c8"/><circle cx="40.7" cy="22.3" r="0.45" fill="#3a2a80"/><circle cx="47.1" cy="39.4" r="0.45" fill="#8878c8"/><circle cx="49.9" cy="33.1" r="0.45" fill="#3a2a80"/><circle cx="35.6" cy="39.1" r="0.45" fill="#c0b0e0"/><circle cx="37.0" cy="40.8" r="0.45" fill="#c0b0e0"/><circle cx="48.9" cy="21.1" r="0.45" fill="#8878c8"/><circle cx="35.9" cy="27.8" r="0.45" fill="#c0b0e0"/><circle cx="39.1" cy="21.9" r="0.45" fill="#3a2a80"/><circle cx="34.7" cy="26.1" r="0.45" fill="#3a2a80"/><circle cx="43.0" cy="28.0" r="0.45" fill="#a898d8"/><circle cx="39.9" cy="29.9" r="0.45" fill="#3a2a80"/><circle cx="42.2" cy="18.6" r="0.45" fill="#8878c8"/><circle cx="50.5" cy="19.6" r="0.45" fill="#3a2a80"/><circle cx="37.9" cy="39.6" r="0.45" fill="#8878c8"/><circle cx="37.9" cy="20.2" r="0.45" fill="#c0b0e0"/><circle cx="48.3" cy="33.9" r="0.45" fill="#3a2a80"/><circle cx="40.3" cy="30.4" r="0.45" fill="#c0b0e0"/><circle cx="45.6" cy="19.2" r="0.45" fill="#a898d8"/><circle cx="47.4" cy="21.6" r="0.45" fill="#a898d8"/><circle cx="37.8" cy="17.4" r="0.45" fill="#a898d8"/><circle cx="47.4" cy="19.1" r="0.45" fill="#8878c8"/><circle cx="34.2" cy="38.6" r="0.45" fill="#c0b0e0"/><circle cx="33.2" cy="41.9" r="0.45" fill="#c0b0e0"/><circle cx="49.7" cy="23.7" r="0.45" fill="#8878c8"/><circle cx="33.8" cy="34.7" r="0.45" fill="#a898d8"/><circle cx="50.4" cy="23.5" r="0.45" fill="#8878c8"/><circle cx="36.6" cy="24.8" r="0.45" fill="#3a2a80"/><circle cx="42.6" cy="22.1" r="0.45" fill="#c0b0e0"/><circle cx="42.0" cy="21.4" r="0.45" fill="#3a2a80"/><circle cx="47.5" cy="41.9" r="0.45" fill="#a898d8"/><circle cx="33.3" cy="35.3" r="0.45" fill="#8878c8"/><circle cx="42.3" cy="23.1" r="0.45" fill="#c0b0e0"/><circle cx="34.9" cy="37.5" r="0.45" fill="#c0b0e0"/><circle cx="44.8" cy="30.6" r="0.45" fill="#c0b0e0"/><circle cx="50.5" cy="24.7" r="0.45" fill="#8878c8"/><circle cx="50.7" cy="25.6" r="0.45" fill="#8878c8"/><circle cx="40.3" cy="25.7" r="0.45" fill="#a898d8"/><circle cx="48.1" cy="17.4" r="0.45" fill="#3a2a80"/><circle cx="40.8" cy="18.4" r="0.45" fill="#c0b0e0"/><circle cx="48.7" cy="33.8" r="0.45" fill="#3a2a80"/></g>
<g clip-path="url(#clipAL)"><circle cx="19.4" cy="20.2" r="0.45" fill="#ffffff"/><circle cx="16.7" cy="8.5" r="0.45" fill="#6a4aa0"/><circle cx="8.1" cy="13.0" r="0.45" fill="#6a4aa0"/><circle cx="26.5" cy="17.0" r="0.45" fill="#ffffff"/><circle cx="8.7" cy="24.4" r="0.45" fill="#ffffff"/><circle cx="14.8" cy="5.0" r="0.45" fill="#6a4aa0"/><circle cx="9.6" cy="11.1" r="0.45" fill="#d8c8e8"/><circle cx="11.8" cy="16.1" r="0.45" fill="#ffffff"/><circle cx="9.7" cy="23.0" r="0.45" fill="#ffffff"/><circle cx="15.6" cy="5.9" r="0.45" fill="#ffffff"/><circle cx="13.7" cy="18.9" r="0.45" fill="#ffffff"/><circle cx="19.1" cy="16.6" r="0.45" fill="#ffffff"/><circle cx="20.5" cy="20.8" r="0.45" fill="#d8c8e8"/><circle cx="15.4" cy="12.2" r="0.45" fill="#6a4aa0"/><circle cx="10.8" cy="20.9" r="0.45" fill="#d8c8e8"/><circle cx="10.8" cy="23.1" r="0.45" fill="#d8c8e8"/><circle cx="24.9" cy="18.8" r="0.45" fill="#d8c8e8"/><circle cx="21.3" cy="16.1" r="0.45" fill="#d8c8e8"/><circle cx="22.3" cy="17.5" r="0.45" fill="#ffffff"/><circle cx="23.7" cy="17.8" r="0.45" fill="#d8c8e8"/><circle cx="21.0" cy="20.3" r="0.45" fill="#ffffff"/><circle cx="9.6" cy="5.9" r="0.45" fill="#d8c8e8"/><circle cx="14.9" cy="7.3" r="0.45" fill="#6a4aa0"/><circle cx="18.6" cy="18.8" r="0.45" fill="#d8c8e8"/><circle cx="18.1" cy="10.4" r="0.45" fill="#6a4aa0"/><circle cx="8.1" cy="22.5" r="0.45" fill="#d8c8e8"/><circle cx="25.7" cy="24.8" r="0.45" fill="#ffffff"/><circle cx="20.5" cy="6.5" r="0.45" fill="#d8c8e8"/><circle cx="17.0" cy="22.8" r="0.45" fill="#6a4aa0"/><circle cx="12.5" cy="21.6" r="0.45" fill="#ffffff"/><circle cx="22.1" cy="26.5" r="0.45" fill="#6a4aa0"/><circle cx="24.1" cy="6.7" r="0.45" fill="#d8c8e8"/><circle cx="13.5" cy="6.0" r="0.45" fill="#d8c8e8"/><circle cx="20.2" cy="6.7" r="0.45" fill="#ffffff"/><circle cx="14.3" cy="19.3" r="0.45" fill="#d8c8e8"/><circle cx="13.8" cy="17.5" r="0.45" fill="#ffffff"/><circle cx="17.2" cy="15.7" r="0.45" fill="#d8c8e8"/><circle cx="9.9" cy="9.8" r="0.45" fill="#6a4aa0"/><circle cx="13.5" cy="16.4" r="0.45" fill="#6a4aa0"/><circle cx="16.9" cy="21.9" r="0.45" fill="#d8c8e8"/><circle cx="11.8" cy="26.5" r="0.45" fill="#6a4aa0"/><circle cx="8.3" cy="15.1" r="0.45" fill="#d8c8e8"/><circle cx="26.4" cy="14.9" r="0.45" fill="#6a4aa0"/><circle cx="15.4" cy="25.2" r="0.45" fill="#ffffff"/><circle cx="9.4" cy="7.0" r="0.45" fill="#d8c8e8"/><circle cx="18.0" cy="26.0" r="0.45" fill="#ffffff"/><circle cx="19.5" cy="18.9" r="0.45" fill="#6a4aa0"/><circle cx="24.9" cy="20.5" r="0.45" fill="#ffffff"/><circle cx="17.5" cy="24.3" r="0.45" fill="#6a4aa0"/><circle cx="8.5" cy="5.1" r="0.45" fill="#6a4aa0"/><circle cx="21.0" cy="13.9" r="0.45" fill="#d8c8e8"/><circle cx="10.7" cy="12.6" r="0.45" fill="#6a4aa0"/><circle cx="10.3" cy="12.3" r="0.45" fill="#6a4aa0"/><circle cx="22.3" cy="23.5" r="0.45" fill="#ffffff"/><circle cx="25.9" cy="9.3" r="0.45" fill="#ffffff"/><circle cx="25.1" cy="11.4" r="0.45" fill="#6a4aa0"/><circle cx="9.2" cy="13.6" r="0.45" fill="#d8c8e8"/><circle cx="9.5" cy="25.4" r="0.45" fill="#6a4aa0"/><circle cx="24.2" cy="11.2" r="0.45" fill="#ffffff"/><circle cx="23.9" cy="11.3" r="0.45" fill="#ffffff"/><circle cx="12.7" cy="10.8" r="0.45" fill="#d8c8e8"/><circle cx="14.0" cy="22.0" r="0.45" fill="#6a4aa0"/><circle cx="24.8" cy="22.9" r="0.45" fill="#d8c8e8"/><circle cx="15.6" cy="24.3" r="0.45" fill="#d8c8e8"/><circle cx="18.4" cy="20.8" r="0.45" fill="#ffffff"/><circle cx="25.7" cy="14.0" r="0.45" fill="#d8c8e8"/><circle cx="22.3" cy="19.2" r="0.45" fill="#6a4aa0"/><circle cx="17.2" cy="25.1" r="0.45" fill="#d8c8e8"/><circle cx="10.4" cy="15.4" r="0.45" fill="#6a4aa0"/><circle cx="13.4" cy="10.6" r="0.45" fill="#d8c8e8"/><circle cx="26.5" cy="10.7" r="0.45" fill="#d8c8e8"/><circle cx="12.5" cy="15.6" r="0.45" fill="#d8c8e8"/><circle cx="15.5" cy="8.7" r="0.45" fill="#ffffff"/><circle cx="9.4" cy="16.0" r="0.45" fill="#6a4aa0"/><circle cx="18.5" cy="15.0" r="0.45" fill="#6a4aa0"/><circle cx="26.9" cy="14.9" r="0.45" fill="#ffffff"/><circle cx="18.4" cy="10.4" r="0.45" fill="#ffffff"/><circle cx="14.5" cy="7.0" r="0.45" fill="#ffffff"/><circle cx="15.0" cy="22.8" r="0.45" fill="#ffffff"/><circle cx="24.9" cy="21.5" r="0.45" fill="#6a4aa0"/><circle cx="15.3" cy="21.4" r="0.45" fill="#ffffff"/><circle cx="15.2" cy="12.4" r="0.45" fill="#ffffff"/><circle cx="17.5" cy="17.6" r="0.45" fill="#6a4aa0"/><circle cx="10.4" cy="16.1" r="0.45" fill="#d8c8e8"/><circle cx="23.0" cy="23.7" r="0.45" fill="#ffffff"/><circle cx="13.1" cy="10.5" r="0.45" fill="#6a4aa0"/><circle cx="20.3" cy="14.5" r="0.45" fill="#6a4aa0"/><circle cx="24.1" cy="24.2" r="0.45" fill="#ffffff"/><circle cx="10.4" cy="14.4" r="0.45" fill="#6a4aa0"/><circle cx="26.4" cy="15.8" r="0.45" fill="#ffffff"/></g>
<path d="M41,22 L43,30 L41,37" stroke="#b03060" stroke-width="1" fill="none" opacity="0.8"/>
<use href="#aP" fill="none" stroke="#444" stroke-width="0.55"/>
</g>
<rect x="338.1" y="258" width="4.7" height="55.4" fill="url(#gWeek)" stroke="#444" stroke-width="0.4"/>
<text x="345.4" y="260.4" font-size="6.8" text-anchor="start" font-weight="normal" fill="#333" stroke="#333" stroke-width="0.18" >4</text>
<text x="345.4" y="277.29999999999995" font-size="6.8" text-anchor="start" font-weight="normal" fill="#333" stroke="#333" stroke-width="0.18" >3</text>
<text x="345.4" y="294.59999999999997" font-size="6.8" text-anchor="start" font-weight="normal" fill="#333" stroke="#333" stroke-width="0.18" >2</text>
<text x="345.4" y="311.9" font-size="6.8" text-anchor="start" font-weight="normal" fill="#333" stroke="#333" stroke-width="0.18" >1</text>
<text x="352" y="288" font-size="6" text-anchor="start" font-weight="normal" fill="#333" stroke="#333" stroke-width="0.18" textLength="13.5" lengthAdjust="spacingAndGlyphs" >week</text>
<rect x="279.3" y="330.1" width="53.0" height="53.60000000000002" fill="none" stroke="#5a5a5a" stroke-width="1"/>
<text x="305.8" y="325.20000000000005" font-size="8.1" text-anchor="middle" font-weight="normal" fill="#222" stroke="#222" stroke-width="0.18" textLength="25.3" lengthAdjust="spacingAndGlyphs" >CD161</text>
<g transform="translate(279.3,330.1)">
<use href="#eL" fill="url(#eL1)"/>
<path d="M25.5,29.5 L31,31 M25.5,32 L31,34 M26,34.5 L30.5,36.5" stroke="url(#eL1)" stroke-width="1.1"/>
<use href="#eR" fill="url(#eR1)"/>
<use href="#eP" fill="none" stroke="#444" stroke-width="0.5"/>
</g>
<rect x="339.2" y="330.1" width="53.0" height="53.60000000000002" fill="none" stroke="#5a5a5a" stroke-width="1"/>
<text x="365.7" y="325.20000000000005" font-size="8.1" text-anchor="middle" font-weight="normal" fill="#222" stroke="#222" stroke-width="0.18" textLength="22" lengthAdjust="spacingAndGlyphs" >CD56</text>
<g transform="translate(339.2,330.1)">
<use href="#eL" fill="url(#eL2)"/>
<path d="M25.5,29.5 L31,31 M25.5,32 L31,34 M26,34.5 L30.5,36.5" stroke="url(#eL2)" stroke-width="1.1"/>
<use href="#eR" fill="url(#eR2)"/>
<use href="#eP" fill="none" stroke="#444" stroke-width="0.5"/>
</g>
<rect x="399.3" y="330.1" width="53.0" height="53.60000000000002" fill="none" stroke="#5a5a5a" stroke-width="1"/>
<text x="425.8" y="325.20000000000005" font-size="8.1" text-anchor="middle" font-weight="normal" fill="#222" stroke="#222" stroke-width="0.18" textLength="31.3" lengthAdjust="spacingAndGlyphs" >DNAM-1</text>
<g transform="translate(399.3,330.1)">
<use href="#eL" fill="url(#eL3)"/>
<path d="M25.5,29.5 L31,31 M25.5,32 L31,34 M26,34.5 L30.5,36.5" stroke="url(#eL3)" stroke-width="1.1"/>
<use href="#eR" fill="url(#eR3)"/>
<path d="M7,24 Q9,20 11,21 L10,25 Z" fill="#f0a030"/>
<use href="#eP" fill="none" stroke="#444" stroke-width="0.5"/>
</g>
<rect x="458.5" y="330.1" width="53.0" height="53.60000000000002" fill="none" stroke="#5a5a5a" stroke-width="1"/>
<text x="485.0" y="325.20000000000005" font-size="8.1" text-anchor="middle" font-weight="normal" fill="#222" stroke="#222" stroke-width="0.18" textLength="25.3" lengthAdjust="spacingAndGlyphs" >NKp46</text>
<g transform="translate(458.5,330.1)">
<use href="#eL" fill="url(#eL4)"/>
<path d="M25.5,29.5 L31,31 M25.5,32 L31,34 M26,34.5 L30.5,36.5" stroke="url(#eL4)" stroke-width="1.1"/>
<use href="#eR" fill="url(#eR4)"/>
<use href="#eP" fill="none" stroke="#444" stroke-width="0.5"/>
</g>
<rect x="279.3" y="400" width="53.0" height="53.60000000000002" fill="none" stroke="#5a5a5a" stroke-width="1"/>
<text x="305.8" y="395.1" font-size="8.1" text-anchor="middle" font-weight="normal" fill="#222" stroke="#222" stroke-width="0.18" textLength="27.5" lengthAdjust="spacingAndGlyphs" >NKG2D</text>
<g transform="translate(279.3,400)">
<use href="#eL" fill="url(#eL5)"/>
<path d="M25.5,29.5 L31,31 M25.5,32 L31,34 M26,34.5 L30.5,36.5" stroke="url(#eL5)" stroke-width="1.1"/>
<use href="#eR" fill="url(#eR5)"/>
<use href="#eP" fill="none" stroke="#444" stroke-width="0.5"/>
</g>
<rect x="339.2" y="400" width="53.0" height="53.60000000000002" fill="none" stroke="#5a5a5a" stroke-width="1"/>
<text x="365.7" y="395.1" font-size="8.1" text-anchor="middle" font-weight="normal" fill="#222" stroke="#222" stroke-width="0.18" textLength="22.3" lengthAdjust="spacingAndGlyphs" >CD94</text>
<g transform="translate(339.2,400)">
<use href="#eL" fill="url(#eL6)"/>
<path d="M25.5,29.5 L31,31 M25.5,32 L31,34 M26,34.5 L30.5,36.5" stroke="url(#eL6)" stroke-width="1.1"/>
<use href="#eR" fill="url(#eR6)"/>
<use href="#eP" fill="none" stroke="#444" stroke-width="0.5"/>
</g>
<rect x="399.3" y="400" width="53.0" height="53.60000000000002" fill="none" stroke="#5a5a5a" stroke-width="1"/>
<text x="425.8" y="395.1" font-size="8.1" text-anchor="middle" font-weight="normal" fill="#222" stroke="#222" stroke-width="0.18" textLength="29" lengthAdjust="spacingAndGlyphs" >NKG2A</text>
<g transform="translate(399.3,400)">
<use href="#eL" fill="url(#eL7)"/>
<path d="M25.5,29.5 L31,31 M25.5,32 L31,34 M26,34.5 L30.5,36.5" stroke="url(#eL7)" stroke-width="1.1"/>
<use href="#eR" fill="url(#eR7)"/>
<path d="M17,7 Q19,4 21,6 L22,9 L19,10 Z" fill="#f0c020"/><circle cx="21" cy="6.5" r="1.3" fill="#e85020"/><circle cx="25.5" cy="9.5" r="1.1" fill="#e85020"/><circle cx="13.5" cy="10" r="1" fill="#f0a020"/>
<use href="#eP" fill="none" stroke="#444" stroke-width="0.5"/>
</g>
<rect x="279.3" y="468.6" width="53.0" height="53.60000000000002" fill="none" stroke="#5a5a5a" stroke-width="1"/>
<text x="305.8" y="463.70000000000005" font-size="8.1" text-anchor="middle" font-weight="normal" fill="#222" stroke="#222" stroke-width="0.18" textLength="28.4" lengthAdjust="spacingAndGlyphs" >pan-KIR</text>
<g transform="translate(279.3,468.6)">
<use href="#eL" fill="url(#eL8)"/>
<path d="M25.5,29.5 L31,31 M25.5,32 L31,34 M26,34.5 L30.5,36.5" stroke="url(#eL8)" stroke-width="1.1"/>
<use href="#eR" fill="url(#eR8)"/>
<use href="#eP" fill="none" stroke="#444" stroke-width="0.5"/>
</g>
<rect x="339.2" y="468.6" width="53.0" height="53.60000000000002" fill="none" stroke="#5a5a5a" stroke-width="1"/>
<text x="365.7" y="463.70000000000005" font-size="8.1" text-anchor="middle" font-weight="normal" fill="#222" stroke="#222" stroke-width="0.18" textLength="20.8" lengthAdjust="spacingAndGlyphs" >CD16</text>
<g transform="translate(339.2,468.6)">
<use href="#eL" fill="url(#eL9)"/>
<path d="M25.5,29.5 L31,31 M25.5,32 L31,34 M26,34.5 L30.5,36.5" stroke="url(#eL9)" stroke-width="1.1"/>
<use href="#eR" fill="url(#eR9)"/>
<path d="M13.8,11 L14.9,6.1 L20.2,5.1 L21.9,8.3 L24,12.1 L22,13 L18,12.5 Z" fill="#eedf28"/>
<use href="#eP" fill="none" stroke="#444" stroke-width="0.5"/>
</g>
<path d="M271,529 L271,508 M271,529 L293.5,529" stroke="#111" stroke-width="0.8" fill="none"/>
<polygon points="271,505.4 269.5,508.6 272.5,508.6" fill="#111"/>
<polygon points="296.2,529 293,527.5 293,530.5" fill="#111"/>
<text x="273.5" y="490.5" font-size="7.6" text-anchor="middle" font-weight="bold" fill="#222" textLength="20" lengthAdjust="spacingAndGlyphs" transform="rotate(-90 273.5 490.5)">UMAP-Y</text>
<text x="299.5" y="532.2" font-size="7.6" text-anchor="start" font-weight="bold" fill="#222" textLength="21.5" lengthAdjust="spacingAndGlyphs" >UMAP-X</text>
<text x="402.5" y="512.3" font-size="6" text-anchor="start" font-weight="normal" fill="#333" stroke="#333" stroke-width="0.18" textLength="40.5" lengthAdjust="spacingAndGlyphs" >expression level</text>
<text x="397.5" y="521.4" font-size="6" text-anchor="start" font-weight="normal" fill="#333" stroke="#333" stroke-width="0.18" textLength="9.5" lengthAdjust="spacingAndGlyphs" >min</text>
<rect x="410.2" y="516.6" width="25.6" height="4.8" fill="url(#gExprE)"/>
<text x="439" y="521.4" font-size="6" text-anchor="start" font-weight="normal" fill="#333" stroke="#333" stroke-width="0.18" textLength="10.5" lengthAdjust="spacingAndGlyphs" >max</text>
<rect x="0.5" y="0.5" width="519" height="624" fill="none" stroke="#555" stroke-width="1"/>
</svg>
</body></html>
